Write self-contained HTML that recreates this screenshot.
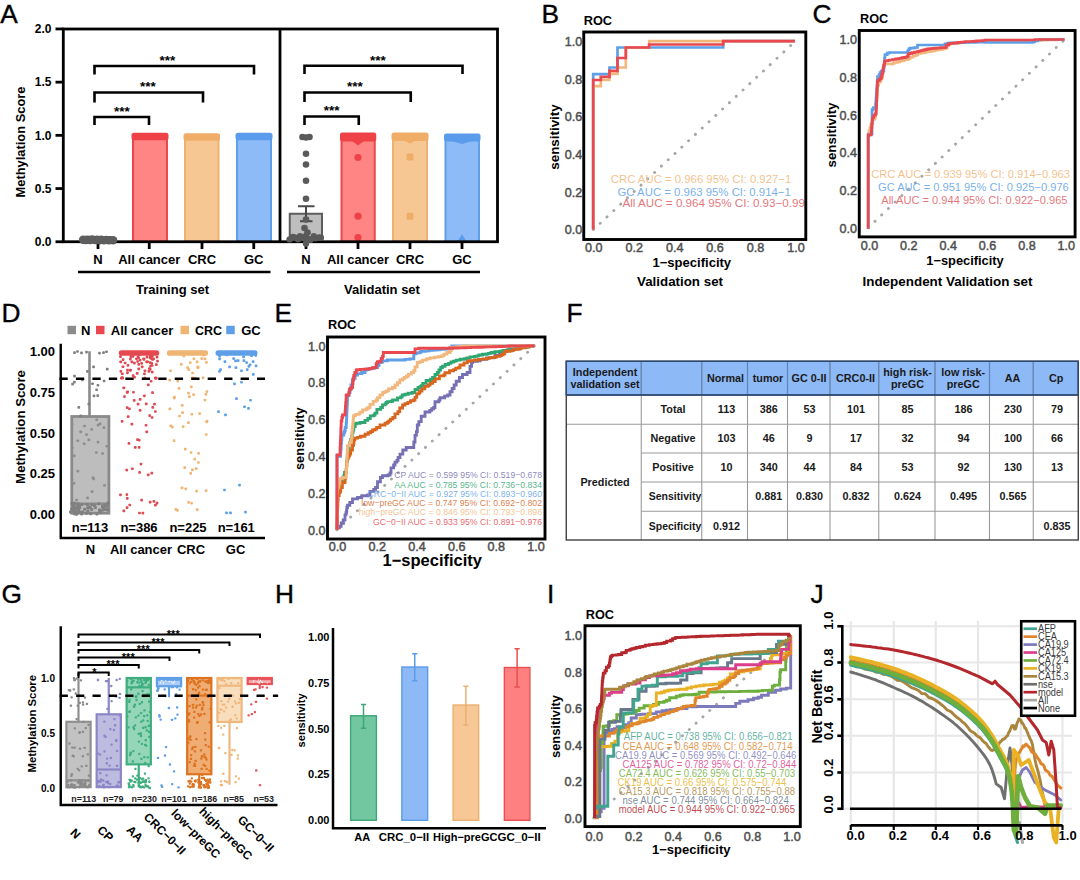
<!DOCTYPE html><html><head><meta charset="utf-8"><title>Figure</title><style>html,body{margin:0;padding:0;background:#fff}svg{display:block}text{font-family:"Liberation Sans",sans-serif}</style></head><body>
<svg width="1080" height="880" viewBox="0 0 1080 880">
<rect width="1080" height="880" fill="#fff"/>
<g id="pA">
<text x="0.30" y="23.20" font-size="26.3" font-weight="normal" fill="#000" text-anchor="start" stroke="#000" stroke-width="0.35">A</text>
<rect x="133.00" y="134.80" width="34.00" height="106.95" fill="#FF8585" stroke="#E8484E" stroke-width="2" />
<rect x="131.50" y="132.80" width="37.00" height="7.5" rx="2.5" fill="#EE4248"/>
<rect x="185.00" y="135.20" width="33.50" height="106.55" fill="#F7C793" stroke="#EDB073" stroke-width="2" />
<rect x="183.50" y="133.20" width="36.50" height="7.5" rx="2.5" fill="#F0AD68"/>
<rect x="237.00" y="134.80" width="34.00" height="106.95" fill="#8DBBF7" stroke="#5F9FEA" stroke-width="2" />
<rect x="235.50" y="132.80" width="37.00" height="7.5" rx="2.5" fill="#5B9BEB"/>
<rect x="289.75" y="213.75" width="32.25" height="28.00" fill="#BEBEBE" stroke="#5E5E5E" stroke-width="2" />
<line x1="306.00" y1="206.25" x2="306.00" y2="221.25" stroke="#4A4A4A" stroke-width="2" />
<line x1="298.00" y1="206.25" x2="314.50" y2="206.25" stroke="#4A4A4A" stroke-width="2" />
<line x1="300.00" y1="221.25" x2="312.50" y2="221.25" stroke="#4A4A4A" stroke-width="2" />
<rect x="341.50" y="134.50" width="33.25" height="107.25" fill="#FF8585" stroke="#E8484E" stroke-width="2" />
<rect x="340.00" y="132.50" width="36.25" height="9" rx="2.5" fill="#EE4248"/>
<path d="M352 141 L358 145.5 L364 141 Z" fill="#EE4248"/>
<rect x="393.00" y="134.50" width="34.00" height="107.25" fill="#F7C793" stroke="#EDB073" stroke-width="2" />
<rect x="391.50" y="132.50" width="37.00" height="8.5" rx="2.5" fill="#F0AD68"/>
<path d="M404 140.5 L410 143.5 L416 140.5 Z" fill="#F0AD68"/>
<rect x="445.50" y="135.50" width="33.50" height="106.25" fill="#8DBBF7" stroke="#5F9FEA" stroke-width="2" />
<rect x="444.00" y="133.50" width="36.50" height="8" rx="2.5" fill="#5B9BEB"/>
<path d="M452 141 L462 144 L472 141 Z" fill="#5B9BEB"/>
<circle cx="358.0" cy="157.5" r="3.6" fill="#EE4248" />
<circle cx="358.0" cy="216.2" r="3.6" fill="#EE4248" />
<circle cx="358.0" cy="237.5" r="3.6" fill="#EE4248" />
<rect x="406.60" y="153.60" width="6.80" height="6.80" fill="#F0AD68" stroke="none" stroke-width="1" rx="1"/>
<rect x="406.60" y="212.85" width="6.80" height="6.80" fill="#F0AD68" stroke="none" stroke-width="1" rx="1"/>
<path d="M458 241 L462 234 L466 241 Z" fill="#5B9BEB"/>
<rect x="63.30" y="29.00" width="434.20" height="212.75" fill="none" stroke="#000" stroke-width="2.8" />
<line x1="280.00" y1="29.00" x2="280.00" y2="241.75" stroke="#000" stroke-width="2.8" />
<line x1="55.50" y1="28.95" x2="63.30" y2="28.95" stroke="#000" stroke-width="2.8" />
<text x="51.50" y="33.25" font-size="12" font-weight="bold" fill="#000" text-anchor="end" >2.0</text>
<line x1="55.50" y1="82.15" x2="63.30" y2="82.15" stroke="#000" stroke-width="2.8" />
<text x="51.50" y="86.45" font-size="12" font-weight="bold" fill="#000" text-anchor="end" >1.5</text>
<line x1="55.50" y1="135.35" x2="63.30" y2="135.35" stroke="#000" stroke-width="2.8" />
<text x="51.50" y="139.65" font-size="12" font-weight="bold" fill="#000" text-anchor="end" >1.0</text>
<line x1="55.50" y1="188.55" x2="63.30" y2="188.55" stroke="#000" stroke-width="2.8" />
<text x="51.50" y="192.85" font-size="12" font-weight="bold" fill="#000" text-anchor="end" >0.5</text>
<line x1="55.50" y1="241.75" x2="63.30" y2="241.75" stroke="#000" stroke-width="2.8" />
<text x="51.50" y="246.05" font-size="12" font-weight="bold" fill="#000" text-anchor="end" >0.0</text>
<line x1="98.00" y1="241.75" x2="98.00" y2="249.00" stroke="#000" stroke-width="2.8" />
<text x="98.00" y="263.75" font-size="13" font-weight="bold" fill="#000" text-anchor="middle" >N</text>
<line x1="149.25" y1="241.75" x2="149.25" y2="249.00" stroke="#000" stroke-width="2.8" />
<text x="149.25" y="263.75" font-size="13" font-weight="bold" fill="#000" text-anchor="middle" >All cancer</text>
<line x1="202.00" y1="241.75" x2="202.00" y2="249.00" stroke="#000" stroke-width="2.8" />
<text x="202.00" y="263.75" font-size="13" font-weight="bold" fill="#000" text-anchor="middle" >CRC</text>
<line x1="253.75" y1="241.75" x2="253.75" y2="249.00" stroke="#000" stroke-width="2.8" />
<text x="253.75" y="263.75" font-size="13" font-weight="bold" fill="#000" text-anchor="middle" >GC</text>
<line x1="306.00" y1="241.75" x2="306.00" y2="249.00" stroke="#000" stroke-width="2.8" />
<text x="306.00" y="263.75" font-size="13" font-weight="bold" fill="#000" text-anchor="middle" >N</text>
<line x1="358.00" y1="241.75" x2="358.00" y2="249.00" stroke="#000" stroke-width="2.8" />
<text x="358.00" y="263.75" font-size="13" font-weight="bold" fill="#000" text-anchor="middle" >All cancer</text>
<line x1="410.00" y1="241.75" x2="410.00" y2="249.00" stroke="#000" stroke-width="2.8" />
<text x="410.00" y="263.75" font-size="13" font-weight="bold" fill="#000" text-anchor="middle" >CRC</text>
<line x1="462.00" y1="241.75" x2="462.00" y2="249.00" stroke="#000" stroke-width="2.8" />
<text x="462.00" y="263.75" font-size="13" font-weight="bold" fill="#000" text-anchor="middle" >GC</text>
<line x1="78.00" y1="272.00" x2="270.50" y2="272.00" stroke="#000" stroke-width="2.6" />
<line x1="287.00" y1="272.00" x2="480.00" y2="272.00" stroke="#000" stroke-width="2.6" />
<text x="172.50" y="293.75" font-size="13" font-weight="bold" fill="#000" text-anchor="middle" >Training set</text>
<text x="382.00" y="293.75" font-size="13" font-weight="bold" fill="#000" text-anchor="middle" >Validatin set</text>
<text x="25.00" y="142.00" font-size="13" font-weight="bold" fill="#000" text-anchor="middle" transform="rotate(-90 25.00 142.00)" textLength="111.00" lengthAdjust="spacingAndGlyphs" >Methylation Score</text>
<circle cx="302.5" cy="137.0" r="3.3" fill="#5A5A5A" />
<circle cx="306.0" cy="137.5" r="3.3" fill="#5A5A5A" />
<circle cx="309.5" cy="137.0" r="3.3" fill="#5A5A5A" />
<circle cx="306.0" cy="153.8" r="3.3" fill="#5A5A5A" />
<circle cx="306.0" cy="164.5" r="3.3" fill="#5A5A5A" />
<circle cx="306.0" cy="180.8" r="3.3" fill="#5A5A5A" />
<circle cx="306.0" cy="198.8" r="3.3" fill="#5A5A5A" />
<circle cx="306.0" cy="219.5" r="3.3" fill="#5A5A5A" />
<circle cx="304.5" cy="228.0" r="3.3" fill="#5A5A5A" />
<circle cx="307.5" cy="232.5" r="3.3" fill="#5A5A5A" />
<circle cx="289.6" cy="239.4" r="3.2" fill="#5A5A5A" />
<circle cx="292.9" cy="237.0" r="3.2" fill="#5A5A5A" />
<circle cx="295.2" cy="237.8" r="3.2" fill="#5A5A5A" />
<circle cx="298.0" cy="239.2" r="3.2" fill="#5A5A5A" />
<circle cx="300.0" cy="236.1" r="3.2" fill="#5A5A5A" />
<circle cx="303.3" cy="237.7" r="3.2" fill="#5A5A5A" />
<circle cx="305.9" cy="236.0" r="3.2" fill="#5A5A5A" />
<circle cx="308.1" cy="238.9" r="3.2" fill="#5A5A5A" />
<circle cx="310.5" cy="239.8" r="3.2" fill="#5A5A5A" />
<circle cx="313.8" cy="236.1" r="3.2" fill="#5A5A5A" />
<circle cx="315.5" cy="238.2" r="3.2" fill="#5A5A5A" />
<circle cx="319.0" cy="237.5" r="3.2" fill="#5A5A5A" />
<circle cx="320.9" cy="237.7" r="3.2" fill="#5A5A5A" />
<circle cx="306.0" cy="243.5" r="3.2" fill="#5A5A5A" />
<circle cx="83.1" cy="239.7" r="4.2" fill="#5E5E5E" />
<circle cx="85.7" cy="240.0" r="4.2" fill="#5E5E5E" />
<circle cx="87.8" cy="239.7" r="4.2" fill="#5E5E5E" />
<circle cx="90.0" cy="240.0" r="4.2" fill="#5E5E5E" />
<circle cx="92.3" cy="239.5" r="4.2" fill="#5E5E5E" />
<circle cx="95.0" cy="240.1" r="4.2" fill="#5E5E5E" />
<circle cx="97.1" cy="239.7" r="4.2" fill="#5E5E5E" />
<circle cx="99.6" cy="240.4" r="4.2" fill="#5E5E5E" />
<circle cx="101.2" cy="239.8" r="4.2" fill="#5E5E5E" />
<circle cx="103.9" cy="240.2" r="4.2" fill="#5E5E5E" />
<circle cx="106.3" cy="239.9" r="4.2" fill="#5E5E5E" />
<circle cx="108.5" cy="240.2" r="4.2" fill="#5E5E5E" />
<circle cx="110.3" cy="240.1" r="4.2" fill="#5E5E5E" />
<circle cx="113.1" cy="240.3" r="4.2" fill="#5E5E5E" />
<path d="M94.5 125 V117 H149 V125" fill="none" stroke="#000" stroke-width="2.6"/>
<text x="122.00" y="115.80" font-size="13.5" font-weight="bold" fill="#000" text-anchor="middle" >***</text>
<path d="M94.5 102.5 V92.5 H203 V102.5" fill="none" stroke="#000" stroke-width="2.6"/>
<text x="148.00" y="91.30" font-size="13.5" font-weight="bold" fill="#000" text-anchor="middle" >***</text>
<path d="M94.5 74.5 V66 H254 V74.5" fill="none" stroke="#000" stroke-width="2.6"/>
<text x="167.50" y="64.80" font-size="13.5" font-weight="bold" fill="#000" text-anchor="middle" >***</text>
<path d="M304.5 125 V116.5 H358.75 V125" fill="none" stroke="#000" stroke-width="2.6"/>
<text x="331.75" y="115.30" font-size="13.5" font-weight="bold" fill="#000" text-anchor="middle" >***</text>
<path d="M304.5 102 V92.5 H410.75 V102" fill="none" stroke="#000" stroke-width="2.6"/>
<text x="355.00" y="91.30" font-size="13.5" font-weight="bold" fill="#000" text-anchor="middle" >***</text>
<path d="M304.5 74 V65.75 H462.5 V74" fill="none" stroke="#000" stroke-width="2.6"/>
<text x="378.00" y="64.55" font-size="13.5" font-weight="bold" fill="#000" text-anchor="middle" >***</text>
</g>
<g id="pB">
<text x="541.40" y="23.20" font-size="26.3" font-weight="normal" fill="#000" text-anchor="start" stroke="#000" stroke-width="0.35">B</text>
<line x1="593.40" y1="229.60" x2="795.10" y2="41.40" stroke="#A6A6A6" stroke-width="2.9" stroke-linecap="round" stroke-dasharray="0.1 9.2"/>
<polyline points="593.2,229.5 593.2,74.2 609.5,74.2 609.5,67.5 617.5,67.5 617.5,47.5 723.2,47.5 723.2,41.2 795.0,41.2" fill="none" stroke="#5E9FE8" stroke-width="2.7" stroke-linejoin="miter"/>
<polyline points="593.2,229.5 593.2,86.2 600.8,86.2 600.8,80.0 609.5,80.0 609.5,73.8 617.5,73.8 617.5,67.5 625.8,67.5 625.8,47.5 649.2,47.5 649.2,41.2 795.0,41.2" fill="none" stroke="#F2B77C" stroke-width="2.7" stroke-linejoin="miter"/>
<polyline points="593.2,229.5 593.2,80.0 600.8,80.0 600.8,76.8 609.5,76.8 609.5,70.8 617.5,70.8 617.5,58.0 625.8,58.0 625.8,47.5 649.2,47.5 649.2,44.5 723.2,44.5 723.2,41.2 795.0,41.2" fill="none" stroke="#E8484E" stroke-width="2.7" stroke-linejoin="miter"/>
<clipPath id="cB"><rect x="584" y="32" width="221" height="206"/></clipPath>
<g clip-path="url(#cB)">
<text x="610.75" y="183.05" font-size="11.3" font-weight="normal" fill="#F2B77C" text-anchor="start" textLength="180.50" lengthAdjust="spacingAndGlyphs" fill-opacity="0.88">CRC AUC = 0.966 95% CI: 0.927−1</text>
<text x="617.50" y="195.55" font-size="11.3" font-weight="normal" fill="#5E9FE8" text-anchor="start" textLength="173.30" lengthAdjust="spacingAndGlyphs" fill-opacity="0.85">GC AUC = 0.963 95% CI: 0.914−1</text>
<text x="622.50" y="207.05" font-size="11.3" font-weight="normal" fill="#E0545A" text-anchor="start" textLength="189.00" lengthAdjust="spacingAndGlyphs" fill-opacity="0.82">All AUC = 0.964 95% CI: 0.93−0.999</text>
</g>
<rect x="583.75" y="32.00" width="222.05" height="207.50" fill="none" stroke="#000" stroke-width="2.9" />
<text x="582.20" y="234.41" font-size="12.6" font-weight="normal" fill="#4D4D4D" text-anchor="end" stroke="#4D4D4D" stroke-width="0.45">0.0</text>
<text x="593.75" y="251.51" font-size="12.6" font-weight="normal" fill="#4D4D4D" text-anchor="middle" stroke="#4D4D4D" stroke-width="0.45">0.0</text>
<text x="582.20" y="196.77" font-size="12.6" font-weight="normal" fill="#4D4D4D" text-anchor="end" stroke="#4D4D4D" stroke-width="0.45">0.2</text>
<text x="634.20" y="251.51" font-size="12.6" font-weight="normal" fill="#4D4D4D" text-anchor="middle" stroke="#4D4D4D" stroke-width="0.45">0.2</text>
<text x="582.20" y="159.13" font-size="12.6" font-weight="normal" fill="#4D4D4D" text-anchor="end" stroke="#4D4D4D" stroke-width="0.45">0.4</text>
<text x="674.65" y="251.51" font-size="12.6" font-weight="normal" fill="#4D4D4D" text-anchor="middle" stroke="#4D4D4D" stroke-width="0.45">0.4</text>
<text x="582.20" y="121.49" font-size="12.6" font-weight="normal" fill="#4D4D4D" text-anchor="end" stroke="#4D4D4D" stroke-width="0.45">0.6</text>
<text x="715.10" y="251.51" font-size="12.6" font-weight="normal" fill="#4D4D4D" text-anchor="middle" stroke="#4D4D4D" stroke-width="0.45">0.6</text>
<text x="582.20" y="83.85" font-size="12.6" font-weight="normal" fill="#4D4D4D" text-anchor="end" stroke="#4D4D4D" stroke-width="0.45">0.8</text>
<text x="755.55" y="251.51" font-size="12.6" font-weight="normal" fill="#4D4D4D" text-anchor="middle" stroke="#4D4D4D" stroke-width="0.45">0.8</text>
<text x="582.20" y="46.21" font-size="12.6" font-weight="normal" fill="#4D4D4D" text-anchor="end" stroke="#4D4D4D" stroke-width="0.45">1.0</text>
<text x="796.00" y="251.51" font-size="12.6" font-weight="normal" fill="#4D4D4D" text-anchor="middle" stroke="#4D4D4D" stroke-width="0.45">1.0</text>
<text x="559.00" y="137.00" font-size="13" font-weight="bold" fill="#000" text-anchor="middle" transform="rotate(-90 559.00 137.00)" textLength="65.50" lengthAdjust="spacingAndGlyphs" >sensitivity</text>
<text x="583.75" y="25.00" font-size="13" font-weight="bold" fill="#000" text-anchor="start" textLength="28.30" lengthAdjust="spacingAndGlyphs" >ROC</text>
<text x="691.75" y="267.15" font-size="13" font-weight="bold" fill="#000" text-anchor="middle" textLength="78.75" lengthAdjust="spacingAndGlyphs" >1−specificity</text>
<text x="680.00" y="286.00" font-size="13.3" font-weight="bold" fill="#000" text-anchor="middle" textLength="86.00" lengthAdjust="spacingAndGlyphs" >Validation set</text>
</g>
<g id="pC">
<text x="812.60" y="23.20" font-size="26.3" font-weight="normal" fill="#000" text-anchor="start" stroke="#000" stroke-width="0.35">C</text>
<line x1="868.25" y1="227.80" x2="1064.50" y2="39.60" stroke="#A6A6A6" stroke-width="2.9" stroke-linecap="round" stroke-dasharray="0.1 9.2"/>
<polyline points="868.2,228.8 868.2,136.2 868.2,136.2 868.2,133.7 869.0,133.7 869.0,130.8 869.9,130.8 869.9,127.7 870.9,127.7 870.9,124.3 871.9,124.3 871.9,122.5 872.5,122.5 872.5,119.5 874.3,119.5 874.3,118.6 874.9,118.6 874.9,117.5 875.5,117.5 875.5,113.9 875.8,113.9 875.8,111.2 876.0,111.2 876.0,107.7 876.3,107.7 876.3,106.4 876.4,106.4 876.4,104.1 876.6,104.1 876.6,102.5 876.7,102.5 876.7,100.0 876.9,100.0 876.9,97.4 877.1,97.4 877.1,96.4 877.2,96.4 877.2,94.8 877.3,94.8 877.3,93.1 877.5,93.1 877.5,89.6 877.7,89.6 877.7,86.2 878.0,86.2 878.0,85.0 878.7,85.0 878.7,82.1 880.1,82.1 880.1,80.9 880.7,80.9 880.7,78.5 882.0,78.5 882.0,77.5 882.5,77.5 882.5,76.5 882.7,76.5 882.7,73.2 883.3,73.2 883.3,71.6 883.5,71.6 883.5,70.1 883.8,70.1 883.8,66.5 884.5,66.5 884.5,63.5 885.0,63.5 885.0,64.0 892.5,64.0 892.5,63.5 894.2,63.5 894.2,62.5 897.7,62.5 897.7,61.8 900.1,61.8 900.1,61.0 902.8,61.0 902.8,60.6 904.3,60.6 904.3,59.6 907.8,59.6 907.8,59.0 910.0,59.0 910.0,57.2 913.2,57.2 913.2,55.6 916.2,55.6 916.2,54.7 917.8,54.7 917.8,53.5 920.0,53.5 920.0,53.2 921.4,53.2 921.4,53.0 922.8,53.0 922.8,52.8 923.9,52.8 923.9,52.4 925.7,52.4 925.7,52.0 928.3,52.0 928.3,51.8 929.3,51.8 929.3,51.3 932.1,51.3 932.1,50.9 934.0,50.9 934.0,50.8 935.0,50.8 935.0,50.1 938.2,50.1 938.2,49.7 940.4,49.7 940.4,49.3 942.3,49.3 942.3,48.8 944.5,48.8 944.5,48.5 946.2,48.5 946.2,47.6 947.0,47.6 947.0,44.7 949.2,44.7 949.2,43.8 950.0,43.8 950.0,43.5 953.0,43.5 953.0,43.2 956.3,43.2 956.3,43.1 957.4,43.1 957.4,42.9 960.5,42.9 960.5,42.7 962.5,42.7 962.5,42.5 965.0,42.5 965.0,42.4 966.0,42.4 966.0,42.4 967.1,42.4 967.1,42.3 968.6,42.3 968.6,42.0 972.2,42.0 972.2,42.0 973.8,42.0 973.8,41.8 976.8,41.8 976.8,41.5 980.4,41.5 980.4,41.3 983.9,41.3 983.9,41.2 985.0,41.2 985.0,41.2 987.0,41.2 987.0,41.2 989.4,41.2 989.4,41.1 992.5,41.1 992.5,41.1 993.8,41.1 993.8,41.1 996.9,41.1 996.9,41.0 1000.0,41.0 1000.0,41.0 1003.4,41.0 1003.4,41.0 1004.5,41.0 1004.5,40.9 1008.1,40.9 1008.1,40.9 1009.3,40.9 1009.3,40.9 1011.2,40.9 1011.2,40.8 1013.9,40.8 1013.9,40.8 1017.4,40.8 1017.4,40.7 1019.3,40.7 1019.3,40.7 1022.9,40.7 1022.9,40.6 1025.4,40.6 1025.4,40.6 1027.2,40.6 1027.2,40.6 1029.1,40.6 1029.1,40.6 1030.6,40.6 1030.6,40.5 1031.8,40.5 1031.8,40.5 1033.2,40.5 1033.2,40.5 1035.0,40.5 1035.0,40.4 1038.7,40.4 1038.7,40.3 1040.2,40.3 1040.2,40.3 1041.3,40.3 1041.3,40.2 1045.0,40.2 1045.0,40.1 1047.4,40.1 1047.4,40.0 1049.5,40.0 1049.5,40.0 1051.2,40.0 1051.2,39.9 1053.8,39.9 1053.8,39.8 1057.1,39.8 1057.1,39.7 1059.3,39.7 1059.3,39.6 1061.5,39.6 1061.5,39.6 1062.6,39.6 1062.6,39.5 1064.5,39.5" fill="none" stroke="#F2B77C" stroke-width="2.7" stroke-linejoin="miter"/>
<polyline points="868.2,228.8 868.2,136.2 868.2,136.2 868.2,135.7 869.1,135.7 869.1,134.3 871.1,134.3 871.1,133.8 872.0,133.8 872.0,110.0 872.5,110.0 872.5,109.1 873.5,109.1 873.5,107.5 875.5,107.5 875.5,103.9 875.8,103.9 875.8,101.2 876.0,101.2 876.0,98.0 876.2,98.0 876.2,96.8 876.3,96.8 876.3,94.6 876.4,94.6 876.4,93.2 876.5,93.2 876.5,89.9 876.8,89.9 876.8,88.1 876.9,88.1 876.9,85.9 877.1,85.9 877.1,82.1 877.3,82.1 877.3,80.0 877.5,80.0 877.5,76.7 879.1,76.7 879.1,74.7 880.1,74.7 880.1,72.5 881.2,72.5 881.2,71.2 883.8,71.2 883.8,69.0 883.9,69.0 883.9,67.2 884.1,67.2 884.1,65.1 884.3,65.1 884.3,63.7 884.4,63.7 884.4,61.7 884.5,61.7 884.5,58.0 884.9,58.0 884.9,56.2 885.0,56.2 885.0,54.6 887.2,54.6 887.2,53.2 889.1,53.2 889.1,52.5 890.0,52.5 890.0,52.5 907.5,52.5 907.5,51.5 908.2,51.5 908.2,50.0 909.1,50.0 909.1,48.8 910.0,48.8 910.0,48.2 913.3,48.2 913.3,47.9 915.3,47.9 915.3,47.5 917.5,47.5 917.5,45.0 918.8,45.0 918.8,45.0 945.0,45.0 945.0,43.9 947.7,43.9 947.7,43.0 950.0,43.0 950.0,42.9 953.1,42.9 953.1,42.9 955.1,42.9 955.1,42.8 958.0,42.8 958.0,42.7 959.8,42.7 959.8,42.7 962.1,42.7 962.1,42.6 965.2,42.6 965.2,42.5 968.1,42.5 968.1,42.4 969.9,42.4 969.9,42.3 973.5,42.3 973.5,42.3 976.2,42.3 976.2,42.2 978.8,42.2 978.8,42.1 979.8,42.1 979.8,42.1 982.3,42.1 982.3,42.0 984.0,42.0 984.0,42.0 985.0,42.0 985.0,42.5 1032.5,42.5 1032.5,41.8 1034.6,41.8 1034.6,40.8 1037.7,40.8 1037.7,40.0 1040.0,40.0 1040.0,39.5 1064.5,39.5" fill="none" stroke="#5E9FE8" stroke-width="2.7" stroke-linejoin="miter"/>
<polyline points="868.2,228.8 868.2,136.2 868.2,136.2 868.2,135.0 871.2,135.0 871.2,133.1 871.4,133.1 871.4,130.3 871.6,130.3 871.6,127.3 871.9,127.3 871.9,124.0 872.2,124.0 872.2,122.1 872.3,122.1 872.3,120.0 872.5,120.0 872.5,117.5 873.8,117.5 873.8,115.1 875.3,115.1 875.3,113.8 876.2,113.8 876.2,110.1 876.4,110.1 876.4,107.7 876.5,107.7 876.5,105.3 876.6,105.3 876.6,103.8 876.6,103.8 876.6,100.5 876.8,100.5 876.8,97.0 876.9,97.0 876.9,94.7 877.0,94.7 877.0,91.8 877.1,91.8 877.1,88.8 877.2,88.8 877.2,85.8 877.4,85.8 877.4,84.4 877.4,84.4 877.4,82.5 877.5,82.5 877.5,80.7 879.3,80.7 879.3,78.8 881.2,78.8 881.2,76.7 881.8,76.7 881.8,73.8 882.5,73.8 882.5,70.7 883.1,70.7 883.1,68.0 883.6,68.0 883.6,65.1 884.2,65.1 884.2,64.0 884.4,64.0 884.4,62.6 884.7,62.6 884.7,61.2 885.0,61.2 885.0,60.8 887.7,60.8 887.7,60.5 889.3,60.5 889.3,60.0 892.5,60.0 892.5,59.5 895.2,59.5 895.2,59.2 896.3,59.2 896.3,58.8 898.5,58.8 898.5,58.5 900.1,58.5 900.1,58.3 901.2,58.3 901.2,58.0 902.5,58.0 902.5,57.6 904.4,57.6 904.4,57.3 905.8,57.3 905.8,57.0 907.5,57.0 907.5,56.1 908.2,56.1 908.2,53.8 910.0,53.8 910.0,53.3 912.0,53.3 912.0,52.6 914.6,52.6 914.6,52.0 917.1,52.0 917.1,51.6 918.7,51.6 918.7,51.2 920.0,51.2 920.0,51.0 921.0,51.0 921.0,50.5 923.0,50.5 923.0,50.1 924.7,50.1 924.7,49.6 926.8,49.6 926.8,49.2 928.0,49.2 928.0,48.8 930.0,48.8 930.0,48.6 932.0,48.6 932.0,48.5 933.1,48.5 933.1,48.3 935.8,48.3 935.8,48.2 937.0,48.2 937.0,48.0 939.5,48.0 939.5,47.9 941.4,47.9 941.4,47.7 944.0,47.7 944.0,47.5 946.2,47.5 946.2,45.2 948.5,45.2 948.5,43.8 950.0,43.8 950.0,43.4 953.2,43.4 953.2,43.1 955.9,43.1 955.9,42.8 957.9,42.8 957.9,42.7 959.3,42.7 959.3,42.4 961.9,42.4 961.9,42.0 965.0,42.0 965.0,41.7 968.6,41.7 968.6,41.5 972.3,41.5 972.3,41.3 974.9,41.3 974.9,41.1 976.9,41.1 976.9,40.9 980.3,40.9 980.3,40.8 981.3,40.8 981.3,40.7 982.6,40.7 982.6,40.5 985.0,40.5 985.0,40.0 1035.0,40.0 1035.0,39.5 1064.5,39.5" fill="none" stroke="#E8484E" stroke-width="2.7" stroke-linejoin="miter"/>
<text x="871.25" y="178.30" font-size="11.3" font-weight="normal" fill="#F2B77C" text-anchor="start" textLength="198.75" lengthAdjust="spacingAndGlyphs" fill-opacity="0.88">CRC AUC = 0.939 95% CI: 0.914−0.963</text>
<text x="878.00" y="191.05" font-size="11.3" font-weight="normal" fill="#5E9FE8" text-anchor="start" textLength="190.75" lengthAdjust="spacingAndGlyphs" fill-opacity="0.85">GC AUC = 0.951 95% CI: 0.925−0.976</text>
<text x="881.25" y="204.05" font-size="11.3" font-weight="normal" fill="#E0545A" text-anchor="start" textLength="186.25" lengthAdjust="spacingAndGlyphs" fill-opacity="0.82">All AUC = 0.944 95% CI: 0.922−0.965</text>
<rect x="859.25" y="30.50" width="215.85" height="206.40" fill="none" stroke="#000" stroke-width="2.9" />
<text x="857.00" y="232.61" font-size="12.6" font-weight="normal" fill="#4D4D4D" text-anchor="end" stroke="#4D4D4D" stroke-width="0.45">0.0</text>
<text x="869.50" y="249.51" font-size="12.6" font-weight="normal" fill="#4D4D4D" text-anchor="middle" stroke="#4D4D4D" stroke-width="0.45">0.0</text>
<text x="857.00" y="194.97" font-size="12.6" font-weight="normal" fill="#4D4D4D" text-anchor="end" stroke="#4D4D4D" stroke-width="0.45">0.2</text>
<text x="908.85" y="249.51" font-size="12.6" font-weight="normal" fill="#4D4D4D" text-anchor="middle" stroke="#4D4D4D" stroke-width="0.45">0.2</text>
<text x="857.00" y="157.33" font-size="12.6" font-weight="normal" fill="#4D4D4D" text-anchor="end" stroke="#4D4D4D" stroke-width="0.45">0.4</text>
<text x="948.20" y="249.51" font-size="12.6" font-weight="normal" fill="#4D4D4D" text-anchor="middle" stroke="#4D4D4D" stroke-width="0.45">0.4</text>
<text x="857.00" y="119.69" font-size="12.6" font-weight="normal" fill="#4D4D4D" text-anchor="end" stroke="#4D4D4D" stroke-width="0.45">0.6</text>
<text x="987.55" y="249.51" font-size="12.6" font-weight="normal" fill="#4D4D4D" text-anchor="middle" stroke="#4D4D4D" stroke-width="0.45">0.6</text>
<text x="857.00" y="82.05" font-size="12.6" font-weight="normal" fill="#4D4D4D" text-anchor="end" stroke="#4D4D4D" stroke-width="0.45">0.8</text>
<text x="1026.90" y="249.51" font-size="12.6" font-weight="normal" fill="#4D4D4D" text-anchor="middle" stroke="#4D4D4D" stroke-width="0.45">0.8</text>
<text x="857.00" y="44.41" font-size="12.6" font-weight="normal" fill="#4D4D4D" text-anchor="end" stroke="#4D4D4D" stroke-width="0.45">1.0</text>
<text x="1066.25" y="249.51" font-size="12.6" font-weight="normal" fill="#4D4D4D" text-anchor="middle" stroke="#4D4D4D" stroke-width="0.45">1.0</text>
<text x="836.00" y="135.00" font-size="13" font-weight="bold" fill="#000" text-anchor="middle" transform="rotate(-90 836.00 135.00)" textLength="65.00" lengthAdjust="spacingAndGlyphs" >sensitivity</text>
<text x="860.00" y="23.00" font-size="13" font-weight="bold" fill="#000" text-anchor="start" textLength="28.30" lengthAdjust="spacingAndGlyphs" >ROC</text>
<text x="965.00" y="264.65" font-size="13" font-weight="bold" fill="#000" text-anchor="middle" textLength="77.50" lengthAdjust="spacingAndGlyphs" >1−specificity</text>
<text x="947.50" y="286.30" font-size="13.4" font-weight="bold" fill="#000" text-anchor="middle" textLength="170.00" lengthAdjust="spacingAndGlyphs" >Independent Validation set</text>
</g>
<g id="pD">
<text x="1.40" y="322.00" font-size="26.3" font-weight="normal" fill="#000" text-anchor="start" stroke="#000" stroke-width="0.35">D</text>
<rect x="67.50" y="325.80" width="8.50" height="8.40" fill="#8C8C8C" stroke="none" stroke-width="1" />
<rect x="96.00" y="325.80" width="8.50" height="8.40" fill="#E8484E" stroke="none" stroke-width="1" />
<rect x="180.50" y="325.80" width="8.50" height="8.40" fill="#F0B573" stroke="none" stroke-width="1" />
<rect x="226.25" y="325.80" width="8.50" height="8.40" fill="#5E9FE8" stroke="none" stroke-width="1" />
<text x="81.00" y="334.65" font-size="13" font-weight="bold" fill="#000" text-anchor="start" >N</text>
<text x="110.75" y="334.65" font-size="13" font-weight="bold" fill="#000" text-anchor="start" textLength="62.50" lengthAdjust="spacingAndGlyphs" >All cancer</text>
<text x="195.00" y="334.65" font-size="13" font-weight="bold" fill="#000" text-anchor="start" textLength="27.00" lengthAdjust="spacingAndGlyphs" >CRC</text>
<text x="241.25" y="334.65" font-size="13" font-weight="bold" fill="#000" text-anchor="start" >GC</text>
<rect x="71.75" y="416.50" width="37.15" height="96.70" fill="#BDBDBD" stroke="#8A8A8A" stroke-width="2.8" />
<line x1="71.75" y1="503.75" x2="108.90" y2="503.75" stroke="#8A8A8A" stroke-width="2.4" />
<line x1="89.50" y1="416.25" x2="89.50" y2="351.25" stroke="#8A8A8A" stroke-width="2.6" />
<rect x="86.19" y="506.60" width="3.00" height="3.00" fill="#808080" stroke="none" stroke-width="1" rx="0.8"/>
<rect x="104.12" y="507.68" width="3.00" height="3.00" fill="#808080" stroke="none" stroke-width="1" rx="0.8"/>
<rect x="88.30" y="506.29" width="3.00" height="3.00" fill="#808080" stroke="none" stroke-width="1" rx="0.8"/>
<rect x="76.02" y="507.15" width="3.00" height="3.00" fill="#808080" stroke="none" stroke-width="1" rx="0.8"/>
<rect x="92.94" y="503.94" width="3.00" height="3.00" fill="#808080" stroke="none" stroke-width="1" rx="0.8"/>
<rect x="72.58" y="509.53" width="3.00" height="3.00" fill="#808080" stroke="none" stroke-width="1" rx="0.8"/>
<rect x="72.45" y="503.75" width="3.00" height="3.00" fill="#808080" stroke="none" stroke-width="1" rx="0.8"/>
<rect x="95.35" y="512.52" width="3.00" height="3.00" fill="#808080" stroke="none" stroke-width="1" rx="0.8"/>
<rect x="106.32" y="501.98" width="3.00" height="3.00" fill="#808080" stroke="none" stroke-width="1" rx="0.8"/>
<rect x="93.85" y="505.97" width="3.00" height="3.00" fill="#808080" stroke="none" stroke-width="1" rx="0.8"/>
<rect x="74.98" y="512.83" width="3.00" height="3.00" fill="#808080" stroke="none" stroke-width="1" rx="0.8"/>
<rect x="89.08" y="512.32" width="3.00" height="3.00" fill="#808080" stroke="none" stroke-width="1" rx="0.8"/>
<rect x="76.23" y="510.24" width="3.00" height="3.00" fill="#808080" stroke="none" stroke-width="1" rx="0.8"/>
<rect x="70.14" y="507.70" width="3.00" height="3.00" fill="#808080" stroke="none" stroke-width="1" rx="0.8"/>
<rect x="85.74" y="503.37" width="3.00" height="3.00" fill="#808080" stroke="none" stroke-width="1" rx="0.8"/>
<rect x="88.73" y="505.68" width="3.00" height="3.00" fill="#808080" stroke="none" stroke-width="1" rx="0.8"/>
<rect x="87.99" y="505.43" width="3.00" height="3.00" fill="#808080" stroke="none" stroke-width="1" rx="0.8"/>
<rect x="86.38" y="509.82" width="3.00" height="3.00" fill="#808080" stroke="none" stroke-width="1" rx="0.8"/>
<rect x="106.91" y="501.62" width="3.00" height="3.00" fill="#808080" stroke="none" stroke-width="1" rx="0.8"/>
<rect x="100.93" y="504.91" width="3.00" height="3.00" fill="#808080" stroke="none" stroke-width="1" rx="0.8"/>
<rect x="80.98" y="510.38" width="3.00" height="3.00" fill="#808080" stroke="none" stroke-width="1" rx="0.8"/>
<rect x="79.98" y="512.20" width="3.00" height="3.00" fill="#808080" stroke="none" stroke-width="1" rx="0.8"/>
<rect x="98.12" y="508.42" width="3.00" height="3.00" fill="#808080" stroke="none" stroke-width="1" rx="0.8"/>
<rect x="101.17" y="508.58" width="3.00" height="3.00" fill="#808080" stroke="none" stroke-width="1" rx="0.8"/>
<rect x="105.41" y="503.32" width="3.00" height="3.00" fill="#808080" stroke="none" stroke-width="1" rx="0.8"/>
<rect x="69.02" y="510.60" width="3.00" height="3.00" fill="#808080" stroke="none" stroke-width="1" rx="0.8"/>
<rect x="103.59" y="507.63" width="3.00" height="3.00" fill="#808080" stroke="none" stroke-width="1" rx="0.8"/>
<rect x="106.25" y="508.46" width="3.00" height="3.00" fill="#808080" stroke="none" stroke-width="1" rx="0.8"/>
<rect x="71.78" y="505.81" width="3.00" height="3.00" fill="#808080" stroke="none" stroke-width="1" rx="0.8"/>
<rect x="98.58" y="509.92" width="3.00" height="3.00" fill="#808080" stroke="none" stroke-width="1" rx="0.8"/>
<rect x="72.31" y="509.20" width="3.00" height="3.00" fill="#808080" stroke="none" stroke-width="1" rx="0.8"/>
<rect x="105.63" y="504.34" width="3.00" height="3.00" fill="#808080" stroke="none" stroke-width="1" rx="0.8"/>
<rect x="73.48" y="510.18" width="3.00" height="3.00" fill="#808080" stroke="none" stroke-width="1" rx="0.8"/>
<rect x="72.84" y="512.32" width="3.00" height="3.00" fill="#808080" stroke="none" stroke-width="1" rx="0.8"/>
<rect x="99.29" y="510.97" width="3.00" height="3.00" fill="#808080" stroke="none" stroke-width="1" rx="0.8"/>
<rect x="90.25" y="507.89" width="3.00" height="3.00" fill="#808080" stroke="none" stroke-width="1" rx="0.8"/>
<rect x="76.25" y="504.64" width="3.00" height="3.00" fill="#808080" stroke="none" stroke-width="1" rx="0.8"/>
<rect x="73.98" y="505.64" width="3.00" height="3.00" fill="#808080" stroke="none" stroke-width="1" rx="0.8"/>
<rect x="73.43" y="508.19" width="3.00" height="3.00" fill="#808080" stroke="none" stroke-width="1" rx="0.8"/>
<rect x="77.09" y="509.92" width="3.00" height="3.00" fill="#808080" stroke="none" stroke-width="1" rx="0.8"/>
<rect x="105.90" y="503.82" width="3.00" height="3.00" fill="#808080" stroke="none" stroke-width="1" rx="0.8"/>
<rect x="80.56" y="502.89" width="3.00" height="3.00" fill="#808080" stroke="none" stroke-width="1" rx="0.8"/>
<rect x="77.01" y="508.49" width="3.00" height="3.00" fill="#808080" stroke="none" stroke-width="1" rx="0.8"/>
<rect x="101.47" y="505.67" width="3.00" height="3.00" fill="#808080" stroke="none" stroke-width="1" rx="0.8"/>
<rect x="72.81" y="501.69" width="3.00" height="3.00" fill="#808080" stroke="none" stroke-width="1" rx="0.8"/>
<rect x="77.10" y="510.05" width="3.00" height="3.00" fill="#808080" stroke="none" stroke-width="1" rx="0.8"/>
<rect x="98.36" y="509.24" width="3.00" height="3.00" fill="#808080" stroke="none" stroke-width="1" rx="0.8"/>
<rect x="80.26" y="512.16" width="3.00" height="3.00" fill="#808080" stroke="none" stroke-width="1" rx="0.8"/>
<rect x="72.42" y="506.34" width="3.00" height="3.00" fill="#808080" stroke="none" stroke-width="1" rx="0.8"/>
<rect x="78.23" y="506.13" width="3.00" height="3.00" fill="#808080" stroke="none" stroke-width="1" rx="0.8"/>
<rect x="83.12" y="507.82" width="3.00" height="3.00" fill="#808080" stroke="none" stroke-width="1" rx="0.8"/>
<rect x="105.45" y="507.47" width="3.00" height="3.00" fill="#808080" stroke="none" stroke-width="1" rx="0.8"/>
<rect x="90.83" y="503.10" width="3.00" height="3.00" fill="#808080" stroke="none" stroke-width="1" rx="0.8"/>
<rect x="75.95" y="511.24" width="3.00" height="3.00" fill="#808080" stroke="none" stroke-width="1" rx="0.8"/>
<rect x="103.52" y="503.65" width="3.00" height="3.00" fill="#808080" stroke="none" stroke-width="1" rx="0.8"/>
<rect x="78.48" y="510.83" width="3.00" height="3.00" fill="#808080" stroke="none" stroke-width="1" rx="0.8"/>
<rect x="97.10" y="502.25" width="3.00" height="3.00" fill="#808080" stroke="none" stroke-width="1" rx="0.8"/>
<rect x="76.47" y="502.14" width="3.00" height="3.00" fill="#808080" stroke="none" stroke-width="1" rx="0.8"/>
<rect x="102.52" y="506.10" width="3.00" height="3.00" fill="#808080" stroke="none" stroke-width="1" rx="0.8"/>
<rect x="85.02" y="511.81" width="3.00" height="3.00" fill="#808080" stroke="none" stroke-width="1" rx="0.8"/>
<rect x="70.47" y="502.00" width="3.00" height="3.00" fill="#808080" stroke="none" stroke-width="1" rx="0.8"/>
<rect x="78.06" y="504.95" width="3.00" height="3.00" fill="#808080" stroke="none" stroke-width="1" rx="0.8"/>
<rect x="79.40" y="430.45" width="2.70" height="2.70" fill="#8E8E8E" stroke="none" stroke-width="1" rx="0.8"/>
<rect x="91.62" y="476.33" width="2.70" height="2.70" fill="#8E8E8E" stroke="none" stroke-width="1" rx="0.8"/>
<rect x="76.47" y="439.40" width="2.70" height="2.70" fill="#8E8E8E" stroke="none" stroke-width="1" rx="0.8"/>
<rect x="72.63" y="481.96" width="2.70" height="2.70" fill="#8E8E8E" stroke="none" stroke-width="1" rx="0.8"/>
<rect x="90.29" y="427.97" width="2.70" height="2.70" fill="#8E8E8E" stroke="none" stroke-width="1" rx="0.8"/>
<rect x="92.26" y="477.48" width="2.70" height="2.70" fill="#8E8E8E" stroke="none" stroke-width="1" rx="0.8"/>
<rect x="103.17" y="484.07" width="2.70" height="2.70" fill="#8E8E8E" stroke="none" stroke-width="1" rx="0.8"/>
<rect x="70.75" y="478.43" width="2.70" height="2.70" fill="#8E8E8E" stroke="none" stroke-width="1" rx="0.8"/>
<rect x="86.20" y="496.49" width="2.70" height="2.70" fill="#8E8E8E" stroke="none" stroke-width="1" rx="0.8"/>
<rect x="76.50" y="469.81" width="2.70" height="2.70" fill="#8E8E8E" stroke="none" stroke-width="1" rx="0.8"/>
<rect x="90.75" y="490.34" width="2.70" height="2.70" fill="#8E8E8E" stroke="none" stroke-width="1" rx="0.8"/>
<rect x="83.19" y="424.64" width="2.70" height="2.70" fill="#8E8E8E" stroke="none" stroke-width="1" rx="0.8"/>
<rect x="105.45" y="444.88" width="2.70" height="2.70" fill="#8E8E8E" stroke="none" stroke-width="1" rx="0.8"/>
<rect x="95.03" y="451.16" width="2.70" height="2.70" fill="#8E8E8E" stroke="none" stroke-width="1" rx="0.8"/>
<rect x="75.20" y="498.69" width="2.70" height="2.70" fill="#8E8E8E" stroke="none" stroke-width="1" rx="0.8"/>
<rect x="70.79" y="422.97" width="2.70" height="2.70" fill="#8E8E8E" stroke="none" stroke-width="1" rx="0.8"/>
<rect x="95.38" y="418.42" width="2.70" height="2.70" fill="#8E8E8E" stroke="none" stroke-width="1" rx="0.8"/>
<rect x="70.92" y="446.68" width="2.70" height="2.70" fill="#8E8E8E" stroke="none" stroke-width="1" rx="0.8"/>
<rect x="87.51" y="438.52" width="2.70" height="2.70" fill="#8E8E8E" stroke="none" stroke-width="1" rx="0.8"/>
<rect x="81.63" y="415.26" width="2.70" height="2.70" fill="#8E8E8E" stroke="none" stroke-width="1" rx="0.8"/>
<rect x="72.86" y="454.47" width="2.70" height="2.70" fill="#8E8E8E" stroke="none" stroke-width="1" rx="0.8"/>
<rect x="96.68" y="423.84" width="2.70" height="2.70" fill="#8E8E8E" stroke="none" stroke-width="1" rx="0.8"/>
<rect x="96.69" y="440.84" width="2.70" height="2.70" fill="#8E8E8E" stroke="none" stroke-width="1" rx="0.8"/>
<rect x="98.71" y="422.55" width="2.70" height="2.70" fill="#8E8E8E" stroke="none" stroke-width="1" rx="0.8"/>
<rect x="82.82" y="442.44" width="2.70" height="2.70" fill="#8E8E8E" stroke="none" stroke-width="1" rx="0.8"/>
<rect x="102.58" y="426.35" width="2.70" height="2.70" fill="#8E8E8E" stroke="none" stroke-width="1" rx="0.8"/>
<rect x="85.17" y="433.32" width="2.70" height="2.70" fill="#8E8E8E" stroke="none" stroke-width="1" rx="0.8"/>
<rect x="101.24" y="452.16" width="2.70" height="2.70" fill="#8E8E8E" stroke="none" stroke-width="1" rx="0.8"/>
<rect x="92.65" y="394.60" width="2.70" height="2.70" fill="#808080" stroke="none" stroke-width="1" rx="0.8"/>
<rect x="91.13" y="382.40" width="2.70" height="2.70" fill="#808080" stroke="none" stroke-width="1" rx="0.8"/>
<rect x="73.04" y="380.75" width="2.70" height="2.70" fill="#808080" stroke="none" stroke-width="1" rx="0.8"/>
<rect x="105.91" y="367.80" width="2.70" height="2.70" fill="#808080" stroke="none" stroke-width="1" rx="0.8"/>
<rect x="96.37" y="394.27" width="2.70" height="2.70" fill="#808080" stroke="none" stroke-width="1" rx="0.8"/>
<rect x="96.61" y="383.90" width="2.70" height="2.70" fill="#808080" stroke="none" stroke-width="1" rx="0.8"/>
<rect x="86.01" y="370.03" width="2.70" height="2.70" fill="#808080" stroke="none" stroke-width="1" rx="0.8"/>
<rect x="73.17" y="374.78" width="2.70" height="2.70" fill="#808080" stroke="none" stroke-width="1" rx="0.8"/>
<rect x="71.22" y="382.81" width="2.70" height="2.70" fill="#808080" stroke="none" stroke-width="1" rx="0.8"/>
<rect x="87.46" y="402.80" width="2.70" height="2.70" fill="#808080" stroke="none" stroke-width="1" rx="0.8"/>
<rect x="95.29" y="388.41" width="2.70" height="2.70" fill="#808080" stroke="none" stroke-width="1" rx="0.8"/>
<rect x="92.27" y="365.61" width="2.70" height="2.70" fill="#808080" stroke="none" stroke-width="1" rx="0.8"/>
<rect x="79.36" y="414.59" width="2.70" height="2.70" fill="#808080" stroke="none" stroke-width="1" rx="0.8"/>
<rect x="80.99" y="378.67" width="2.70" height="2.70" fill="#808080" stroke="none" stroke-width="1" rx="0.8"/>
<rect x="77.44" y="406.06" width="2.70" height="2.70" fill="#808080" stroke="none" stroke-width="1" rx="0.8"/>
<rect x="102.76" y="379.64" width="2.70" height="2.70" fill="#808080" stroke="none" stroke-width="1" rx="0.8"/>
<rect x="73.15" y="351.27" width="2.70" height="2.70" fill="#808080" stroke="none" stroke-width="1" rx="0.8"/>
<rect x="76.15" y="350.17" width="2.70" height="2.70" fill="#808080" stroke="none" stroke-width="1" rx="0.8"/>
<rect x="80.15" y="351.55" width="2.70" height="2.70" fill="#808080" stroke="none" stroke-width="1" rx="0.8"/>
<rect x="85.15" y="350.72" width="2.70" height="2.70" fill="#808080" stroke="none" stroke-width="1" rx="0.8"/>
<rect x="98.15" y="351.86" width="2.70" height="2.70" fill="#808080" stroke="none" stroke-width="1" rx="0.8"/>
<rect x="102.15" y="351.29" width="2.70" height="2.70" fill="#808080" stroke="none" stroke-width="1" rx="0.8"/>
<rect x="105.15" y="350.38" width="2.70" height="2.70" fill="#808080" stroke="none" stroke-width="1" rx="0.8"/>
<rect x="118.75" y="350.25" width="40.50" height="5.6" rx="2.8" fill="#E8484E"/>
<rect x="133.20" y="375.88" width="2.70" height="2.70" fill="#DE4A52" stroke="none" stroke-width="1" rx="0.8"/>
<rect x="140.85" y="365.44" width="2.70" height="2.70" fill="#DE4A52" stroke="none" stroke-width="1" rx="0.8"/>
<rect x="137.51" y="353.13" width="2.70" height="2.70" fill="#DE4A52" stroke="none" stroke-width="1" rx="0.8"/>
<rect x="150.63" y="357.17" width="2.70" height="2.70" fill="#DE4A52" stroke="none" stroke-width="1" rx="0.8"/>
<rect x="154.98" y="363.36" width="2.70" height="2.70" fill="#DE4A52" stroke="none" stroke-width="1" rx="0.8"/>
<rect x="129.06" y="368.74" width="2.70" height="2.70" fill="#DE4A52" stroke="none" stroke-width="1" rx="0.8"/>
<rect x="128.99" y="357.72" width="2.70" height="2.70" fill="#DE4A52" stroke="none" stroke-width="1" rx="0.8"/>
<rect x="126.64" y="363.95" width="2.70" height="2.70" fill="#DE4A52" stroke="none" stroke-width="1" rx="0.8"/>
<rect x="137.41" y="367.56" width="2.70" height="2.70" fill="#DE4A52" stroke="none" stroke-width="1" rx="0.8"/>
<rect x="130.54" y="360.50" width="2.70" height="2.70" fill="#DE4A52" stroke="none" stroke-width="1" rx="0.8"/>
<rect x="135.82" y="372.03" width="2.70" height="2.70" fill="#DE4A52" stroke="none" stroke-width="1" rx="0.8"/>
<rect x="121.28" y="376.84" width="2.70" height="2.70" fill="#DE4A52" stroke="none" stroke-width="1" rx="0.8"/>
<rect x="120.00" y="376.84" width="2.70" height="2.70" fill="#DE4A52" stroke="none" stroke-width="1" rx="0.8"/>
<rect x="145.68" y="355.76" width="2.70" height="2.70" fill="#DE4A52" stroke="none" stroke-width="1" rx="0.8"/>
<rect x="148.87" y="361.31" width="2.70" height="2.70" fill="#DE4A52" stroke="none" stroke-width="1" rx="0.8"/>
<rect x="119.14" y="355.32" width="2.70" height="2.70" fill="#DE4A52" stroke="none" stroke-width="1" rx="0.8"/>
<rect x="119.35" y="360.54" width="2.70" height="2.70" fill="#DE4A52" stroke="none" stroke-width="1" rx="0.8"/>
<rect x="150.34" y="362.10" width="2.70" height="2.70" fill="#DE4A52" stroke="none" stroke-width="1" rx="0.8"/>
<rect x="120.21" y="352.35" width="2.70" height="2.70" fill="#DE4A52" stroke="none" stroke-width="1" rx="0.8"/>
<rect x="142.62" y="357.97" width="2.70" height="2.70" fill="#DE4A52" stroke="none" stroke-width="1" rx="0.8"/>
<rect x="143.62" y="369.46" width="2.70" height="2.70" fill="#DE4A52" stroke="none" stroke-width="1" rx="0.8"/>
<rect x="149.48" y="356.74" width="2.70" height="2.70" fill="#DE4A52" stroke="none" stroke-width="1" rx="0.8"/>
<rect x="126.07" y="371.46" width="2.70" height="2.70" fill="#DE4A52" stroke="none" stroke-width="1" rx="0.8"/>
<rect x="136.69" y="355.66" width="2.70" height="2.70" fill="#DE4A52" stroke="none" stroke-width="1" rx="0.8"/>
<rect x="136.58" y="352.35" width="2.70" height="2.70" fill="#DE4A52" stroke="none" stroke-width="1" rx="0.8"/>
<rect x="145.90" y="352.35" width="2.70" height="2.70" fill="#DE4A52" stroke="none" stroke-width="1" rx="0.8"/>
<rect x="131.71" y="354.95" width="2.70" height="2.70" fill="#DE4A52" stroke="none" stroke-width="1" rx="0.8"/>
<rect x="145.25" y="360.47" width="2.70" height="2.70" fill="#DE4A52" stroke="none" stroke-width="1" rx="0.8"/>
<rect x="147.51" y="370.02" width="2.70" height="2.70" fill="#DE4A52" stroke="none" stroke-width="1" rx="0.8"/>
<rect x="133.55" y="352.50" width="2.70" height="2.70" fill="#DE4A52" stroke="none" stroke-width="1" rx="0.8"/>
<rect x="121.76" y="358.23" width="2.70" height="2.70" fill="#DE4A52" stroke="none" stroke-width="1" rx="0.8"/>
<rect x="154.31" y="376.84" width="2.70" height="2.70" fill="#DE4A52" stroke="none" stroke-width="1" rx="0.8"/>
<rect x="135.86" y="352.35" width="2.70" height="2.70" fill="#DE4A52" stroke="none" stroke-width="1" rx="0.8"/>
<rect x="142.48" y="357.53" width="2.70" height="2.70" fill="#DE4A52" stroke="none" stroke-width="1" rx="0.8"/>
<rect x="140.30" y="361.96" width="2.70" height="2.70" fill="#DE4A52" stroke="none" stroke-width="1" rx="0.8"/>
<rect x="152.25" y="357.56" width="2.70" height="2.70" fill="#DE4A52" stroke="none" stroke-width="1" rx="0.8"/>
<rect x="136.25" y="360.13" width="2.70" height="2.70" fill="#DE4A52" stroke="none" stroke-width="1" rx="0.8"/>
<rect x="143.48" y="376.84" width="2.70" height="2.70" fill="#DE4A52" stroke="none" stroke-width="1" rx="0.8"/>
<rect x="149.91" y="356.47" width="2.70" height="2.70" fill="#DE4A52" stroke="none" stroke-width="1" rx="0.8"/>
<rect x="143.10" y="372.47" width="2.70" height="2.70" fill="#DE4A52" stroke="none" stroke-width="1" rx="0.8"/>
<rect x="153.05" y="352.35" width="2.70" height="2.70" fill="#DE4A52" stroke="none" stroke-width="1" rx="0.8"/>
<rect x="156.15" y="359.87" width="2.70" height="2.70" fill="#DE4A52" stroke="none" stroke-width="1" rx="0.8"/>
<rect x="148.85" y="367.95" width="2.70" height="2.70" fill="#DE4A52" stroke="none" stroke-width="1" rx="0.8"/>
<rect x="130.74" y="352.48" width="2.70" height="2.70" fill="#DE4A52" stroke="none" stroke-width="1" rx="0.8"/>
<rect x="131.82" y="374.31" width="2.70" height="2.70" fill="#DE4A52" stroke="none" stroke-width="1" rx="0.8"/>
<rect x="121.59" y="365.39" width="2.70" height="2.70" fill="#DE4A52" stroke="none" stroke-width="1" rx="0.8"/>
<rect x="147.98" y="367.21" width="2.70" height="2.70" fill="#DE4A52" stroke="none" stroke-width="1" rx="0.8"/>
<rect x="137.17" y="356.64" width="2.70" height="2.70" fill="#DE4A52" stroke="none" stroke-width="1" rx="0.8"/>
<rect x="120.87" y="376.22" width="2.70" height="2.70" fill="#DE4A52" stroke="none" stroke-width="1" rx="0.8"/>
<rect x="149.19" y="354.65" width="2.70" height="2.70" fill="#DE4A52" stroke="none" stroke-width="1" rx="0.8"/>
<rect x="148.73" y="356.08" width="2.70" height="2.70" fill="#DE4A52" stroke="none" stroke-width="1" rx="0.8"/>
<rect x="123.81" y="361.64" width="2.70" height="2.70" fill="#DE4A52" stroke="none" stroke-width="1" rx="0.8"/>
<rect x="146.26" y="360.43" width="2.70" height="2.70" fill="#DE4A52" stroke="none" stroke-width="1" rx="0.8"/>
<rect x="150.74" y="364.14" width="2.70" height="2.70" fill="#DE4A52" stroke="none" stroke-width="1" rx="0.8"/>
<rect x="137.36" y="363.09" width="2.70" height="2.70" fill="#DE4A52" stroke="none" stroke-width="1" rx="0.8"/>
<rect x="154.94" y="376.84" width="2.70" height="2.70" fill="#DE4A52" stroke="none" stroke-width="1" rx="0.8"/>
<rect x="138.68" y="358.81" width="2.70" height="2.70" fill="#DE4A52" stroke="none" stroke-width="1" rx="0.8"/>
<rect x="129.57" y="355.25" width="2.70" height="2.70" fill="#DE4A52" stroke="none" stroke-width="1" rx="0.8"/>
<rect x="138.53" y="352.68" width="2.70" height="2.70" fill="#DE4A52" stroke="none" stroke-width="1" rx="0.8"/>
<rect x="150.88" y="370.68" width="2.70" height="2.70" fill="#DE4A52" stroke="none" stroke-width="1" rx="0.8"/>
<rect x="133.08" y="361.71" width="2.70" height="2.70" fill="#DE4A52" stroke="none" stroke-width="1" rx="0.8"/>
<rect x="150.94" y="354.57" width="2.70" height="2.70" fill="#DE4A52" stroke="none" stroke-width="1" rx="0.8"/>
<rect x="151.15" y="358.04" width="2.70" height="2.70" fill="#DE4A52" stroke="none" stroke-width="1" rx="0.8"/>
<rect x="155.68" y="355.77" width="2.70" height="2.70" fill="#DE4A52" stroke="none" stroke-width="1" rx="0.8"/>
<rect x="126.14" y="368.85" width="2.70" height="2.70" fill="#DE4A52" stroke="none" stroke-width="1" rx="0.8"/>
<rect x="139.03" y="352.81" width="2.70" height="2.70" fill="#DE4A52" stroke="none" stroke-width="1" rx="0.8"/>
<rect x="119.47" y="369.93" width="2.70" height="2.70" fill="#DE4A52" stroke="none" stroke-width="1" rx="0.8"/>
<rect x="155.72" y="352.35" width="2.70" height="2.70" fill="#DE4A52" stroke="none" stroke-width="1" rx="0.8"/>
<rect x="149.24" y="364.69" width="2.70" height="2.70" fill="#DE4A52" stroke="none" stroke-width="1" rx="0.8"/>
<rect x="140.07" y="352.35" width="2.70" height="2.70" fill="#DE4A52" stroke="none" stroke-width="1" rx="0.8"/>
<rect x="120.94" y="372.38" width="2.70" height="2.70" fill="#DE4A52" stroke="none" stroke-width="1" rx="0.8"/>
<rect x="139.14" y="352.35" width="2.70" height="2.70" fill="#DE4A52" stroke="none" stroke-width="1" rx="0.8"/>
<rect x="153.95" y="376.84" width="2.70" height="2.70" fill="#DE4A52" stroke="none" stroke-width="1" rx="0.8"/>
<rect x="128.76" y="368.90" width="2.70" height="2.70" fill="#DE4A52" stroke="none" stroke-width="1" rx="0.8"/>
<rect x="135.10" y="357.45" width="2.70" height="2.70" fill="#DE4A52" stroke="none" stroke-width="1" rx="0.8"/>
<rect x="149.81" y="379.92" width="2.70" height="2.70" fill="#DE4A52" stroke="none" stroke-width="1" rx="0.8"/>
<rect x="136.75" y="402.77" width="2.70" height="2.70" fill="#DE4A52" stroke="none" stroke-width="1" rx="0.8"/>
<rect x="125.77" y="390.99" width="2.70" height="2.70" fill="#DE4A52" stroke="none" stroke-width="1" rx="0.8"/>
<rect x="154.02" y="410.13" width="2.70" height="2.70" fill="#DE4A52" stroke="none" stroke-width="1" rx="0.8"/>
<rect x="148.40" y="414.31" width="2.70" height="2.70" fill="#DE4A52" stroke="none" stroke-width="1" rx="0.8"/>
<rect x="125.87" y="406.30" width="2.70" height="2.70" fill="#DE4A52" stroke="none" stroke-width="1" rx="0.8"/>
<rect x="144.85" y="402.58" width="2.70" height="2.70" fill="#DE4A52" stroke="none" stroke-width="1" rx="0.8"/>
<rect x="132.08" y="390.92" width="2.70" height="2.70" fill="#DE4A52" stroke="none" stroke-width="1" rx="0.8"/>
<rect x="122.44" y="386.56" width="2.70" height="2.70" fill="#DE4A52" stroke="none" stroke-width="1" rx="0.8"/>
<rect x="123.13" y="395.20" width="2.70" height="2.70" fill="#DE4A52" stroke="none" stroke-width="1" rx="0.8"/>
<rect x="128.05" y="407.45" width="2.70" height="2.70" fill="#DE4A52" stroke="none" stroke-width="1" rx="0.8"/>
<rect x="138.82" y="398.09" width="2.70" height="2.70" fill="#DE4A52" stroke="none" stroke-width="1" rx="0.8"/>
<rect x="132.87" y="399.00" width="2.70" height="2.70" fill="#DE4A52" stroke="none" stroke-width="1" rx="0.8"/>
<rect x="138.78" y="408.94" width="2.70" height="2.70" fill="#DE4A52" stroke="none" stroke-width="1" rx="0.8"/>
<rect x="126.26" y="390.47" width="2.70" height="2.70" fill="#DE4A52" stroke="none" stroke-width="1" rx="0.8"/>
<rect x="142.98" y="394.45" width="2.70" height="2.70" fill="#DE4A52" stroke="none" stroke-width="1" rx="0.8"/>
<rect x="151.17" y="391.23" width="2.70" height="2.70" fill="#DE4A52" stroke="none" stroke-width="1" rx="0.8"/>
<rect x="151.39" y="406.08" width="2.70" height="2.70" fill="#DE4A52" stroke="none" stroke-width="1" rx="0.8"/>
<rect x="146.92" y="383.44" width="2.70" height="2.70" fill="#DE4A52" stroke="none" stroke-width="1" rx="0.8"/>
<rect x="153.15" y="402.82" width="2.70" height="2.70" fill="#DE4A52" stroke="none" stroke-width="1" rx="0.8"/>
<rect x="130.53" y="422.76" width="2.70" height="2.70" fill="#DE4A52" stroke="none" stroke-width="1" rx="0.8"/>
<rect x="126.80" y="415.36" width="2.70" height="2.70" fill="#DE4A52" stroke="none" stroke-width="1" rx="0.8"/>
<rect x="152.57" y="500.03" width="2.70" height="2.70" fill="#DE4A52" stroke="none" stroke-width="1" rx="0.8"/>
<rect x="127.61" y="441.98" width="2.70" height="2.70" fill="#DE4A52" stroke="none" stroke-width="1" rx="0.8"/>
<rect x="128.39" y="503.65" width="2.70" height="2.70" fill="#DE4A52" stroke="none" stroke-width="1" rx="0.8"/>
<rect x="150.44" y="471.85" width="2.70" height="2.70" fill="#DE4A52" stroke="none" stroke-width="1" rx="0.8"/>
<rect x="148.81" y="500.81" width="2.70" height="2.70" fill="#DE4A52" stroke="none" stroke-width="1" rx="0.8"/>
<rect x="133.91" y="446.03" width="2.70" height="2.70" fill="#DE4A52" stroke="none" stroke-width="1" rx="0.8"/>
<rect x="119.08" y="493.47" width="2.70" height="2.70" fill="#DE4A52" stroke="none" stroke-width="1" rx="0.8"/>
<rect x="144.67" y="423.88" width="2.70" height="2.70" fill="#DE4A52" stroke="none" stroke-width="1" rx="0.8"/>
<rect x="155.68" y="501.85" width="2.70" height="2.70" fill="#DE4A52" stroke="none" stroke-width="1" rx="0.8"/>
<rect x="137.87" y="438.89" width="2.70" height="2.70" fill="#DE4A52" stroke="none" stroke-width="1" rx="0.8"/>
<rect x="137.76" y="445.99" width="2.70" height="2.70" fill="#DE4A52" stroke="none" stroke-width="1" rx="0.8"/>
<rect x="125.68" y="506.24" width="2.70" height="2.70" fill="#DE4A52" stroke="none" stroke-width="1" rx="0.8"/>
<rect x="122.49" y="509.48" width="2.70" height="2.70" fill="#DE4A52" stroke="none" stroke-width="1" rx="0.8"/>
<rect x="139.64" y="462.72" width="2.70" height="2.70" fill="#DE4A52" stroke="none" stroke-width="1" rx="0.8"/>
<rect x="140.30" y="498.79" width="2.70" height="2.70" fill="#DE4A52" stroke="none" stroke-width="1" rx="0.8"/>
<rect x="125.50" y="493.18" width="2.70" height="2.70" fill="#DE4A52" stroke="none" stroke-width="1" rx="0.8"/>
<rect x="150.75" y="416.15" width="2.70" height="2.70" fill="#DE4A52" stroke="none" stroke-width="1" rx="0.8"/>
<rect x="154.09" y="503.82" width="2.70" height="2.70" fill="#DE4A52" stroke="none" stroke-width="1" rx="0.8"/>
<rect x="120.78" y="419.95" width="2.70" height="2.70" fill="#DE4A52" stroke="none" stroke-width="1" rx="0.8"/>
<rect x="136.19" y="438.25" width="2.70" height="2.70" fill="#DE4A52" stroke="none" stroke-width="1" rx="0.8"/>
<rect x="130.98" y="467.41" width="2.70" height="2.70" fill="#DE4A52" stroke="none" stroke-width="1" rx="0.8"/>
<rect x="138.24" y="471.02" width="2.70" height="2.70" fill="#DE4A52" stroke="none" stroke-width="1" rx="0.8"/>
<rect x="141.54" y="511.85" width="2.70" height="2.70" fill="#DE4A52" stroke="none" stroke-width="1" rx="0.8"/>
<rect x="145.39" y="430.45" width="2.70" height="2.70" fill="#DE4A52" stroke="none" stroke-width="1" rx="0.8"/>
<rect x="125.38" y="468.69" width="2.70" height="2.70" fill="#DE4A52" stroke="none" stroke-width="1" rx="0.8"/>
<rect x="146.86" y="473.45" width="2.70" height="2.70" fill="#DE4A52" stroke="none" stroke-width="1" rx="0.8"/>
<rect x="125.91" y="496.98" width="2.70" height="2.70" fill="#DE4A52" stroke="none" stroke-width="1" rx="0.8"/>
<rect x="138.13" y="511.64" width="2.70" height="2.70" fill="#DE4A52" stroke="none" stroke-width="1" rx="0.8"/>
<rect x="166.90" y="350.25" width="41.20" height="5.6" rx="2.8" fill="#F0B573"/>
<rect x="201.56" y="352.35" width="2.70" height="2.70" fill="#F0B573" stroke="none" stroke-width="1" rx="0.8"/>
<rect x="200.29" y="357.22" width="2.70" height="2.70" fill="#F0B573" stroke="none" stroke-width="1" rx="0.8"/>
<rect x="191.22" y="371.65" width="2.70" height="2.70" fill="#F0B573" stroke="none" stroke-width="1" rx="0.8"/>
<rect x="186.32" y="366.31" width="2.70" height="2.70" fill="#F0B573" stroke="none" stroke-width="1" rx="0.8"/>
<rect x="205.07" y="361.12" width="2.70" height="2.70" fill="#F0B573" stroke="none" stroke-width="1" rx="0.8"/>
<rect x="202.27" y="353.74" width="2.70" height="2.70" fill="#F0B573" stroke="none" stroke-width="1" rx="0.8"/>
<rect x="195.73" y="360.59" width="2.70" height="2.70" fill="#F0B573" stroke="none" stroke-width="1" rx="0.8"/>
<rect x="182.45" y="354.62" width="2.70" height="2.70" fill="#F0B573" stroke="none" stroke-width="1" rx="0.8"/>
<rect x="201.69" y="376.46" width="2.70" height="2.70" fill="#F0B573" stroke="none" stroke-width="1" rx="0.8"/>
<rect x="196.63" y="366.39" width="2.70" height="2.70" fill="#F0B573" stroke="none" stroke-width="1" rx="0.8"/>
<rect x="196.55" y="365.41" width="2.70" height="2.70" fill="#F0B573" stroke="none" stroke-width="1" rx="0.8"/>
<rect x="169.32" y="369.42" width="2.70" height="2.70" fill="#F0B573" stroke="none" stroke-width="1" rx="0.8"/>
<rect x="179.95" y="363.03" width="2.70" height="2.70" fill="#F0B573" stroke="none" stroke-width="1" rx="0.8"/>
<rect x="180.49" y="352.35" width="2.70" height="2.70" fill="#F0B573" stroke="none" stroke-width="1" rx="0.8"/>
<rect x="191.59" y="352.35" width="2.70" height="2.70" fill="#F0B573" stroke="none" stroke-width="1" rx="0.8"/>
<rect x="203.58" y="357.50" width="2.70" height="2.70" fill="#F0B573" stroke="none" stroke-width="1" rx="0.8"/>
<rect x="192.66" y="357.40" width="2.70" height="2.70" fill="#F0B573" stroke="none" stroke-width="1" rx="0.8"/>
<rect x="188.88" y="361.21" width="2.70" height="2.70" fill="#F0B573" stroke="none" stroke-width="1" rx="0.8"/>
<rect x="187.45" y="368.27" width="2.70" height="2.70" fill="#F0B573" stroke="none" stroke-width="1" rx="0.8"/>
<rect x="191.73" y="376.84" width="2.70" height="2.70" fill="#F0B573" stroke="none" stroke-width="1" rx="0.8"/>
<rect x="194.04" y="376.84" width="2.70" height="2.70" fill="#F0B573" stroke="none" stroke-width="1" rx="0.8"/>
<rect x="167.44" y="352.93" width="2.70" height="2.70" fill="#F0B573" stroke="none" stroke-width="1" rx="0.8"/>
<rect x="190.67" y="376.84" width="2.70" height="2.70" fill="#F0B573" stroke="none" stroke-width="1" rx="0.8"/>
<rect x="182.29" y="352.35" width="2.70" height="2.70" fill="#F0B573" stroke="none" stroke-width="1" rx="0.8"/>
<rect x="168.53" y="407.54" width="2.70" height="2.70" fill="#F0B573" stroke="none" stroke-width="1" rx="0.8"/>
<rect x="181.28" y="411.34" width="2.70" height="2.70" fill="#F0B573" stroke="none" stroke-width="1" rx="0.8"/>
<rect x="176.38" y="379.72" width="2.70" height="2.70" fill="#F0B573" stroke="none" stroke-width="1" rx="0.8"/>
<rect x="188.11" y="395.30" width="2.70" height="2.70" fill="#F0B573" stroke="none" stroke-width="1" rx="0.8"/>
<rect x="204.46" y="392.95" width="2.70" height="2.70" fill="#F0B573" stroke="none" stroke-width="1" rx="0.8"/>
<rect x="205.56" y="390.20" width="2.70" height="2.70" fill="#F0B573" stroke="none" stroke-width="1" rx="0.8"/>
<rect x="198.28" y="412.21" width="2.70" height="2.70" fill="#F0B573" stroke="none" stroke-width="1" rx="0.8"/>
<rect x="189.97" y="385.45" width="2.70" height="2.70" fill="#F0B573" stroke="none" stroke-width="1" rx="0.8"/>
<rect x="168.32" y="378.76" width="2.70" height="2.70" fill="#F0B573" stroke="none" stroke-width="1" rx="0.8"/>
<rect x="172.82" y="396.72" width="2.70" height="2.70" fill="#F0B573" stroke="none" stroke-width="1" rx="0.8"/>
<rect x="173.18" y="395.79" width="2.70" height="2.70" fill="#F0B573" stroke="none" stroke-width="1" rx="0.8"/>
<rect x="190.51" y="412.91" width="2.70" height="2.70" fill="#F0B573" stroke="none" stroke-width="1" rx="0.8"/>
<rect x="203.60" y="398.72" width="2.70" height="2.70" fill="#F0B573" stroke="none" stroke-width="1" rx="0.8"/>
<rect x="187.20" y="391.78" width="2.70" height="2.70" fill="#F0B573" stroke="none" stroke-width="1" rx="0.8"/>
<rect x="180.88" y="404.00" width="2.70" height="2.70" fill="#F0B573" stroke="none" stroke-width="1" rx="0.8"/>
<rect x="192.23" y="393.23" width="2.70" height="2.70" fill="#F0B573" stroke="none" stroke-width="1" rx="0.8"/>
<rect x="177.66" y="387.12" width="2.70" height="2.70" fill="#F0B573" stroke="none" stroke-width="1" rx="0.8"/>
<rect x="178.15" y="414.65" width="2.70" height="2.70" fill="#F0B573" stroke="none" stroke-width="1" rx="0.8"/>
<rect x="176.15" y="508.96" width="2.70" height="2.70" fill="#F0B573" stroke="none" stroke-width="1" rx="0.8"/>
<rect x="172.69" y="439.23" width="2.70" height="2.70" fill="#F0B573" stroke="none" stroke-width="1" rx="0.8"/>
<rect x="181.84" y="425.24" width="2.70" height="2.70" fill="#F0B573" stroke="none" stroke-width="1" rx="0.8"/>
<rect x="195.89" y="508.24" width="2.70" height="2.70" fill="#F0B573" stroke="none" stroke-width="1" rx="0.8"/>
<rect x="205.31" y="420.64" width="2.70" height="2.70" fill="#F0B573" stroke="none" stroke-width="1" rx="0.8"/>
<rect x="169.43" y="424.45" width="2.70" height="2.70" fill="#F0B573" stroke="none" stroke-width="1" rx="0.8"/>
<rect x="183.39" y="466.37" width="2.70" height="2.70" fill="#F0B573" stroke="none" stroke-width="1" rx="0.8"/>
<rect x="204.70" y="489.28" width="2.70" height="2.70" fill="#F0B573" stroke="none" stroke-width="1" rx="0.8"/>
<rect x="187.07" y="421.34" width="2.70" height="2.70" fill="#F0B573" stroke="none" stroke-width="1" rx="0.8"/>
<rect x="194.88" y="467.28" width="2.70" height="2.70" fill="#F0B573" stroke="none" stroke-width="1" rx="0.8"/>
<rect x="204.92" y="433.15" width="2.70" height="2.70" fill="#F0B573" stroke="none" stroke-width="1" rx="0.8"/>
<rect x="190.21" y="501.88" width="2.70" height="2.70" fill="#F0B573" stroke="none" stroke-width="1" rx="0.8"/>
<rect x="191.02" y="468.52" width="2.70" height="2.70" fill="#F0B573" stroke="none" stroke-width="1" rx="0.8"/>
<rect x="174.53" y="508.05" width="2.70" height="2.70" fill="#F0B573" stroke="none" stroke-width="1" rx="0.8"/>
<rect x="187.25" y="500.97" width="2.70" height="2.70" fill="#F0B573" stroke="none" stroke-width="1" rx="0.8"/>
<rect x="183.91" y="447.73" width="2.70" height="2.70" fill="#F0B573" stroke="none" stroke-width="1" rx="0.8"/>
<rect x="184.41" y="487.47" width="2.70" height="2.70" fill="#F0B573" stroke="none" stroke-width="1" rx="0.8"/>
<rect x="189.37" y="472.06" width="2.70" height="2.70" fill="#F0B573" stroke="none" stroke-width="1" rx="0.8"/>
<rect x="197.05" y="461.16" width="2.70" height="2.70" fill="#F0B573" stroke="none" stroke-width="1" rx="0.8"/>
<rect x="205.66" y="419.84" width="2.70" height="2.70" fill="#F0B573" stroke="none" stroke-width="1" rx="0.8"/>
<rect x="195.33" y="489.80" width="2.70" height="2.70" fill="#F0B573" stroke="none" stroke-width="1" rx="0.8"/>
<rect x="171.01" y="425.71" width="2.70" height="2.70" fill="#F0B573" stroke="none" stroke-width="1" rx="0.8"/>
<rect x="197.29" y="451.93" width="2.70" height="2.70" fill="#F0B573" stroke="none" stroke-width="1" rx="0.8"/>
<rect x="180.63" y="486.56" width="2.70" height="2.70" fill="#F0B573" stroke="none" stroke-width="1" rx="0.8"/>
<rect x="193.40" y="457.82" width="2.70" height="2.70" fill="#F0B573" stroke="none" stroke-width="1" rx="0.8"/>
<rect x="189.74" y="451.14" width="2.70" height="2.70" fill="#F0B573" stroke="none" stroke-width="1" rx="0.8"/>
<rect x="215.50" y="350.25" width="42.00" height="5.6" rx="2.8" fill="#5E9FE8"/>
<rect x="245.28" y="361.19" width="2.70" height="2.70" fill="#5E9FE8" stroke="none" stroke-width="1" rx="0.8"/>
<rect x="254.34" y="354.00" width="2.70" height="2.70" fill="#5E9FE8" stroke="none" stroke-width="1" rx="0.8"/>
<rect x="251.78" y="360.23" width="2.70" height="2.70" fill="#5E9FE8" stroke="none" stroke-width="1" rx="0.8"/>
<rect x="217.58" y="352.92" width="2.70" height="2.70" fill="#5E9FE8" stroke="none" stroke-width="1" rx="0.8"/>
<rect x="225.99" y="352.78" width="2.70" height="2.70" fill="#5E9FE8" stroke="none" stroke-width="1" rx="0.8"/>
<rect x="219.25" y="368.21" width="2.70" height="2.70" fill="#5E9FE8" stroke="none" stroke-width="1" rx="0.8"/>
<rect x="236.82" y="359.20" width="2.70" height="2.70" fill="#5E9FE8" stroke="none" stroke-width="1" rx="0.8"/>
<rect x="242.20" y="355.51" width="2.70" height="2.70" fill="#5E9FE8" stroke="none" stroke-width="1" rx="0.8"/>
<rect x="237.18" y="352.65" width="2.70" height="2.70" fill="#5E9FE8" stroke="none" stroke-width="1" rx="0.8"/>
<rect x="234.29" y="359.55" width="2.70" height="2.70" fill="#5E9FE8" stroke="none" stroke-width="1" rx="0.8"/>
<rect x="223.58" y="360.32" width="2.70" height="2.70" fill="#5E9FE8" stroke="none" stroke-width="1" rx="0.8"/>
<rect x="248.69" y="363.38" width="2.70" height="2.70" fill="#5E9FE8" stroke="none" stroke-width="1" rx="0.8"/>
<rect x="218.12" y="370.09" width="2.70" height="2.70" fill="#5E9FE8" stroke="none" stroke-width="1" rx="0.8"/>
<rect x="240.10" y="369.42" width="2.70" height="2.70" fill="#5E9FE8" stroke="none" stroke-width="1" rx="0.8"/>
<rect x="245.90" y="368.18" width="2.70" height="2.70" fill="#5E9FE8" stroke="none" stroke-width="1" rx="0.8"/>
<rect x="225.47" y="353.44" width="2.70" height="2.70" fill="#5E9FE8" stroke="none" stroke-width="1" rx="0.8"/>
<rect x="247.55" y="364.93" width="2.70" height="2.70" fill="#5E9FE8" stroke="none" stroke-width="1" rx="0.8"/>
<rect x="254.72" y="364.44" width="2.70" height="2.70" fill="#5E9FE8" stroke="none" stroke-width="1" rx="0.8"/>
<rect x="228.17" y="365.59" width="2.70" height="2.70" fill="#5E9FE8" stroke="none" stroke-width="1" rx="0.8"/>
<rect x="251.98" y="373.10" width="2.70" height="2.70" fill="#5E9FE8" stroke="none" stroke-width="1" rx="0.8"/>
<rect x="232.26" y="357.22" width="2.70" height="2.70" fill="#5E9FE8" stroke="none" stroke-width="1" rx="0.8"/>
<rect x="250.16" y="354.42" width="2.70" height="2.70" fill="#5E9FE8" stroke="none" stroke-width="1" rx="0.8"/>
<rect x="218.29" y="354.76" width="2.70" height="2.70" fill="#5E9FE8" stroke="none" stroke-width="1" rx="0.8"/>
<rect x="234.54" y="366.32" width="2.70" height="2.70" fill="#5E9FE8" stroke="none" stroke-width="1" rx="0.8"/>
<rect x="242.56" y="359.34" width="2.70" height="2.70" fill="#5E9FE8" stroke="none" stroke-width="1" rx="0.8"/>
<rect x="218.19" y="357.58" width="2.70" height="2.70" fill="#5E9FE8" stroke="none" stroke-width="1" rx="0.8"/>
<rect x="217.15" y="410.30" width="2.70" height="2.70" fill="#5E9FE8" stroke="none" stroke-width="1" rx="0.8"/>
<rect x="224.15" y="413.57" width="2.70" height="2.70" fill="#5E9FE8" stroke="none" stroke-width="1" rx="0.8"/>
<rect x="235.15" y="397.24" width="2.70" height="2.70" fill="#5E9FE8" stroke="none" stroke-width="1" rx="0.8"/>
<rect x="243.15" y="405.40" width="2.70" height="2.70" fill="#5E9FE8" stroke="none" stroke-width="1" rx="0.8"/>
<rect x="247.15" y="407.04" width="2.70" height="2.70" fill="#5E9FE8" stroke="none" stroke-width="1" rx="0.8"/>
<rect x="249.15" y="398.88" width="2.70" height="2.70" fill="#5E9FE8" stroke="none" stroke-width="1" rx="0.8"/>
<rect x="233.15" y="382.55" width="2.70" height="2.70" fill="#5E9FE8" stroke="none" stroke-width="1" rx="0.8"/>
<rect x="240.15" y="380.92" width="2.70" height="2.70" fill="#5E9FE8" stroke="none" stroke-width="1" rx="0.8"/>
<rect x="223.15" y="488.66" width="2.70" height="2.70" fill="#5E9FE8" stroke="none" stroke-width="1" rx="0.8"/>
<rect x="238.15" y="483.76" width="2.70" height="2.70" fill="#5E9FE8" stroke="none" stroke-width="1" rx="0.8"/>
<rect x="225.15" y="511.52" width="2.70" height="2.70" fill="#5E9FE8" stroke="none" stroke-width="1" rx="0.8"/>
<rect x="229.15" y="511.52" width="2.70" height="2.70" fill="#5E9FE8" stroke="none" stroke-width="1" rx="0.8"/>
<rect x="244.15" y="510.70" width="2.70" height="2.70" fill="#5E9FE8" stroke="none" stroke-width="1" rx="0.8"/>
<line x1="59.45" y1="378.75" x2="265.00" y2="378.75" stroke="#000" stroke-width="2.5" stroke-dasharray="8.3 8.17"/>
<path d="M60.75 343.75 V538 H265" fill="none" stroke="#000" stroke-width="2.4"/>
<text x="55.00" y="519.15" font-size="13" font-weight="bold" fill="#000" text-anchor="end" >0.00</text>
<text x="55.00" y="478.34" font-size="13" font-weight="bold" fill="#000" text-anchor="end" >0.25</text>
<text x="55.00" y="437.53" font-size="13" font-weight="bold" fill="#000" text-anchor="end" >0.50</text>
<text x="55.00" y="396.72" font-size="13" font-weight="bold" fill="#000" text-anchor="end" >0.75</text>
<text x="55.00" y="355.90" font-size="13" font-weight="bold" fill="#000" text-anchor="end" >1.00</text>
<text x="25.00" y="427.00" font-size="13" font-weight="bold" fill="#000" text-anchor="middle" transform="rotate(-90 25.00 427.00)" textLength="113.75" lengthAdjust="spacingAndGlyphs" >Methylation Score</text>
<text x="90.00" y="532.15" font-size="13" font-weight="bold" fill="#000" text-anchor="middle" >n=113</text>
<text x="139.00" y="532.15" font-size="13" font-weight="bold" fill="#000" text-anchor="middle" >n=386</text>
<text x="188.00" y="532.15" font-size="13" font-weight="bold" fill="#000" text-anchor="middle" >n=225</text>
<text x="236.25" y="532.15" font-size="13" font-weight="bold" fill="#000" text-anchor="middle" >n=161</text>
<text x="90.50" y="553.90" font-size="13" font-weight="bold" fill="#000" text-anchor="middle" >N</text>
<text x="141.00" y="553.90" font-size="13" font-weight="bold" fill="#000" text-anchor="middle" >All cancer</text>
<text x="191.00" y="553.90" font-size="13" font-weight="bold" fill="#000" text-anchor="middle" >CRC</text>
<text x="235.60" y="553.90" font-size="13" font-weight="bold" fill="#000" text-anchor="middle" >GC</text>
</g>
<g id="pE">
<text x="274.40" y="322.00" font-size="26.3" font-weight="normal" fill="#000" text-anchor="start" stroke="#000" stroke-width="0.35">E</text>
<line x1="337.00" y1="529.80" x2="534.50" y2="345.80" stroke="#A6A6A6" stroke-width="2.9" stroke-linecap="round" stroke-dasharray="0.1 9.2"/>
<polyline points="337.0,529.8 337.0,527.8 339.4,527.8 339.4,526.2 341.2,526.2 341.2,523.0 343.2,523.0 343.2,520.0 345.0,520.0 345.0,514.9 346.0,514.9 346.0,512.7 346.5,512.7 346.5,510.8 346.8,510.8 346.8,507.5 347.5,507.5 347.5,505.2 349.8,505.2 349.8,502.5 352.5,502.5 352.5,498.8 357.5,498.8 357.5,497.5 361.7,497.5 361.7,495.7 367.7,495.7 367.7,495.0 370.0,495.0 370.0,491.3 373.7,491.3 373.7,489.4 375.6,489.4 375.6,487.5 377.5,487.5 377.5,481.7 380.4,481.7 380.4,477.5 382.5,477.5 382.5,475.7 388.0,475.7 388.0,475.0 390.0,475.0 390.0,473.0 391.0,473.0 391.0,467.8 393.6,467.8 393.6,465.0 395.0,465.0 395.0,462.1 396.9,462.1 396.9,460.4 398.1,460.4 398.1,457.5 400.0,457.5 400.0,454.1 402.8,454.1 402.8,450.0 406.2,450.0 406.2,447.5 413.8,447.5 413.8,442.0 415.0,442.0 415.0,435.4 416.4,435.4 416.4,431.6 417.3,431.6 417.3,425.0 418.8,425.0 418.8,421.6 421.2,421.6 421.2,416.2 425.0,416.2 425.0,412.0 429.9,412.0 429.9,410.4 431.7,410.4 431.7,408.7 433.7,408.7 433.7,407.5 435.0,407.5 435.0,401.7 438.9,401.7 438.9,400.0 440.0,400.0 440.0,397.7 444.6,397.7 444.6,396.1 447.7,396.1 447.7,395.0 450.0,395.0 450.0,391.7 452.1,391.7 452.1,388.5 454.1,388.5 454.1,385.0 456.2,385.0 456.2,381.2 459.4,381.2 459.4,377.5 462.5,377.5 462.5,374.5 467.1,374.5 467.1,372.5 470.0,372.5 470.0,366.3 471.5,366.3 471.5,362.5 472.5,362.5 472.5,361.2 477.5,361.2 477.5,360.7 480.2,360.7 480.2,359.3 486.5,359.3 486.5,357.9 493.3,357.9 493.3,357.5 495.0,357.5 495.0,355.3 499.4,355.3 499.4,352.8 504.4,352.8 504.4,351.5 507.1,351.5 507.1,350.0 510.0,350.0 510.0,349.2 514.8,349.2 514.8,348.6 518.2,348.6 518.2,348.2 520.4,348.2 520.4,347.1 526.6,347.1 526.6,345.8 534.5,345.8" fill="none" stroke="#7570B3" stroke-width="2.85" stroke-linejoin="miter"/>
<polyline points="337.0,529.8 337.0,528.0 337.0,528.0 337.0,523.3 337.2,523.3 337.2,520.2 337.2,520.2 337.2,518.2 337.3,518.2 337.3,515.6 337.4,515.6 337.4,511.1 337.5,511.1 337.5,506.1 337.6,506.1 337.6,504.5 337.6,504.5 337.6,500.6 337.7,500.6 337.7,499.0 337.8,499.0 337.8,494.7 337.9,494.7 337.9,491.9 338.0,491.9 338.0,490.0 338.0,490.0 338.0,485.1 340.2,485.1 340.2,482.0 341.6,482.0 341.6,480.0 342.5,480.0 342.5,477.6 343.7,477.6 343.7,476.0 344.5,476.0 344.5,472.5 346.2,472.5 346.2,470.9 346.4,470.9 346.4,468.7 346.5,468.7 346.5,465.7 346.7,465.7 346.7,461.8 347.0,461.8 347.0,459.7 347.2,459.7 347.2,458.1 347.3,458.1 347.3,455.0 347.5,455.0 347.5,452.4 348.2,452.4 348.2,447.3 349.4,447.3 349.4,442.4 350.7,442.4 350.7,439.5 351.4,439.5 351.4,436.3 352.2,436.3 352.2,432.9 353.0,432.9 353.0,430.0 353.8,430.0 353.8,426.5 355.2,426.5 355.2,423.8 356.2,423.8 356.2,423.2 360.1,423.2 360.1,422.5 365.0,422.5 365.0,420.4 367.8,420.4 367.8,418.5 370.3,418.5 370.3,415.9 373.8,415.9 373.8,415.0 375.0,415.0 375.0,413.1 376.9,413.1 376.9,409.3 380.7,409.3 380.7,407.5 382.5,407.5 382.5,404.9 385.1,404.9 385.1,403.9 386.1,403.9 386.1,402.5 387.5,402.5 387.5,401.6 391.1,401.6 391.1,401.2 392.6,401.2 392.6,400.0 397.5,400.0 397.5,397.8 400.8,397.8 400.8,396.9 402.2,396.9 402.2,395.0 405.0,395.0 405.0,394.2 408.2,394.2 408.2,393.2 412.2,393.2 412.2,392.5 415.0,392.5 415.0,389.5 418.0,389.5 418.0,387.5 420.0,387.5 420.0,386.7 421.3,386.7 421.3,385.7 422.7,385.7 422.7,383.4 426.1,383.4 426.1,380.5 430.5,380.5 430.5,379.1 432.6,379.1 432.6,377.5 435.0,377.5 435.0,374.5 437.3,374.5 437.3,372.3 438.9,372.3 438.9,370.0 440.7,370.0 440.7,367.5 442.5,367.5 442.5,366.2 445.1,366.2 445.1,364.5 448.5,364.5 448.5,363.3 450.9,363.3 450.9,362.0 453.5,362.0 453.5,361.2 455.0,361.2 455.0,360.9 456.5,360.9 456.5,360.1 460.1,360.1 460.1,359.2 464.4,359.2 464.4,358.6 467.0,358.6 467.0,358.0 470.0,358.0 470.0,356.9 474.5,356.9 474.5,356.4 476.9,356.4 476.9,355.8 479.0,355.8 479.0,355.0 482.5,355.0 482.5,354.2 486.7,354.2 486.7,353.8 488.5,353.8 488.5,353.3 491.1,353.3 491.1,352.5 495.0,352.5 495.0,351.7 499.7,351.7 499.7,351.2 502.9,351.2 502.9,350.4 507.7,350.4 507.7,350.0 510.0,350.0 510.0,349.5 512.7,349.5 512.7,348.8 516.7,348.8 516.7,348.0 521.6,348.0 521.6,347.4 524.8,347.4 524.8,347.0 527.1,347.0 527.1,346.7 529.0,346.7 529.0,346.1 532.5,346.1 532.5,345.8 534.5,345.8" fill="none" stroke="#2FA772" stroke-width="2.85" stroke-linejoin="miter"/>
<polyline points="337.0,529.8 337.0,460.0 337.0,460.0 337.0,456.2 340.5,456.2 340.5,451.8 340.8,451.8 340.8,449.7 341.0,449.7 341.0,447.3 341.2,447.3 341.2,443.0 341.5,443.0 341.5,439.2 341.8,439.2 341.8,436.2 342.0,436.2 342.0,435.0 343.8,435.0 343.8,432.5 344.6,432.5 344.6,430.7 345.2,430.7 345.2,427.5 346.2,427.5 346.2,423.2 346.4,423.2 346.4,420.8 346.6,420.8 346.6,418.2 346.7,418.2 346.7,415.3 346.8,415.3 346.8,412.3 346.9,412.3 346.9,409.5 347.1,409.5 347.1,404.7 347.3,404.7 347.3,402.7 347.4,402.7 347.4,401.4 347.4,401.4 347.4,400.0 347.5,400.0 347.5,395.6 349.0,395.6 349.0,392.5 350.0,392.5 350.0,389.6 350.9,389.6 350.9,384.9 352.3,384.9 352.3,380.0 353.8,380.0 353.8,378.3 355.1,378.3 355.1,375.0 357.5,375.0 357.5,373.6 361.8,373.6 361.8,372.5 365.0,372.5 365.0,370.0 366.2,370.0 366.2,369.5 368.6,369.5 368.6,368.9 371.2,368.9 371.2,368.4 373.3,368.4 373.3,368.1 374.9,368.1 374.9,367.5 377.5,367.5 377.5,365.6 379.0,365.6 379.0,362.5 381.2,362.5 381.2,362.1 382.7,362.1 382.7,360.8 387.3,360.8 387.3,360.0 390.0,360.0 390.0,360.0 405.0,360.0 405.0,359.3 409.8,359.3 409.8,358.8 413.8,358.8 413.8,353.8 416.2,353.8 416.2,352.8 419.6,352.8 419.6,352.4 421.0,352.4 421.0,351.2 425.0,351.2 425.0,351.1 427.0,351.1 427.0,350.8 429.4,350.8 429.4,350.4 433.3,350.4 433.3,350.1 436.6,350.1 436.6,349.8 439.5,349.8 439.5,349.3 444.3,349.3 444.3,349.0 447.9,349.0 447.9,348.8 450.0,348.8 450.0,347.3 451.8,347.3 451.8,345.8 453.8,345.8 453.8,345.8 467.5,345.8 467.5,345.8 534.5,345.8" fill="none" stroke="#5E9FE8" stroke-width="2.85" stroke-linejoin="miter"/>
<polyline points="337.0,529.8 337.0,526.4 337.1,526.4 337.1,521.8 337.3,521.8 337.3,519.0 337.4,519.0 337.4,516.8 337.4,516.8 337.4,513.2 337.6,513.2 337.6,508.5 337.7,508.5 337.7,506.4 337.8,506.4 337.8,501.8 337.9,501.8 337.9,500.0 338.0,500.0 338.0,495.5 339.2,495.5 339.2,492.5 340.0,492.5 340.0,491.2 340.7,491.2 340.7,487.6 342.4,487.6 342.4,482.5 345.0,482.5 345.0,480.9 345.2,480.9 345.2,478.4 345.5,478.4 345.5,475.9 345.7,475.9 345.7,472.3 346.1,472.3 346.1,469.2 346.5,469.2 346.5,465.9 346.8,465.9 346.8,461.4 347.3,461.4 347.3,460.0 347.5,460.0 347.5,458.5 348.2,458.5 348.2,456.8 349.1,456.8 349.1,455.0 350.0,455.0 350.0,453.5 350.7,453.5 350.7,450.0 352.5,450.0 352.5,445.3 353.6,445.3 353.6,443.5 353.9,443.5 353.9,440.1 354.7,440.1 354.7,438.8 355.0,438.8 355.0,438.1 357.6,438.1 357.6,437.4 360.4,437.4 360.4,436.2 365.0,436.2 365.0,434.2 368.2,434.2 368.2,432.7 370.7,432.7 370.7,431.5 372.5,431.5 372.5,430.0 375.0,430.0 375.0,429.1 376.7,429.1 376.7,427.5 380.0,427.5 380.0,425.0 385.0,425.0 385.0,423.2 387.4,423.2 387.4,422.2 388.8,422.2 388.8,420.9 390.5,420.9 390.5,419.1 392.8,419.1 392.8,417.5 395.0,417.5 395.0,413.9 397.9,413.9 397.9,411.6 399.7,411.6 399.7,408.0 402.6,408.0 402.6,405.0 405.0,405.0 405.0,403.6 407.8,403.6 407.8,402.3 410.5,402.3 410.5,400.7 413.5,400.7 413.5,400.0 415.0,400.0 415.0,397.4 416.7,397.4 416.7,393.9 419.1,393.9 419.1,392.5 420.0,392.5 420.0,391.0 421.9,391.0 421.9,388.9 424.8,388.9 424.8,386.4 428.2,386.4 428.2,385.0 430.0,385.0 430.0,383.3 432.6,383.3 432.6,381.5 435.2,381.5 435.2,378.8 439.4,378.8 439.4,375.9 443.7,375.9 443.7,375.0 445.0,375.0 445.0,372.7 449.5,372.7 449.5,370.7 453.6,370.7 453.6,369.6 455.8,369.6 455.8,368.1 458.8,368.1 458.8,367.5 460.0,367.5 460.0,365.0 464.0,365.0 464.0,362.8 467.4,362.8 467.4,361.2 470.0,361.2 470.0,360.6 474.6,360.6 474.6,360.0 478.6,360.0 478.6,359.4 483.0,359.4 483.0,358.8 487.5,358.8 487.5,358.4 489.3,358.4 489.3,357.6 493.0,357.6 493.0,357.4 494.5,357.4 494.5,357.0 496.4,357.0 496.4,356.2 500.0,356.2 500.0,355.5 501.4,355.5 501.4,354.7 503.1,354.7 503.1,353.9 504.7,353.9 504.7,351.2 510.0,351.2 510.0,350.8 512.1,350.8 512.1,350.4 513.6,350.4 513.6,349.4 518.3,349.4 518.3,349.0 520.2,349.0 520.2,347.9 524.9,347.9 524.9,347.0 528.9,347.0 528.9,345.8 534.5,345.8" fill="none" stroke="#D9661F" stroke-width="2.85" stroke-linejoin="miter"/>
<polyline points="337.0,529.8 337.0,492.5 337.5,492.5 337.5,487.4 338.9,487.4 338.9,483.8 339.9,483.8 339.9,478.8 341.2,478.8 341.2,478.4 342.8,478.4 342.8,477.5 346.2,477.5 346.2,474.0 346.4,474.0 346.4,469.7 346.6,469.7 346.6,467.9 346.7,467.9 346.7,463.4 346.9,463.4 346.9,458.3 347.1,458.3 347.1,456.6 347.2,456.6 347.2,453.8 347.3,453.8 347.3,450.0 347.5,450.0 347.5,445.7 349.6,445.7 349.6,442.5 351.2,442.5 351.2,440.4 351.5,440.4 351.5,437.9 351.7,437.9 351.7,434.0 352.1,434.0 352.1,429.6 352.5,429.6 352.5,426.6 352.8,426.6 352.8,423.7 353.0,423.7 353.0,420.7 353.3,420.7 353.3,417.9 353.6,417.9 353.6,416.2 353.8,416.2 353.8,415.6 355.4,415.6 355.4,414.3 358.6,414.3 358.6,413.8 360.0,413.8 360.0,412.1 362.6,412.1 362.6,409.8 366.4,409.8 366.4,408.7 368.1,408.7 368.1,407.5 370.0,407.5 370.0,404.3 373.2,404.3 373.2,401.4 376.1,401.4 376.1,400.0 377.5,400.0 377.5,397.6 379.9,397.6 379.9,394.8 382.7,394.8 382.7,392.5 385.0,392.5 385.0,391.6 386.8,391.6 386.8,390.8 388.5,390.8 388.5,388.8 392.4,388.8 392.4,387.5 395.0,387.5 395.0,385.0 397.5,385.0 397.5,382.7 399.8,382.7 399.8,380.0 402.5,380.0 402.5,378.8 404.3,378.8 404.3,377.4 406.4,377.4 406.4,376.2 408.3,376.2 408.3,374.1 411.4,374.1 411.4,372.5 413.8,372.5 413.8,370.5 415.0,370.5 415.0,366.9 417.2,366.9 417.2,362.5 420.0,362.5 420.0,361.6 422.5,361.6 422.5,360.1 426.4,360.1 426.4,358.8 430.0,358.8 430.0,357.8 434.8,357.8 434.8,357.1 438.5,357.1 438.5,356.6 440.9,356.6 440.9,356.2 442.5,356.2 442.5,355.6 443.9,355.6 443.9,354.1 446.9,354.1 446.9,352.5 450.0,352.5 450.0,350.8 451.3,350.8 451.3,347.5 453.8,347.5 453.8,347.2 456.5,347.2 456.5,346.7 461.0,346.7 461.0,346.5 463.0,346.5 463.0,345.9 468.3,345.9 468.3,345.8 470.0,345.8 470.0,345.8 534.5,345.8" fill="none" stroke="#F2B77C" stroke-width="2.85" stroke-linejoin="miter"/>
<polyline points="337.0,529.8 337.0,457.5 337.0,457.5 337.0,455.0 340.0,455.0 340.0,451.9 340.1,451.9 340.1,447.4 340.3,447.4 340.3,443.0 340.5,443.0 340.5,439.6 340.6,439.6 340.6,436.4 340.8,436.4 340.8,432.4 340.9,432.4 340.9,427.8 341.1,427.8 341.1,425.0 341.2,425.0 341.2,421.0 341.9,421.0 341.9,417.5 342.5,417.5 342.5,415.0 345.0,415.0 345.0,412.8 345.2,412.8 345.2,410.6 345.4,410.6 345.4,406.5 345.7,406.5 345.7,402.7 346.0,402.7 346.0,400.0 346.2,400.0 346.2,395.0 348.8,395.0 348.8,392.8 349.3,392.8 349.3,390.0 350.0,390.0 350.0,388.4 351.6,388.4 351.6,387.5 352.5,387.5 352.5,383.5 353.0,383.5 353.0,379.0 353.6,379.0 353.6,377.5 353.8,377.5 353.8,375.4 354.8,375.4 354.8,372.5 356.2,372.5 356.2,370.0 357.5,370.0 357.5,369.7 360.4,369.7 360.4,369.3 364.5,369.3 364.5,369.1 366.2,369.1 366.2,369.0 367.8,369.0 367.8,368.8 370.0,368.8 370.0,368.3 372.4,368.3 372.4,367.7 375.0,367.7 375.0,367.5 376.2,367.5 376.2,363.7 377.2,363.7 377.2,362.5 377.5,362.5 377.5,361.7 380.0,361.7 380.0,361.2 381.2,361.2 381.2,358.3 382.5,358.3 382.5,356.4 383.3,356.4 383.3,352.5 385.0,352.5 385.0,352.5 415.0,352.5 415.0,348.8 418.8,348.8 418.8,348.2 450.0,348.2 450.0,348.2 452.8,348.2 452.8,348.0 456.2,348.0 456.2,348.0 458.0,348.0 458.0,347.9 460.4,347.9 460.4,347.8 464.2,347.8 464.2,347.7 466.0,347.7 466.0,347.6 470.7,347.6 470.7,347.4 475.4,347.4 475.4,347.3 477.1,347.3 477.1,347.2 482.0,347.2 482.0,347.1 484.8,347.1 484.8,346.9 489.0,346.9 489.0,346.8 493.2,346.8 493.2,346.7 495.7,346.7 495.7,346.6 499.5,346.6 499.5,346.5 503.3,346.5 503.3,346.3 507.7,346.3 507.7,346.2 510.0,346.2 510.0,345.8 534.5,345.8" fill="none" stroke="#E8484E" stroke-width="2.85" stroke-linejoin="miter"/>
<text x="394.25" y="478.29" font-size="9.2" font-weight="normal" fill="#7570B3" text-anchor="start" textLength="147.75" lengthAdjust="spacingAndGlyphs" fill-opacity="0.85">CP AUC = 0.599 95% CI: 0.519−0.678</text>
<text x="394.25" y="487.69" font-size="9.2" font-weight="normal" fill="#2FA772" text-anchor="start" textLength="147.75" lengthAdjust="spacingAndGlyphs" fill-opacity="0.85">AA AUC = 0.785 95% CI: 0.736−0.834</text>
<text x="367.50" y="496.99" font-size="9.2" font-weight="normal" fill="#5E9FE8" text-anchor="start" textLength="174.50" lengthAdjust="spacingAndGlyphs" fill-opacity="0.85">CRC−0−II AUC = 0.927 95% CI: 0.893−0.960</text>
<text x="361.25" y="506.29" font-size="9.2" font-weight="normal" fill="#D9661F" text-anchor="start" textLength="180.75" lengthAdjust="spacingAndGlyphs" fill-opacity="0.85">low−preGC AUC = 0.747 95% CI: 0.692−0.802</text>
<text x="358.75" y="515.49" font-size="9.2" font-weight="normal" fill="#F2B77C" text-anchor="start" textLength="183.25" lengthAdjust="spacingAndGlyphs" fill-opacity="0.85">high−preGC AUC = 0.846 95% CI: 0.793−0.898</text>
<text x="373.00" y="524.59" font-size="9.2" font-weight="normal" fill="#E8484E" text-anchor="start" textLength="169.00" lengthAdjust="spacingAndGlyphs" fill-opacity="0.85">GC−0−II AUC = 0.933 95% CI: 0.891−0.976</text>
<rect x="327.50" y="337.00" width="217.50" height="202.00" fill="none" stroke="#000" stroke-width="2.9" />
<text x="325.50" y="534.61" font-size="12.6" font-weight="normal" fill="#4D4D4D" text-anchor="end" stroke="#4D4D4D" stroke-width="0.45">0.0</text>
<text x="337.50" y="550.51" font-size="12.6" font-weight="normal" fill="#4D4D4D" text-anchor="middle" stroke="#4D4D4D" stroke-width="0.45">0.0</text>
<text x="325.50" y="497.81" font-size="12.6" font-weight="normal" fill="#4D4D4D" text-anchor="end" stroke="#4D4D4D" stroke-width="0.45">0.2</text>
<text x="377.22" y="550.51" font-size="12.6" font-weight="normal" fill="#4D4D4D" text-anchor="middle" stroke="#4D4D4D" stroke-width="0.45">0.2</text>
<text x="325.50" y="461.01" font-size="12.6" font-weight="normal" fill="#4D4D4D" text-anchor="end" stroke="#4D4D4D" stroke-width="0.45">0.4</text>
<text x="416.94" y="550.51" font-size="12.6" font-weight="normal" fill="#4D4D4D" text-anchor="middle" stroke="#4D4D4D" stroke-width="0.45">0.4</text>
<text x="325.50" y="424.21" font-size="12.6" font-weight="normal" fill="#4D4D4D" text-anchor="end" stroke="#4D4D4D" stroke-width="0.45">0.6</text>
<text x="456.66" y="550.51" font-size="12.6" font-weight="normal" fill="#4D4D4D" text-anchor="middle" stroke="#4D4D4D" stroke-width="0.45">0.6</text>
<text x="325.50" y="387.41" font-size="12.6" font-weight="normal" fill="#4D4D4D" text-anchor="end" stroke="#4D4D4D" stroke-width="0.45">0.8</text>
<text x="496.38" y="550.51" font-size="12.6" font-weight="normal" fill="#4D4D4D" text-anchor="middle" stroke="#4D4D4D" stroke-width="0.45">0.8</text>
<text x="325.50" y="350.61" font-size="12.6" font-weight="normal" fill="#4D4D4D" text-anchor="end" stroke="#4D4D4D" stroke-width="0.45">1.0</text>
<text x="536.10" y="550.51" font-size="12.6" font-weight="normal" fill="#4D4D4D" text-anchor="middle" stroke="#4D4D4D" stroke-width="0.45">1.0</text>
<text x="304.00" y="438.75" font-size="13" font-weight="bold" fill="#000" text-anchor="middle" transform="rotate(-90 304.00 438.75)" textLength="62.50" lengthAdjust="spacingAndGlyphs" >sensitivity</text>
<text x="328.00" y="328.75" font-size="13" font-weight="bold" fill="#000" text-anchor="start" textLength="28.30" lengthAdjust="spacingAndGlyphs" >ROC</text>
<text x="432.25" y="566.41" font-size="16.5" font-weight="bold" fill="#000" text-anchor="middle" textLength="99.50" lengthAdjust="spacingAndGlyphs" >1−specificity</text>
</g>
<g id="pF">
<text x="566.40" y="322.00" font-size="26.3" font-weight="normal" fill="#000" text-anchor="start" stroke="#000" stroke-width="0.35">F</text>
<rect x="566.25" y="361.25" width="512.00" height="33.75" fill="#8DB9F7" stroke="none" stroke-width="1" />
<line x1="641.25" y1="361.25" x2="641.25" y2="540.00" stroke="#9A9A9A" stroke-width="1.1" />
<line x1="701.75" y1="361.25" x2="701.75" y2="540.00" stroke="#9A9A9A" stroke-width="1.1" />
<line x1="747.50" y1="361.25" x2="747.50" y2="540.00" stroke="#9A9A9A" stroke-width="1.1" />
<line x1="787.50" y1="361.25" x2="787.50" y2="540.00" stroke="#9A9A9A" stroke-width="1.1" />
<line x1="830.00" y1="361.25" x2="830.00" y2="540.00" stroke="#9A9A9A" stroke-width="1.1" />
<line x1="878.75" y1="361.25" x2="878.75" y2="540.00" stroke="#9A9A9A" stroke-width="1.1" />
<line x1="935.00" y1="361.25" x2="935.00" y2="540.00" stroke="#9A9A9A" stroke-width="1.1" />
<line x1="989.50" y1="361.25" x2="989.50" y2="540.00" stroke="#9A9A9A" stroke-width="1.1" />
<line x1="1033.25" y1="361.25" x2="1033.25" y2="540.00" stroke="#9A9A9A" stroke-width="1.1" />
<line x1="641.25" y1="361.25" x2="641.25" y2="395.00" stroke="#5E86BD" stroke-width="1.2" />
<line x1="701.75" y1="361.25" x2="701.75" y2="395.00" stroke="#5E86BD" stroke-width="1.2" />
<line x1="747.50" y1="361.25" x2="747.50" y2="395.00" stroke="#5E86BD" stroke-width="1.2" />
<line x1="787.50" y1="361.25" x2="787.50" y2="395.00" stroke="#5E86BD" stroke-width="1.2" />
<line x1="830.00" y1="361.25" x2="830.00" y2="395.00" stroke="#5E86BD" stroke-width="1.2" />
<line x1="878.75" y1="361.25" x2="878.75" y2="395.00" stroke="#5E86BD" stroke-width="1.2" />
<line x1="935.00" y1="361.25" x2="935.00" y2="395.00" stroke="#5E86BD" stroke-width="1.2" />
<line x1="989.50" y1="361.25" x2="989.50" y2="395.00" stroke="#5E86BD" stroke-width="1.2" />
<line x1="1033.25" y1="361.25" x2="1033.25" y2="395.00" stroke="#5E86BD" stroke-width="1.2" />
<line x1="566.25" y1="424.25" x2="1078.25" y2="424.25" stroke="#9A9A9A" stroke-width="1.1" />
<line x1="641.25" y1="453.00" x2="1078.25" y2="453.00" stroke="#9A9A9A" stroke-width="1.1" />
<line x1="641.25" y1="482.00" x2="1078.25" y2="482.00" stroke="#9A9A9A" stroke-width="1.1" />
<line x1="641.25" y1="511.25" x2="1078.25" y2="511.25" stroke="#9A9A9A" stroke-width="1.1" />
<line x1="566.25" y1="395.00" x2="1078.25" y2="395.00" stroke="#2E4A73" stroke-width="1.6" />
<rect x="566.25" y="361.25" width="512.00" height="178.75" fill="none" stroke="#333" stroke-width="1.3" />
<rect x="566.25" y="361.25" width="512.00" height="33.75" fill="none" stroke="#2E4A73" stroke-width="1.4" />
<text x="605.00" y="375.87" font-size="10.8" font-weight="bold" fill="#1A1A1A" text-anchor="middle" textLength="64.50" lengthAdjust="spacingAndGlyphs" >Independent</text>
<text x="605.00" y="388.12" font-size="10.8" font-weight="bold" fill="#1A1A1A" text-anchor="middle" textLength="69.00" lengthAdjust="spacingAndGlyphs" >validation set</text>
<text x="725.50" y="382.12" font-size="10.8" font-weight="bold" fill="#1A1A1A" text-anchor="middle" >Normal</text>
<text x="768.00" y="382.12" font-size="10.8" font-weight="bold" fill="#1A1A1A" text-anchor="middle" >tumor</text>
<text x="809.00" y="382.12" font-size="10.8" font-weight="bold" fill="#1A1A1A" text-anchor="middle" >GC 0-II</text>
<text x="855.50" y="382.12" font-size="10.8" font-weight="bold" fill="#1A1A1A" text-anchor="middle" >CRC0-II</text>
<text x="907.50" y="375.87" font-size="10.8" font-weight="bold" fill="#1A1A1A" text-anchor="middle" >high risk-</text>
<text x="907.50" y="388.37" font-size="10.8" font-weight="bold" fill="#1A1A1A" text-anchor="middle" >preGC</text>
<text x="963.25" y="375.87" font-size="10.8" font-weight="bold" fill="#1A1A1A" text-anchor="middle" >low risk-</text>
<text x="963.25" y="388.37" font-size="10.8" font-weight="bold" fill="#1A1A1A" text-anchor="middle" >preGC</text>
<text x="1012.50" y="382.12" font-size="10.8" font-weight="bold" fill="#1A1A1A" text-anchor="middle" >AA</text>
<text x="1056.25" y="382.12" font-size="10.8" font-weight="bold" fill="#1A1A1A" text-anchor="middle" >Cp</text>
<text x="673.00" y="413.12" font-size="10.8" font-weight="bold" fill="#1A1A1A" text-anchor="middle" >Total</text>
<text x="726.50" y="413.12" font-size="10.8" font-weight="bold" fill="#1A1A1A" text-anchor="middle" >113</text>
<text x="768.75" y="413.12" font-size="10.8" font-weight="bold" fill="#1A1A1A" text-anchor="middle" >386</text>
<text x="809.50" y="413.12" font-size="10.8" font-weight="bold" fill="#1A1A1A" text-anchor="middle" >53</text>
<text x="856.00" y="413.12" font-size="10.8" font-weight="bold" fill="#1A1A1A" text-anchor="middle" >101</text>
<text x="907.50" y="413.12" font-size="10.8" font-weight="bold" fill="#1A1A1A" text-anchor="middle" >85</text>
<text x="963.50" y="413.12" font-size="10.8" font-weight="bold" fill="#1A1A1A" text-anchor="middle" >186</text>
<text x="1013.00" y="413.12" font-size="10.8" font-weight="bold" fill="#1A1A1A" text-anchor="middle" >230</text>
<text x="1057.00" y="413.12" font-size="10.8" font-weight="bold" fill="#1A1A1A" text-anchor="middle" >79</text>
<text x="673.00" y="442.12" font-size="10.8" font-weight="bold" fill="#1A1A1A" text-anchor="middle" >Negative</text>
<text x="726.50" y="442.12" font-size="10.8" font-weight="bold" fill="#1A1A1A" text-anchor="middle" >103</text>
<text x="768.75" y="442.12" font-size="10.8" font-weight="bold" fill="#1A1A1A" text-anchor="middle" >46</text>
<text x="809.50" y="442.12" font-size="10.8" font-weight="bold" fill="#1A1A1A" text-anchor="middle" >9</text>
<text x="856.00" y="442.12" font-size="10.8" font-weight="bold" fill="#1A1A1A" text-anchor="middle" >17</text>
<text x="907.50" y="442.12" font-size="10.8" font-weight="bold" fill="#1A1A1A" text-anchor="middle" >32</text>
<text x="963.50" y="442.12" font-size="10.8" font-weight="bold" fill="#1A1A1A" text-anchor="middle" >94</text>
<text x="1013.00" y="442.12" font-size="10.8" font-weight="bold" fill="#1A1A1A" text-anchor="middle" >100</text>
<text x="1057.00" y="442.12" font-size="10.8" font-weight="bold" fill="#1A1A1A" text-anchor="middle" >66</text>
<text x="673.00" y="471.37" font-size="10.8" font-weight="bold" fill="#1A1A1A" text-anchor="middle" >Positive</text>
<text x="726.50" y="471.37" font-size="10.8" font-weight="bold" fill="#1A1A1A" text-anchor="middle" >10</text>
<text x="768.75" y="471.37" font-size="10.8" font-weight="bold" fill="#1A1A1A" text-anchor="middle" >340</text>
<text x="809.50" y="471.37" font-size="10.8" font-weight="bold" fill="#1A1A1A" text-anchor="middle" >44</text>
<text x="856.00" y="471.37" font-size="10.8" font-weight="bold" fill="#1A1A1A" text-anchor="middle" >84</text>
<text x="907.50" y="471.37" font-size="10.8" font-weight="bold" fill="#1A1A1A" text-anchor="middle" >53</text>
<text x="963.50" y="471.37" font-size="10.8" font-weight="bold" fill="#1A1A1A" text-anchor="middle" >92</text>
<text x="1013.00" y="471.37" font-size="10.8" font-weight="bold" fill="#1A1A1A" text-anchor="middle" >130</text>
<text x="1057.00" y="471.37" font-size="10.8" font-weight="bold" fill="#1A1A1A" text-anchor="middle" >13</text>
<text x="648.75" y="500.12" font-size="10.8" font-weight="bold" fill="#1A1A1A" text-anchor="start" textLength="52.50" lengthAdjust="spacingAndGlyphs" >Sensitivity</text>
<text x="768.75" y="500.12" font-size="10.8" font-weight="bold" fill="#1A1A1A" text-anchor="middle" >0.881</text>
<text x="809.50" y="500.12" font-size="10.8" font-weight="bold" fill="#1A1A1A" text-anchor="middle" >0.830</text>
<text x="856.00" y="500.12" font-size="10.8" font-weight="bold" fill="#1A1A1A" text-anchor="middle" >0.832</text>
<text x="907.50" y="500.12" font-size="10.8" font-weight="bold" fill="#1A1A1A" text-anchor="middle" >0.624</text>
<text x="963.50" y="500.12" font-size="10.8" font-weight="bold" fill="#1A1A1A" text-anchor="middle" >0.495</text>
<text x="1013.00" y="500.12" font-size="10.8" font-weight="bold" fill="#1A1A1A" text-anchor="middle" >0.565</text>
<text x="648.75" y="529.57" font-size="10.8" font-weight="bold" fill="#1A1A1A" text-anchor="start" textLength="52.50" lengthAdjust="spacingAndGlyphs" >Specificity</text>
<text x="726.50" y="529.57" font-size="10.8" font-weight="bold" fill="#1A1A1A" text-anchor="middle" >0.912</text>
<text x="1057.00" y="529.57" font-size="10.8" font-weight="bold" fill="#1A1A1A" text-anchor="middle" >0.835</text>
<text x="605.00" y="485.62" font-size="10.8" font-weight="bold" fill="#1A1A1A" text-anchor="middle" >Predicted</text>
</g>
<g id="pG">
<text x="1.40" y="603.30" font-size="26.3" font-weight="normal" fill="#000" text-anchor="start" stroke="#000" stroke-width="0.35">G</text>
<rect x="66.40" y="721.78" width="24.20" height="65.34" fill="#BDBDBD" stroke="#8F8F8F" stroke-width="2.2" fill-opacity="0.92"/>
<line x1="66.40" y1="780.30" x2="90.60" y2="780.30" stroke="#8F8F8F" stroke-width="2.2" />
<line x1="78.50" y1="721.78" x2="78.50" y2="678.00" stroke="#8F8F8F" stroke-width="2.2" />
<rect x="96.65" y="714.30" width="24.20" height="72.82" fill="#B9B5DE" stroke="#8B86C6" stroke-width="2.2" fill-opacity="0.92"/>
<line x1="96.65" y1="769.52" x2="120.85" y2="769.52" stroke="#8B86C6" stroke-width="2.2" />
<line x1="108.75" y1="714.30" x2="108.75" y2="678.00" stroke="#8B86C6" stroke-width="2.2" />
<rect x="126.65" y="678.00" width="24.20" height="86.35" fill="#8CD3B3" stroke="#3FAE7E" stroke-width="2.2" fill-opacity="0.92"/>
<line x1="126.65" y1="687.35" x2="150.85" y2="687.35" stroke="#3FAE7E" stroke-width="2.2" />
<line x1="138.75" y1="764.35" x2="138.75" y2="787.12" stroke="#3FAE7E" stroke-width="2.2" />
<rect x="156.90" y="678.00" width="24.20" height="8.25" fill="#A4C8F5" stroke="#5E9FE8" stroke-width="2.2" fill-opacity="0.92"/>
<line x1="156.90" y1="679.65" x2="181.10" y2="679.65" stroke="#5E9FE8" stroke-width="2.2" />
<line x1="169.00" y1="686.25" x2="169.00" y2="697.25" stroke="#5E9FE8" stroke-width="2.2" />
<rect x="187.15" y="678.00" width="24.20" height="96.25" fill="#EEA567" stroke="#DD7320" stroke-width="2.2" fill-opacity="0.92"/>
<line x1="187.15" y1="695.60" x2="211.35" y2="695.60" stroke="#DD7320" stroke-width="2.2" />
<line x1="199.25" y1="774.25" x2="199.25" y2="787.12" stroke="#DD7320" stroke-width="2.2" />
<rect x="217.40" y="678.00" width="24.20" height="44.00" fill="#F9DBB8" stroke="#F1B87E" stroke-width="2.2" fill-opacity="0.92"/>
<line x1="217.40" y1="685.70" x2="241.60" y2="685.70" stroke="#F1B87E" stroke-width="2.2" />
<line x1="229.50" y1="722.00" x2="229.50" y2="784.70" stroke="#F1B87E" stroke-width="2.2" />
<rect x="247.65" y="678.00" width="24.20" height="6.05" fill="#F6A5A8" stroke="#E8545A" stroke-width="2.2" fill-opacity="0.92"/>
<line x1="247.65" y1="679.10" x2="271.85" y2="679.10" stroke="#E8545A" stroke-width="2.2" />
<line x1="259.75" y1="684.05" x2="259.75" y2="689.00" stroke="#E8545A" stroke-width="2.2" />
<rect x="87.21" y="779.55" width="2.30" height="2.30" fill="#8A8A8A" stroke="none" stroke-width="1" rx="0.7"/>
<rect x="86.45" y="786.21" width="2.30" height="2.30" fill="#8A8A8A" stroke="none" stroke-width="1" rx="0.7"/>
<rect x="79.49" y="783.59" width="2.30" height="2.30" fill="#8A8A8A" stroke="none" stroke-width="1" rx="0.7"/>
<rect x="78.05" y="785.85" width="2.30" height="2.30" fill="#8A8A8A" stroke="none" stroke-width="1" rx="0.7"/>
<rect x="70.20" y="783.43" width="2.30" height="2.30" fill="#8A8A8A" stroke="none" stroke-width="1" rx="0.7"/>
<rect x="70.88" y="783.35" width="2.30" height="2.30" fill="#8A8A8A" stroke="none" stroke-width="1" rx="0.7"/>
<rect x="66.32" y="786.19" width="2.30" height="2.30" fill="#8A8A8A" stroke="none" stroke-width="1" rx="0.7"/>
<rect x="82.22" y="783.61" width="2.30" height="2.30" fill="#8A8A8A" stroke="none" stroke-width="1" rx="0.7"/>
<rect x="77.64" y="781.20" width="2.30" height="2.30" fill="#8A8A8A" stroke="none" stroke-width="1" rx="0.7"/>
<rect x="74.08" y="786.41" width="2.30" height="2.30" fill="#8A8A8A" stroke="none" stroke-width="1" rx="0.7"/>
<rect x="83.92" y="782.31" width="2.30" height="2.30" fill="#8A8A8A" stroke="none" stroke-width="1" rx="0.7"/>
<rect x="81.01" y="782.07" width="2.30" height="2.30" fill="#8A8A8A" stroke="none" stroke-width="1" rx="0.7"/>
<rect x="88.27" y="784.06" width="2.30" height="2.30" fill="#8A8A8A" stroke="none" stroke-width="1" rx="0.7"/>
<rect x="83.38" y="784.01" width="2.30" height="2.30" fill="#8A8A8A" stroke="none" stroke-width="1" rx="0.7"/>
<rect x="79.02" y="781.76" width="2.30" height="2.30" fill="#8A8A8A" stroke="none" stroke-width="1" rx="0.7"/>
<rect x="73.04" y="786.19" width="2.30" height="2.30" fill="#8A8A8A" stroke="none" stroke-width="1" rx="0.7"/>
<rect x="76.75" y="781.32" width="2.30" height="2.30" fill="#8A8A8A" stroke="none" stroke-width="1" rx="0.7"/>
<rect x="79.45" y="783.40" width="2.30" height="2.30" fill="#8A8A8A" stroke="none" stroke-width="1" rx="0.7"/>
<rect x="80.65" y="785.45" width="2.30" height="2.30" fill="#8A8A8A" stroke="none" stroke-width="1" rx="0.7"/>
<rect x="69.89" y="784.36" width="2.30" height="2.30" fill="#8A8A8A" stroke="none" stroke-width="1" rx="0.7"/>
<rect x="84.68" y="785.34" width="2.30" height="2.30" fill="#8A8A8A" stroke="none" stroke-width="1" rx="0.7"/>
<rect x="68.40" y="786.09" width="2.30" height="2.30" fill="#8A8A8A" stroke="none" stroke-width="1" rx="0.7"/>
<rect x="66.65" y="784.73" width="2.30" height="2.30" fill="#8A8A8A" stroke="none" stroke-width="1" rx="0.7"/>
<rect x="79.04" y="780.53" width="2.30" height="2.30" fill="#8A8A8A" stroke="none" stroke-width="1" rx="0.7"/>
<rect x="73.42" y="784.00" width="2.30" height="2.30" fill="#8A8A8A" stroke="none" stroke-width="1" rx="0.7"/>
<rect x="72.44" y="784.50" width="2.30" height="2.30" fill="#8A8A8A" stroke="none" stroke-width="1" rx="0.7"/>
<rect x="83.79" y="782.62" width="2.30" height="2.30" fill="#8A8A8A" stroke="none" stroke-width="1" rx="0.7"/>
<rect x="71.75" y="786.03" width="2.30" height="2.30" fill="#8A8A8A" stroke="none" stroke-width="1" rx="0.7"/>
<rect x="83.93" y="781.40" width="2.30" height="2.30" fill="#8A8A8A" stroke="none" stroke-width="1" rx="0.7"/>
<rect x="84.97" y="785.02" width="2.30" height="2.30" fill="#8A8A8A" stroke="none" stroke-width="1" rx="0.7"/>
<rect x="78.41" y="779.78" width="2.30" height="2.30" fill="#8A8A8A" stroke="none" stroke-width="1" rx="0.7"/>
<rect x="79.50" y="779.57" width="2.30" height="2.30" fill="#8A8A8A" stroke="none" stroke-width="1" rx="0.7"/>
<rect x="69.63" y="779.34" width="2.30" height="2.30" fill="#8A8A8A" stroke="none" stroke-width="1" rx="0.7"/>
<rect x="67.05" y="783.65" width="2.30" height="2.30" fill="#8A8A8A" stroke="none" stroke-width="1" rx="0.7"/>
<rect x="66.29" y="780.62" width="2.30" height="2.30" fill="#8A8A8A" stroke="none" stroke-width="1" rx="0.7"/>
<rect x="81.69" y="779.35" width="2.30" height="2.30" fill="#8A8A8A" stroke="none" stroke-width="1" rx="0.7"/>
<rect x="84.43" y="779.54" width="2.30" height="2.30" fill="#8A8A8A" stroke="none" stroke-width="1" rx="0.7"/>
<rect x="78.25" y="779.24" width="2.30" height="2.30" fill="#8A8A8A" stroke="none" stroke-width="1" rx="0.7"/>
<rect x="83.13" y="784.18" width="2.30" height="2.30" fill="#8A8A8A" stroke="none" stroke-width="1" rx="0.7"/>
<rect x="88.36" y="783.95" width="2.30" height="2.30" fill="#8A8A8A" stroke="none" stroke-width="1" rx="0.7"/>
<rect x="70.23" y="774.73" width="2.30" height="2.30" fill="#8A8A8A" stroke="none" stroke-width="1" rx="0.7"/>
<rect x="76.56" y="767.69" width="2.30" height="2.30" fill="#8A8A8A" stroke="none" stroke-width="1" rx="0.7"/>
<rect x="87.41" y="723.74" width="2.30" height="2.30" fill="#8A8A8A" stroke="none" stroke-width="1" rx="0.7"/>
<rect x="70.76" y="773.12" width="2.30" height="2.30" fill="#8A8A8A" stroke="none" stroke-width="1" rx="0.7"/>
<rect x="78.02" y="769.26" width="2.30" height="2.30" fill="#8A8A8A" stroke="none" stroke-width="1" rx="0.7"/>
<rect x="78.36" y="731.76" width="2.30" height="2.30" fill="#8A8A8A" stroke="none" stroke-width="1" rx="0.7"/>
<rect x="71.62" y="754.56" width="2.30" height="2.30" fill="#8A8A8A" stroke="none" stroke-width="1" rx="0.7"/>
<rect x="86.65" y="753.22" width="2.30" height="2.30" fill="#8A8A8A" stroke="none" stroke-width="1" rx="0.7"/>
<rect x="73.70" y="727.13" width="2.30" height="2.30" fill="#8A8A8A" stroke="none" stroke-width="1" rx="0.7"/>
<rect x="84.63" y="726.96" width="2.30" height="2.30" fill="#8A8A8A" stroke="none" stroke-width="1" rx="0.7"/>
<rect x="81.71" y="755.09" width="2.30" height="2.30" fill="#8A8A8A" stroke="none" stroke-width="1" rx="0.7"/>
<rect x="81.83" y="730.77" width="2.30" height="2.30" fill="#8A8A8A" stroke="none" stroke-width="1" rx="0.7"/>
<rect x="80.59" y="765.25" width="2.30" height="2.30" fill="#8A8A8A" stroke="none" stroke-width="1" rx="0.7"/>
<rect x="72.60" y="755.27" width="2.30" height="2.30" fill="#8A8A8A" stroke="none" stroke-width="1" rx="0.7"/>
<rect x="83.65" y="746.67" width="2.30" height="2.30" fill="#8A8A8A" stroke="none" stroke-width="1" rx="0.7"/>
<rect x="78.51" y="730.96" width="2.30" height="2.30" fill="#8A8A8A" stroke="none" stroke-width="1" rx="0.7"/>
<rect x="68.27" y="742.35" width="2.30" height="2.30" fill="#8A8A8A" stroke="none" stroke-width="1" rx="0.7"/>
<rect x="73.46" y="746.54" width="2.30" height="2.30" fill="#8A8A8A" stroke="none" stroke-width="1" rx="0.7"/>
<rect x="85.13" y="764.67" width="2.30" height="2.30" fill="#8A8A8A" stroke="none" stroke-width="1" rx="0.7"/>
<rect x="87.83" y="774.57" width="2.30" height="2.30" fill="#8A8A8A" stroke="none" stroke-width="1" rx="0.7"/>
<rect x="78.79" y="747.56" width="2.30" height="2.30" fill="#8A8A8A" stroke="none" stroke-width="1" rx="0.7"/>
<rect x="71.20" y="746.45" width="2.30" height="2.30" fill="#8A8A8A" stroke="none" stroke-width="1" rx="0.7"/>
<rect x="76.67" y="704.53" width="2.30" height="2.30" fill="#8A8A8A" stroke="none" stroke-width="1" rx="0.7"/>
<rect x="82.42" y="720.71" width="2.30" height="2.30" fill="#8A8A8A" stroke="none" stroke-width="1" rx="0.7"/>
<rect x="74.50" y="692.33" width="2.30" height="2.30" fill="#8A8A8A" stroke="none" stroke-width="1" rx="0.7"/>
<rect x="69.04" y="689.36" width="2.30" height="2.30" fill="#8A8A8A" stroke="none" stroke-width="1" rx="0.7"/>
<rect x="70.47" y="696.13" width="2.30" height="2.30" fill="#8A8A8A" stroke="none" stroke-width="1" rx="0.7"/>
<rect x="69.77" y="704.54" width="2.30" height="2.30" fill="#8A8A8A" stroke="none" stroke-width="1" rx="0.7"/>
<rect x="75.55" y="717.88" width="2.30" height="2.30" fill="#8A8A8A" stroke="none" stroke-width="1" rx="0.7"/>
<rect x="81.98" y="703.42" width="2.30" height="2.30" fill="#8A8A8A" stroke="none" stroke-width="1" rx="0.7"/>
<rect x="81.74" y="701.28" width="2.30" height="2.30" fill="#8A8A8A" stroke="none" stroke-width="1" rx="0.7"/>
<rect x="78.65" y="701.75" width="2.30" height="2.30" fill="#8A8A8A" stroke="none" stroke-width="1" rx="0.7"/>
<rect x="72.66" y="688.23" width="2.30" height="2.30" fill="#8A8A8A" stroke="none" stroke-width="1" rx="0.7"/>
<rect x="67.75" y="689.03" width="2.30" height="2.30" fill="#8A8A8A" stroke="none" stroke-width="1" rx="0.7"/>
<rect x="85.78" y="702.78" width="2.30" height="2.30" fill="#8A8A8A" stroke="none" stroke-width="1" rx="0.7"/>
<rect x="83.78" y="696.41" width="2.30" height="2.30" fill="#8A8A8A" stroke="none" stroke-width="1" rx="0.7"/>
<rect x="79.79" y="679.19" width="2.30" height="2.30" fill="#8A8A8A" stroke="none" stroke-width="1" rx="0.7"/>
<rect x="73.17" y="679.00" width="2.30" height="2.30" fill="#8A8A8A" stroke="none" stroke-width="1" rx="0.7"/>
<rect x="72.76" y="676.98" width="2.30" height="2.30" fill="#8A8A8A" stroke="none" stroke-width="1" rx="0.7"/>
<rect x="73.67" y="678.87" width="2.30" height="2.30" fill="#8A8A8A" stroke="none" stroke-width="1" rx="0.7"/>
<rect x="75.48" y="677.46" width="2.30" height="2.30" fill="#8A8A8A" stroke="none" stroke-width="1" rx="0.7"/>
<rect x="107.08" y="781.98" width="2.30" height="2.30" fill="#8B86C6" stroke="none" stroke-width="1" rx="0.7"/>
<rect x="101.93" y="784.40" width="2.30" height="2.30" fill="#8B86C6" stroke="none" stroke-width="1" rx="0.7"/>
<rect x="98.07" y="784.94" width="2.30" height="2.30" fill="#8B86C6" stroke="none" stroke-width="1" rx="0.7"/>
<rect x="102.12" y="779.35" width="2.30" height="2.30" fill="#8B86C6" stroke="none" stroke-width="1" rx="0.7"/>
<rect x="107.66" y="785.88" width="2.30" height="2.30" fill="#8B86C6" stroke="none" stroke-width="1" rx="0.7"/>
<rect x="106.74" y="785.79" width="2.30" height="2.30" fill="#8B86C6" stroke="none" stroke-width="1" rx="0.7"/>
<rect x="109.13" y="782.96" width="2.30" height="2.30" fill="#8B86C6" stroke="none" stroke-width="1" rx="0.7"/>
<rect x="115.91" y="784.57" width="2.30" height="2.30" fill="#8B86C6" stroke="none" stroke-width="1" rx="0.7"/>
<rect x="115.74" y="784.67" width="2.30" height="2.30" fill="#8B86C6" stroke="none" stroke-width="1" rx="0.7"/>
<rect x="118.80" y="781.27" width="2.30" height="2.30" fill="#8B86C6" stroke="none" stroke-width="1" rx="0.7"/>
<rect x="96.99" y="779.75" width="2.30" height="2.30" fill="#8B86C6" stroke="none" stroke-width="1" rx="0.7"/>
<rect x="102.40" y="783.66" width="2.30" height="2.30" fill="#8B86C6" stroke="none" stroke-width="1" rx="0.7"/>
<rect x="99.40" y="779.48" width="2.30" height="2.30" fill="#8B86C6" stroke="none" stroke-width="1" rx="0.7"/>
<rect x="98.10" y="780.35" width="2.30" height="2.30" fill="#8B86C6" stroke="none" stroke-width="1" rx="0.7"/>
<rect x="105.18" y="780.87" width="2.30" height="2.30" fill="#8B86C6" stroke="none" stroke-width="1" rx="0.7"/>
<rect x="102.80" y="786.16" width="2.30" height="2.30" fill="#8B86C6" stroke="none" stroke-width="1" rx="0.7"/>
<rect x="117.23" y="781.09" width="2.30" height="2.30" fill="#8B86C6" stroke="none" stroke-width="1" rx="0.7"/>
<rect x="99.94" y="778.26" width="2.30" height="2.30" fill="#8B86C6" stroke="none" stroke-width="1" rx="0.7"/>
<rect x="117.15" y="785.24" width="2.30" height="2.30" fill="#8B86C6" stroke="none" stroke-width="1" rx="0.7"/>
<rect x="96.44" y="781.47" width="2.30" height="2.30" fill="#8B86C6" stroke="none" stroke-width="1" rx="0.7"/>
<rect x="99.23" y="780.41" width="2.30" height="2.30" fill="#8B86C6" stroke="none" stroke-width="1" rx="0.7"/>
<rect x="106.88" y="780.61" width="2.30" height="2.30" fill="#8B86C6" stroke="none" stroke-width="1" rx="0.7"/>
<rect x="109.22" y="728.03" width="2.30" height="2.30" fill="#8B86C6" stroke="none" stroke-width="1" rx="0.7"/>
<rect x="115.06" y="738.92" width="2.30" height="2.30" fill="#8B86C6" stroke="none" stroke-width="1" rx="0.7"/>
<rect x="109.72" y="756.84" width="2.30" height="2.30" fill="#8B86C6" stroke="none" stroke-width="1" rx="0.7"/>
<rect x="99.11" y="772.05" width="2.30" height="2.30" fill="#8B86C6" stroke="none" stroke-width="1" rx="0.7"/>
<rect x="115.88" y="764.67" width="2.30" height="2.30" fill="#8B86C6" stroke="none" stroke-width="1" rx="0.7"/>
<rect x="105.90" y="757.49" width="2.30" height="2.30" fill="#8B86C6" stroke="none" stroke-width="1" rx="0.7"/>
<rect x="110.38" y="743.44" width="2.30" height="2.30" fill="#8B86C6" stroke="none" stroke-width="1" rx="0.7"/>
<rect x="115.93" y="749.75" width="2.30" height="2.30" fill="#8B86C6" stroke="none" stroke-width="1" rx="0.7"/>
<rect x="104.40" y="735.79" width="2.30" height="2.30" fill="#8B86C6" stroke="none" stroke-width="1" rx="0.7"/>
<rect x="113.28" y="717.99" width="2.30" height="2.30" fill="#8B86C6" stroke="none" stroke-width="1" rx="0.7"/>
<rect x="103.23" y="720.52" width="2.30" height="2.30" fill="#8B86C6" stroke="none" stroke-width="1" rx="0.7"/>
<rect x="118.77" y="714.29" width="2.30" height="2.30" fill="#8B86C6" stroke="none" stroke-width="1" rx="0.7"/>
<rect x="99.00" y="753.38" width="2.30" height="2.30" fill="#8B86C6" stroke="none" stroke-width="1" rx="0.7"/>
<rect x="113.96" y="724.12" width="2.30" height="2.30" fill="#8B86C6" stroke="none" stroke-width="1" rx="0.7"/>
<rect x="96.92" y="752.41" width="2.30" height="2.30" fill="#8B86C6" stroke="none" stroke-width="1" rx="0.7"/>
<rect x="112.80" y="728.84" width="2.30" height="2.30" fill="#8B86C6" stroke="none" stroke-width="1" rx="0.7"/>
<rect x="108.41" y="764.39" width="2.30" height="2.30" fill="#8B86C6" stroke="none" stroke-width="1" rx="0.7"/>
<rect x="105.44" y="774.25" width="2.30" height="2.30" fill="#8B86C6" stroke="none" stroke-width="1" rx="0.7"/>
<rect x="103.32" y="750.31" width="2.30" height="2.30" fill="#8B86C6" stroke="none" stroke-width="1" rx="0.7"/>
<rect x="115.09" y="739.80" width="2.30" height="2.30" fill="#8B86C6" stroke="none" stroke-width="1" rx="0.7"/>
<rect x="105.61" y="762.09" width="2.30" height="2.30" fill="#8B86C6" stroke="none" stroke-width="1" rx="0.7"/>
<rect x="103.31" y="734.52" width="2.30" height="2.30" fill="#8B86C6" stroke="none" stroke-width="1" rx="0.7"/>
<rect x="106.33" y="707.82" width="2.30" height="2.30" fill="#8B86C6" stroke="none" stroke-width="1" rx="0.7"/>
<rect x="115.06" y="695.42" width="2.30" height="2.30" fill="#8B86C6" stroke="none" stroke-width="1" rx="0.7"/>
<rect x="118.45" y="696.63" width="2.30" height="2.30" fill="#8B86C6" stroke="none" stroke-width="1" rx="0.7"/>
<rect x="110.46" y="699.98" width="2.30" height="2.30" fill="#8B86C6" stroke="none" stroke-width="1" rx="0.7"/>
<rect x="110.11" y="684.85" width="2.30" height="2.30" fill="#8B86C6" stroke="none" stroke-width="1" rx="0.7"/>
<rect x="118.77" y="692.79" width="2.30" height="2.30" fill="#8B86C6" stroke="none" stroke-width="1" rx="0.7"/>
<rect x="105.98" y="679.94" width="2.30" height="2.30" fill="#8B86C6" stroke="none" stroke-width="1" rx="0.7"/>
<rect x="115.49" y="678.86" width="2.30" height="2.30" fill="#8B86C6" stroke="none" stroke-width="1" rx="0.7"/>
<rect x="104.87" y="679.96" width="2.30" height="2.30" fill="#8B86C6" stroke="none" stroke-width="1" rx="0.7"/>
<rect x="96.79" y="678.86" width="2.30" height="2.30" fill="#8B86C6" stroke="none" stroke-width="1" rx="0.7"/>
<rect x="118.61" y="677.71" width="2.30" height="2.30" fill="#8B86C6" stroke="none" stroke-width="1" rx="0.7"/>
<rect x="142.44" y="780.23" width="2.30" height="2.30" fill="#3FAE7E" stroke="none" stroke-width="1" rx="0.7"/>
<rect x="132.33" y="785.18" width="2.30" height="2.30" fill="#3FAE7E" stroke="none" stroke-width="1" rx="0.7"/>
<rect x="139.97" y="786.22" width="2.30" height="2.30" fill="#3FAE7E" stroke="none" stroke-width="1" rx="0.7"/>
<rect x="139.64" y="781.76" width="2.30" height="2.30" fill="#3FAE7E" stroke="none" stroke-width="1" rx="0.7"/>
<rect x="138.59" y="785.65" width="2.30" height="2.30" fill="#3FAE7E" stroke="none" stroke-width="1" rx="0.7"/>
<rect x="127.57" y="782.16" width="2.30" height="2.30" fill="#3FAE7E" stroke="none" stroke-width="1" rx="0.7"/>
<rect x="129.38" y="780.50" width="2.30" height="2.30" fill="#3FAE7E" stroke="none" stroke-width="1" rx="0.7"/>
<rect x="133.18" y="780.71" width="2.30" height="2.30" fill="#3FAE7E" stroke="none" stroke-width="1" rx="0.7"/>
<rect x="143.40" y="780.85" width="2.30" height="2.30" fill="#3FAE7E" stroke="none" stroke-width="1" rx="0.7"/>
<rect x="138.33" y="784.90" width="2.30" height="2.30" fill="#3FAE7E" stroke="none" stroke-width="1" rx="0.7"/>
<rect x="134.05" y="777.17" width="2.30" height="2.30" fill="#3FAE7E" stroke="none" stroke-width="1" rx="0.7"/>
<rect x="132.23" y="784.04" width="2.30" height="2.30" fill="#3FAE7E" stroke="none" stroke-width="1" rx="0.7"/>
<rect x="137.44" y="781.45" width="2.30" height="2.30" fill="#3FAE7E" stroke="none" stroke-width="1" rx="0.7"/>
<rect x="144.35" y="783.93" width="2.30" height="2.30" fill="#3FAE7E" stroke="none" stroke-width="1" rx="0.7"/>
<rect x="148.34" y="786.63" width="2.30" height="2.30" fill="#3FAE7E" stroke="none" stroke-width="1" rx="0.7"/>
<rect x="144.34" y="781.21" width="2.30" height="2.30" fill="#3FAE7E" stroke="none" stroke-width="1" rx="0.7"/>
<rect x="146.91" y="785.33" width="2.30" height="2.30" fill="#3FAE7E" stroke="none" stroke-width="1" rx="0.7"/>
<rect x="141.99" y="777.47" width="2.30" height="2.30" fill="#3FAE7E" stroke="none" stroke-width="1" rx="0.7"/>
<rect x="141.48" y="785.74" width="2.30" height="2.30" fill="#3FAE7E" stroke="none" stroke-width="1" rx="0.7"/>
<rect x="147.37" y="777.25" width="2.30" height="2.30" fill="#3FAE7E" stroke="none" stroke-width="1" rx="0.7"/>
<rect x="128.57" y="778.66" width="2.30" height="2.30" fill="#3FAE7E" stroke="none" stroke-width="1" rx="0.7"/>
<rect x="127.84" y="786.05" width="2.30" height="2.30" fill="#3FAE7E" stroke="none" stroke-width="1" rx="0.7"/>
<rect x="144.45" y="779.72" width="2.30" height="2.30" fill="#3FAE7E" stroke="none" stroke-width="1" rx="0.7"/>
<rect x="148.21" y="780.59" width="2.30" height="2.30" fill="#3FAE7E" stroke="none" stroke-width="1" rx="0.7"/>
<rect x="137.87" y="784.16" width="2.30" height="2.30" fill="#3FAE7E" stroke="none" stroke-width="1" rx="0.7"/>
<rect x="139.29" y="777.02" width="2.30" height="2.30" fill="#3FAE7E" stroke="none" stroke-width="1" rx="0.7"/>
<rect x="141.00" y="778.18" width="2.30" height="2.30" fill="#3FAE7E" stroke="none" stroke-width="1" rx="0.7"/>
<rect x="130.58" y="779.57" width="2.30" height="2.30" fill="#3FAE7E" stroke="none" stroke-width="1" rx="0.7"/>
<rect x="142.98" y="786.15" width="2.30" height="2.30" fill="#3FAE7E" stroke="none" stroke-width="1" rx="0.7"/>
<rect x="145.03" y="785.11" width="2.30" height="2.30" fill="#3FAE7E" stroke="none" stroke-width="1" rx="0.7"/>
<rect x="131.04" y="786.24" width="2.30" height="2.30" fill="#3FAE7E" stroke="none" stroke-width="1" rx="0.7"/>
<rect x="141.37" y="785.44" width="2.30" height="2.30" fill="#3FAE7E" stroke="none" stroke-width="1" rx="0.7"/>
<rect x="148.64" y="786.85" width="2.30" height="2.30" fill="#3FAE7E" stroke="none" stroke-width="1" rx="0.7"/>
<rect x="144.78" y="779.33" width="2.30" height="2.30" fill="#3FAE7E" stroke="none" stroke-width="1" rx="0.7"/>
<rect x="139.21" y="781.19" width="2.30" height="2.30" fill="#3FAE7E" stroke="none" stroke-width="1" rx="0.7"/>
<rect x="144.51" y="780.55" width="2.30" height="2.30" fill="#3FAE7E" stroke="none" stroke-width="1" rx="0.7"/>
<rect x="129.23" y="778.96" width="2.30" height="2.30" fill="#3FAE7E" stroke="none" stroke-width="1" rx="0.7"/>
<rect x="134.21" y="781.07" width="2.30" height="2.30" fill="#3FAE7E" stroke="none" stroke-width="1" rx="0.7"/>
<rect x="137.89" y="777.90" width="2.30" height="2.30" fill="#3FAE7E" stroke="none" stroke-width="1" rx="0.7"/>
<rect x="135.61" y="778.40" width="2.30" height="2.30" fill="#3FAE7E" stroke="none" stroke-width="1" rx="0.7"/>
<rect x="127.90" y="783.62" width="2.30" height="2.30" fill="#3FAE7E" stroke="none" stroke-width="1" rx="0.7"/>
<rect x="141.56" y="780.79" width="2.30" height="2.30" fill="#3FAE7E" stroke="none" stroke-width="1" rx="0.7"/>
<rect x="145.31" y="784.79" width="2.30" height="2.30" fill="#3FAE7E" stroke="none" stroke-width="1" rx="0.7"/>
<rect x="144.66" y="778.97" width="2.30" height="2.30" fill="#3FAE7E" stroke="none" stroke-width="1" rx="0.7"/>
<rect x="129.32" y="785.47" width="2.30" height="2.30" fill="#3FAE7E" stroke="none" stroke-width="1" rx="0.7"/>
<rect x="139.53" y="732.95" width="2.30" height="2.30" fill="#3FAE7E" stroke="none" stroke-width="1" rx="0.7"/>
<rect x="140.24" y="757.65" width="2.30" height="2.30" fill="#3FAE7E" stroke="none" stroke-width="1" rx="0.7"/>
<rect x="137.76" y="740.44" width="2.30" height="2.30" fill="#3FAE7E" stroke="none" stroke-width="1" rx="0.7"/>
<rect x="138.12" y="752.74" width="2.30" height="2.30" fill="#3FAE7E" stroke="none" stroke-width="1" rx="0.7"/>
<rect x="139.76" y="734.91" width="2.30" height="2.30" fill="#3FAE7E" stroke="none" stroke-width="1" rx="0.7"/>
<rect x="144.57" y="739.10" width="2.30" height="2.30" fill="#3FAE7E" stroke="none" stroke-width="1" rx="0.7"/>
<rect x="132.18" y="749.88" width="2.30" height="2.30" fill="#3FAE7E" stroke="none" stroke-width="1" rx="0.7"/>
<rect x="145.10" y="744.56" width="2.30" height="2.30" fill="#3FAE7E" stroke="none" stroke-width="1" rx="0.7"/>
<rect x="148.08" y="735.67" width="2.30" height="2.30" fill="#3FAE7E" stroke="none" stroke-width="1" rx="0.7"/>
<rect x="128.96" y="754.03" width="2.30" height="2.30" fill="#3FAE7E" stroke="none" stroke-width="1" rx="0.7"/>
<rect x="134.30" y="767.70" width="2.30" height="2.30" fill="#3FAE7E" stroke="none" stroke-width="1" rx="0.7"/>
<rect x="137.62" y="732.59" width="2.30" height="2.30" fill="#3FAE7E" stroke="none" stroke-width="1" rx="0.7"/>
<rect x="143.82" y="772.48" width="2.30" height="2.30" fill="#3FAE7E" stroke="none" stroke-width="1" rx="0.7"/>
<rect x="131.75" y="760.28" width="2.30" height="2.30" fill="#3FAE7E" stroke="none" stroke-width="1" rx="0.7"/>
<rect x="146.54" y="756.23" width="2.30" height="2.30" fill="#3FAE7E" stroke="none" stroke-width="1" rx="0.7"/>
<rect x="129.70" y="752.14" width="2.30" height="2.30" fill="#3FAE7E" stroke="none" stroke-width="1" rx="0.7"/>
<rect x="131.74" y="775.22" width="2.30" height="2.30" fill="#3FAE7E" stroke="none" stroke-width="1" rx="0.7"/>
<rect x="139.75" y="732.26" width="2.30" height="2.30" fill="#3FAE7E" stroke="none" stroke-width="1" rx="0.7"/>
<rect x="144.00" y="743.75" width="2.30" height="2.30" fill="#3FAE7E" stroke="none" stroke-width="1" rx="0.7"/>
<rect x="129.54" y="751.62" width="2.30" height="2.30" fill="#3FAE7E" stroke="none" stroke-width="1" rx="0.7"/>
<rect x="140.78" y="742.71" width="2.30" height="2.30" fill="#3FAE7E" stroke="none" stroke-width="1" rx="0.7"/>
<rect x="136.36" y="774.55" width="2.30" height="2.30" fill="#3FAE7E" stroke="none" stroke-width="1" rx="0.7"/>
<rect x="147.52" y="764.97" width="2.30" height="2.30" fill="#3FAE7E" stroke="none" stroke-width="1" rx="0.7"/>
<rect x="143.13" y="756.01" width="2.30" height="2.30" fill="#3FAE7E" stroke="none" stroke-width="1" rx="0.7"/>
<rect x="144.08" y="761.72" width="2.30" height="2.30" fill="#3FAE7E" stroke="none" stroke-width="1" rx="0.7"/>
<rect x="128.15" y="710.66" width="2.30" height="2.30" fill="#3FAE7E" stroke="none" stroke-width="1" rx="0.7"/>
<rect x="137.14" y="692.62" width="2.30" height="2.30" fill="#3FAE7E" stroke="none" stroke-width="1" rx="0.7"/>
<rect x="135.37" y="698.86" width="2.30" height="2.30" fill="#3FAE7E" stroke="none" stroke-width="1" rx="0.7"/>
<rect x="134.73" y="695.58" width="2.30" height="2.30" fill="#3FAE7E" stroke="none" stroke-width="1" rx="0.7"/>
<rect x="130.04" y="688.29" width="2.30" height="2.30" fill="#3FAE7E" stroke="none" stroke-width="1" rx="0.7"/>
<rect x="147.91" y="730.68" width="2.30" height="2.30" fill="#3FAE7E" stroke="none" stroke-width="1" rx="0.7"/>
<rect x="145.91" y="693.34" width="2.30" height="2.30" fill="#3FAE7E" stroke="none" stroke-width="1" rx="0.7"/>
<rect x="142.08" y="726.61" width="2.30" height="2.30" fill="#3FAE7E" stroke="none" stroke-width="1" rx="0.7"/>
<rect x="143.00" y="693.65" width="2.30" height="2.30" fill="#3FAE7E" stroke="none" stroke-width="1" rx="0.7"/>
<rect x="140.53" y="684.15" width="2.30" height="2.30" fill="#3FAE7E" stroke="none" stroke-width="1" rx="0.7"/>
<rect x="147.97" y="700.49" width="2.30" height="2.30" fill="#3FAE7E" stroke="none" stroke-width="1" rx="0.7"/>
<rect x="147.46" y="724.73" width="2.30" height="2.30" fill="#3FAE7E" stroke="none" stroke-width="1" rx="0.7"/>
<rect x="132.92" y="705.62" width="2.30" height="2.30" fill="#3FAE7E" stroke="none" stroke-width="1" rx="0.7"/>
<rect x="138.13" y="684.68" width="2.30" height="2.30" fill="#3FAE7E" stroke="none" stroke-width="1" rx="0.7"/>
<rect x="140.75" y="701.10" width="2.30" height="2.30" fill="#3FAE7E" stroke="none" stroke-width="1" rx="0.7"/>
<rect x="140.41" y="685.04" width="2.30" height="2.30" fill="#3FAE7E" stroke="none" stroke-width="1" rx="0.7"/>
<rect x="135.29" y="695.25" width="2.30" height="2.30" fill="#3FAE7E" stroke="none" stroke-width="1" rx="0.7"/>
<rect x="139.92" y="711.93" width="2.30" height="2.30" fill="#3FAE7E" stroke="none" stroke-width="1" rx="0.7"/>
<rect x="133.87" y="724.24" width="2.30" height="2.30" fill="#3FAE7E" stroke="none" stroke-width="1" rx="0.7"/>
<rect x="126.25" y="715.22" width="2.30" height="2.30" fill="#3FAE7E" stroke="none" stroke-width="1" rx="0.7"/>
<rect x="132.96" y="727.83" width="2.30" height="2.30" fill="#3FAE7E" stroke="none" stroke-width="1" rx="0.7"/>
<rect x="137.26" y="714.48" width="2.30" height="2.30" fill="#3FAE7E" stroke="none" stroke-width="1" rx="0.7"/>
<rect x="147.48" y="693.21" width="2.30" height="2.30" fill="#3FAE7E" stroke="none" stroke-width="1" rx="0.7"/>
<rect x="141.43" y="689.92" width="2.30" height="2.30" fill="#3FAE7E" stroke="none" stroke-width="1" rx="0.7"/>
<rect x="132.37" y="726.09" width="2.30" height="2.30" fill="#3FAE7E" stroke="none" stroke-width="1" rx="0.7"/>
<rect x="140.14" y="720.59" width="2.30" height="2.30" fill="#3FAE7E" stroke="none" stroke-width="1" rx="0.7"/>
<rect x="148.85" y="710.81" width="2.30" height="2.30" fill="#3FAE7E" stroke="none" stroke-width="1" rx="0.7"/>
<rect x="146.56" y="719.69" width="2.30" height="2.30" fill="#3FAE7E" stroke="none" stroke-width="1" rx="0.7"/>
<rect x="128.17" y="700.81" width="2.30" height="2.30" fill="#3FAE7E" stroke="none" stroke-width="1" rx="0.7"/>
<rect x="142.08" y="719.18" width="2.30" height="2.30" fill="#3FAE7E" stroke="none" stroke-width="1" rx="0.7"/>
<rect x="147.50" y="683.68" width="2.30" height="2.30" fill="#3FAE7E" stroke="none" stroke-width="1" rx="0.7"/>
<rect x="141.94" y="683.27" width="2.30" height="2.30" fill="#3FAE7E" stroke="none" stroke-width="1" rx="0.7"/>
<rect x="148.81" y="724.52" width="2.30" height="2.30" fill="#3FAE7E" stroke="none" stroke-width="1" rx="0.7"/>
<rect x="142.94" y="694.92" width="2.30" height="2.30" fill="#3FAE7E" stroke="none" stroke-width="1" rx="0.7"/>
<rect x="142.98" y="715.04" width="2.30" height="2.30" fill="#3FAE7E" stroke="none" stroke-width="1" rx="0.7"/>
<rect x="138.60" y="702.74" width="2.30" height="2.30" fill="#3FAE7E" stroke="none" stroke-width="1" rx="0.7"/>
<rect x="145.72" y="729.30" width="2.30" height="2.30" fill="#3FAE7E" stroke="none" stroke-width="1" rx="0.7"/>
<rect x="134.70" y="716.26" width="2.30" height="2.30" fill="#3FAE7E" stroke="none" stroke-width="1" rx="0.7"/>
<rect x="144.36" y="726.08" width="2.30" height="2.30" fill="#3FAE7E" stroke="none" stroke-width="1" rx="0.7"/>
<rect x="127.43" y="726.14" width="2.30" height="2.30" fill="#3FAE7E" stroke="none" stroke-width="1" rx="0.7"/>
<rect x="128.69" y="710.31" width="2.30" height="2.30" fill="#3FAE7E" stroke="none" stroke-width="1" rx="0.7"/>
<rect x="146.08" y="714.27" width="2.30" height="2.30" fill="#3FAE7E" stroke="none" stroke-width="1" rx="0.7"/>
<rect x="128.35" y="698.69" width="2.30" height="2.30" fill="#3FAE7E" stroke="none" stroke-width="1" rx="0.7"/>
<rect x="133.72" y="703.58" width="2.30" height="2.30" fill="#3FAE7E" stroke="none" stroke-width="1" rx="0.7"/>
<rect x="143.34" y="709.28" width="2.30" height="2.30" fill="#3FAE7E" stroke="none" stroke-width="1" rx="0.7"/>
<rect x="143.01" y="678.94" width="2.30" height="2.30" fill="#3FAE7E" stroke="none" stroke-width="1" rx="0.7"/>
<rect x="145.76" y="678.16" width="2.30" height="2.30" fill="#3FAE7E" stroke="none" stroke-width="1" rx="0.7"/>
<rect x="146.91" y="678.25" width="2.30" height="2.30" fill="#3FAE7E" stroke="none" stroke-width="1" rx="0.7"/>
<rect x="132.55" y="679.57" width="2.30" height="2.30" fill="#3FAE7E" stroke="none" stroke-width="1" rx="0.7"/>
<rect x="143.92" y="678.03" width="2.30" height="2.30" fill="#3FAE7E" stroke="none" stroke-width="1" rx="0.7"/>
<rect x="142.94" y="677.71" width="2.30" height="2.30" fill="#3FAE7E" stroke="none" stroke-width="1" rx="0.7"/>
<rect x="145.13" y="679.37" width="2.30" height="2.30" fill="#3FAE7E" stroke="none" stroke-width="1" rx="0.7"/>
<rect x="140.86" y="682.11" width="2.30" height="2.30" fill="#3FAE7E" stroke="none" stroke-width="1" rx="0.7"/>
<rect x="137.08" y="678.35" width="2.30" height="2.30" fill="#3FAE7E" stroke="none" stroke-width="1" rx="0.7"/>
<rect x="147.19" y="677.68" width="2.30" height="2.30" fill="#3FAE7E" stroke="none" stroke-width="1" rx="0.7"/>
<rect x="136.19" y="681.09" width="2.30" height="2.30" fill="#3FAE7E" stroke="none" stroke-width="1" rx="0.7"/>
<rect x="146.55" y="678.73" width="2.30" height="2.30" fill="#3FAE7E" stroke="none" stroke-width="1" rx="0.7"/>
<rect x="130.44" y="682.14" width="2.30" height="2.30" fill="#3FAE7E" stroke="none" stroke-width="1" rx="0.7"/>
<rect x="146.37" y="679.18" width="2.30" height="2.30" fill="#3FAE7E" stroke="none" stroke-width="1" rx="0.7"/>
<rect x="128.54" y="676.91" width="2.30" height="2.30" fill="#3FAE7E" stroke="none" stroke-width="1" rx="0.7"/>
<rect x="139.62" y="678.18" width="2.30" height="2.30" fill="#3FAE7E" stroke="none" stroke-width="1" rx="0.7"/>
<rect x="144.71" y="680.94" width="2.30" height="2.30" fill="#3FAE7E" stroke="none" stroke-width="1" rx="0.7"/>
<rect x="138.12" y="681.40" width="2.30" height="2.30" fill="#3FAE7E" stroke="none" stroke-width="1" rx="0.7"/>
<rect x="140.21" y="679.96" width="2.30" height="2.30" fill="#3FAE7E" stroke="none" stroke-width="1" rx="0.7"/>
<rect x="144.33" y="681.71" width="2.30" height="2.30" fill="#3FAE7E" stroke="none" stroke-width="1" rx="0.7"/>
<rect x="130.77" y="680.22" width="2.30" height="2.30" fill="#3FAE7E" stroke="none" stroke-width="1" rx="0.7"/>
<rect x="126.04" y="680.11" width="2.30" height="2.30" fill="#3FAE7E" stroke="none" stroke-width="1" rx="0.7"/>
<rect x="148.33" y="677.59" width="2.30" height="2.30" fill="#3FAE7E" stroke="none" stroke-width="1" rx="0.7"/>
<rect x="130.18" y="677.78" width="2.30" height="2.30" fill="#3FAE7E" stroke="none" stroke-width="1" rx="0.7"/>
<rect x="131.22" y="681.03" width="2.30" height="2.30" fill="#3FAE7E" stroke="none" stroke-width="1" rx="0.7"/>
<rect x="171.04" y="782.97" width="2.30" height="2.30" fill="#5E9FE8" stroke="none" stroke-width="1" rx="0.7"/>
<rect x="160.92" y="785.72" width="2.30" height="2.30" fill="#5E9FE8" stroke="none" stroke-width="1" rx="0.7"/>
<rect x="160.35" y="784.31" width="2.30" height="2.30" fill="#5E9FE8" stroke="none" stroke-width="1" rx="0.7"/>
<rect x="177.41" y="786.30" width="2.30" height="2.30" fill="#5E9FE8" stroke="none" stroke-width="1" rx="0.7"/>
<rect x="168.78" y="763.35" width="2.30" height="2.30" fill="#5E9FE8" stroke="none" stroke-width="1" rx="0.7"/>
<rect x="172.96" y="770.25" width="2.30" height="2.30" fill="#5E9FE8" stroke="none" stroke-width="1" rx="0.7"/>
<rect x="164.87" y="746.01" width="2.30" height="2.30" fill="#5E9FE8" stroke="none" stroke-width="1" rx="0.7"/>
<rect x="156.85" y="756.78" width="2.30" height="2.30" fill="#5E9FE8" stroke="none" stroke-width="1" rx="0.7"/>
<rect x="163.81" y="754.37" width="2.30" height="2.30" fill="#5E9FE8" stroke="none" stroke-width="1" rx="0.7"/>
<rect x="170.83" y="718.65" width="2.30" height="2.30" fill="#5E9FE8" stroke="none" stroke-width="1" rx="0.7"/>
<rect x="176.34" y="713.42" width="2.30" height="2.30" fill="#5E9FE8" stroke="none" stroke-width="1" rx="0.7"/>
<rect x="174.16" y="717.19" width="2.30" height="2.30" fill="#5E9FE8" stroke="none" stroke-width="1" rx="0.7"/>
<rect x="158.43" y="715.52" width="2.30" height="2.30" fill="#5E9FE8" stroke="none" stroke-width="1" rx="0.7"/>
<rect x="158.20" y="714.03" width="2.30" height="2.30" fill="#5E9FE8" stroke="none" stroke-width="1" rx="0.7"/>
<rect x="159.49" y="718.47" width="2.30" height="2.30" fill="#5E9FE8" stroke="none" stroke-width="1" rx="0.7"/>
<rect x="176.01" y="706.32" width="2.30" height="2.30" fill="#5E9FE8" stroke="none" stroke-width="1" rx="0.7"/>
<rect x="167.77" y="706.87" width="2.30" height="2.30" fill="#5E9FE8" stroke="none" stroke-width="1" rx="0.7"/>
<rect x="175.05" y="692.95" width="2.30" height="2.30" fill="#5E9FE8" stroke="none" stroke-width="1" rx="0.7"/>
<rect x="157.30" y="687.49" width="2.30" height="2.30" fill="#5E9FE8" stroke="none" stroke-width="1" rx="0.7"/>
<rect x="156.41" y="688.90" width="2.30" height="2.30" fill="#5E9FE8" stroke="none" stroke-width="1" rx="0.7"/>
<rect x="170.75" y="685.87" width="2.30" height="2.30" fill="#5E9FE8" stroke="none" stroke-width="1" rx="0.7"/>
<rect x="156.27" y="689.81" width="2.30" height="2.30" fill="#5E9FE8" stroke="none" stroke-width="1" rx="0.7"/>
<rect x="163.51" y="688.24" width="2.30" height="2.30" fill="#5E9FE8" stroke="none" stroke-width="1" rx="0.7"/>
<rect x="157.02" y="686.71" width="2.30" height="2.30" fill="#5E9FE8" stroke="none" stroke-width="1" rx="0.7"/>
<rect x="178.45" y="688.52" width="2.30" height="2.30" fill="#5E9FE8" stroke="none" stroke-width="1" rx="0.7"/>
<rect x="171.71" y="686.00" width="2.30" height="2.30" fill="#5E9FE8" stroke="none" stroke-width="1" rx="0.7"/>
<rect x="175.83" y="686.14" width="2.30" height="2.30" fill="#5E9FE8" stroke="none" stroke-width="1" rx="0.7"/>
<rect x="197.80" y="786.08" width="2.30" height="2.30" fill="#DD7320" stroke="none" stroke-width="1" rx="0.7"/>
<rect x="204.93" y="779.43" width="2.30" height="2.30" fill="#DD7320" stroke="none" stroke-width="1" rx="0.7"/>
<rect x="202.76" y="784.08" width="2.30" height="2.30" fill="#DD7320" stroke="none" stroke-width="1" rx="0.7"/>
<rect x="209.12" y="781.37" width="2.30" height="2.30" fill="#DD7320" stroke="none" stroke-width="1" rx="0.7"/>
<rect x="193.75" y="779.93" width="2.30" height="2.30" fill="#DD7320" stroke="none" stroke-width="1" rx="0.7"/>
<rect x="191.70" y="784.73" width="2.30" height="2.30" fill="#DD7320" stroke="none" stroke-width="1" rx="0.7"/>
<rect x="207.50" y="786.36" width="2.30" height="2.30" fill="#DD7320" stroke="none" stroke-width="1" rx="0.7"/>
<rect x="206.68" y="783.36" width="2.30" height="2.30" fill="#DD7320" stroke="none" stroke-width="1" rx="0.7"/>
<rect x="199.77" y="780.77" width="2.30" height="2.30" fill="#DD7320" stroke="none" stroke-width="1" rx="0.7"/>
<rect x="207.44" y="784.92" width="2.30" height="2.30" fill="#DD7320" stroke="none" stroke-width="1" rx="0.7"/>
<rect x="188.66" y="782.34" width="2.30" height="2.30" fill="#DD7320" stroke="none" stroke-width="1" rx="0.7"/>
<rect x="191.70" y="783.12" width="2.30" height="2.30" fill="#DD7320" stroke="none" stroke-width="1" rx="0.7"/>
<rect x="189.06" y="786.06" width="2.30" height="2.30" fill="#DD7320" stroke="none" stroke-width="1" rx="0.7"/>
<rect x="199.67" y="786.39" width="2.30" height="2.30" fill="#DD7320" stroke="none" stroke-width="1" rx="0.7"/>
<rect x="192.69" y="783.43" width="2.30" height="2.30" fill="#DD7320" stroke="none" stroke-width="1" rx="0.7"/>
<rect x="188.70" y="779.76" width="2.30" height="2.30" fill="#DD7320" stroke="none" stroke-width="1" rx="0.7"/>
<rect x="207.42" y="786.57" width="2.30" height="2.30" fill="#DD7320" stroke="none" stroke-width="1" rx="0.7"/>
<rect x="205.22" y="785.30" width="2.30" height="2.30" fill="#DD7320" stroke="none" stroke-width="1" rx="0.7"/>
<rect x="203.43" y="786.32" width="2.30" height="2.30" fill="#DD7320" stroke="none" stroke-width="1" rx="0.7"/>
<rect x="203.80" y="778.64" width="2.30" height="2.30" fill="#DD7320" stroke="none" stroke-width="1" rx="0.7"/>
<rect x="192.51" y="785.40" width="2.30" height="2.30" fill="#DD7320" stroke="none" stroke-width="1" rx="0.7"/>
<rect x="194.40" y="779.28" width="2.30" height="2.30" fill="#DD7320" stroke="none" stroke-width="1" rx="0.7"/>
<rect x="204.60" y="785.47" width="2.30" height="2.30" fill="#DD7320" stroke="none" stroke-width="1" rx="0.7"/>
<rect x="207.42" y="780.35" width="2.30" height="2.30" fill="#DD7320" stroke="none" stroke-width="1" rx="0.7"/>
<rect x="208.71" y="778.29" width="2.30" height="2.30" fill="#DD7320" stroke="none" stroke-width="1" rx="0.7"/>
<rect x="190.18" y="780.45" width="2.30" height="2.30" fill="#DD7320" stroke="none" stroke-width="1" rx="0.7"/>
<rect x="187.07" y="785.16" width="2.30" height="2.30" fill="#DD7320" stroke="none" stroke-width="1" rx="0.7"/>
<rect x="198.95" y="784.80" width="2.30" height="2.30" fill="#DD7320" stroke="none" stroke-width="1" rx="0.7"/>
<rect x="191.56" y="783.70" width="2.30" height="2.30" fill="#DD7320" stroke="none" stroke-width="1" rx="0.7"/>
<rect x="197.16" y="778.77" width="2.30" height="2.30" fill="#DD7320" stroke="none" stroke-width="1" rx="0.7"/>
<rect x="199.98" y="781.96" width="2.30" height="2.30" fill="#DD7320" stroke="none" stroke-width="1" rx="0.7"/>
<rect x="203.19" y="785.19" width="2.30" height="2.30" fill="#DD7320" stroke="none" stroke-width="1" rx="0.7"/>
<rect x="205.14" y="780.14" width="2.30" height="2.30" fill="#DD7320" stroke="none" stroke-width="1" rx="0.7"/>
<rect x="205.39" y="782.89" width="2.30" height="2.30" fill="#DD7320" stroke="none" stroke-width="1" rx="0.7"/>
<rect x="199.07" y="786.19" width="2.30" height="2.30" fill="#DD7320" stroke="none" stroke-width="1" rx="0.7"/>
<rect x="197.14" y="781.19" width="2.30" height="2.30" fill="#DD7320" stroke="none" stroke-width="1" rx="0.7"/>
<rect x="208.54" y="778.96" width="2.30" height="2.30" fill="#DD7320" stroke="none" stroke-width="1" rx="0.7"/>
<rect x="194.37" y="780.19" width="2.30" height="2.30" fill="#DD7320" stroke="none" stroke-width="1" rx="0.7"/>
<rect x="206.36" y="778.39" width="2.30" height="2.30" fill="#DD7320" stroke="none" stroke-width="1" rx="0.7"/>
<rect x="202.29" y="783.95" width="2.30" height="2.30" fill="#DD7320" stroke="none" stroke-width="1" rx="0.7"/>
<rect x="206.77" y="786.71" width="2.30" height="2.30" fill="#DD7320" stroke="none" stroke-width="1" rx="0.7"/>
<rect x="199.67" y="782.82" width="2.30" height="2.30" fill="#DD7320" stroke="none" stroke-width="1" rx="0.7"/>
<rect x="206.98" y="781.38" width="2.30" height="2.30" fill="#DD7320" stroke="none" stroke-width="1" rx="0.7"/>
<rect x="191.15" y="785.39" width="2.30" height="2.30" fill="#DD7320" stroke="none" stroke-width="1" rx="0.7"/>
<rect x="187.34" y="780.23" width="2.30" height="2.30" fill="#DD7320" stroke="none" stroke-width="1" rx="0.7"/>
<rect x="204.67" y="756.69" width="2.30" height="2.30" fill="#DD7320" stroke="none" stroke-width="1" rx="0.7"/>
<rect x="191.69" y="746.16" width="2.30" height="2.30" fill="#DD7320" stroke="none" stroke-width="1" rx="0.7"/>
<rect x="191.04" y="747.92" width="2.30" height="2.30" fill="#DD7320" stroke="none" stroke-width="1" rx="0.7"/>
<rect x="194.47" y="759.80" width="2.30" height="2.30" fill="#DD7320" stroke="none" stroke-width="1" rx="0.7"/>
<rect x="202.53" y="763.82" width="2.30" height="2.30" fill="#DD7320" stroke="none" stroke-width="1" rx="0.7"/>
<rect x="194.19" y="745.79" width="2.30" height="2.30" fill="#DD7320" stroke="none" stroke-width="1" rx="0.7"/>
<rect x="208.35" y="769.46" width="2.30" height="2.30" fill="#DD7320" stroke="none" stroke-width="1" rx="0.7"/>
<rect x="193.61" y="762.46" width="2.30" height="2.30" fill="#DD7320" stroke="none" stroke-width="1" rx="0.7"/>
<rect x="193.81" y="750.15" width="2.30" height="2.30" fill="#DD7320" stroke="none" stroke-width="1" rx="0.7"/>
<rect x="205.53" y="767.68" width="2.30" height="2.30" fill="#DD7320" stroke="none" stroke-width="1" rx="0.7"/>
<rect x="203.18" y="753.34" width="2.30" height="2.30" fill="#DD7320" stroke="none" stroke-width="1" rx="0.7"/>
<rect x="199.77" y="749.30" width="2.30" height="2.30" fill="#DD7320" stroke="none" stroke-width="1" rx="0.7"/>
<rect x="200.49" y="767.78" width="2.30" height="2.30" fill="#DD7320" stroke="none" stroke-width="1" rx="0.7"/>
<rect x="200.79" y="755.05" width="2.30" height="2.30" fill="#DD7320" stroke="none" stroke-width="1" rx="0.7"/>
<rect x="204.69" y="743.97" width="2.30" height="2.30" fill="#DD7320" stroke="none" stroke-width="1" rx="0.7"/>
<rect x="195.96" y="721.59" width="2.30" height="2.30" fill="#DD7320" stroke="none" stroke-width="1" rx="0.7"/>
<rect x="190.65" y="777.26" width="2.30" height="2.30" fill="#DD7320" stroke="none" stroke-width="1" rx="0.7"/>
<rect x="189.36" y="738.59" width="2.30" height="2.30" fill="#DD7320" stroke="none" stroke-width="1" rx="0.7"/>
<rect x="188.63" y="735.99" width="2.30" height="2.30" fill="#DD7320" stroke="none" stroke-width="1" rx="0.7"/>
<rect x="188.55" y="761.04" width="2.30" height="2.30" fill="#DD7320" stroke="none" stroke-width="1" rx="0.7"/>
<rect x="200.94" y="776.86" width="2.30" height="2.30" fill="#DD7320" stroke="none" stroke-width="1" rx="0.7"/>
<rect x="196.54" y="720.89" width="2.30" height="2.30" fill="#DD7320" stroke="none" stroke-width="1" rx="0.7"/>
<rect x="203.39" y="755.79" width="2.30" height="2.30" fill="#DD7320" stroke="none" stroke-width="1" rx="0.7"/>
<rect x="207.58" y="745.49" width="2.30" height="2.30" fill="#DD7320" stroke="none" stroke-width="1" rx="0.7"/>
<rect x="205.31" y="758.38" width="2.30" height="2.30" fill="#DD7320" stroke="none" stroke-width="1" rx="0.7"/>
<rect x="195.35" y="737.98" width="2.30" height="2.30" fill="#DD7320" stroke="none" stroke-width="1" rx="0.7"/>
<rect x="204.15" y="738.43" width="2.30" height="2.30" fill="#DD7320" stroke="none" stroke-width="1" rx="0.7"/>
<rect x="189.99" y="753.95" width="2.30" height="2.30" fill="#DD7320" stroke="none" stroke-width="1" rx="0.7"/>
<rect x="193.88" y="764.81" width="2.30" height="2.30" fill="#DD7320" stroke="none" stroke-width="1" rx="0.7"/>
<rect x="189.20" y="735.25" width="2.30" height="2.30" fill="#DD7320" stroke="none" stroke-width="1" rx="0.7"/>
<rect x="189.78" y="757.81" width="2.30" height="2.30" fill="#DD7320" stroke="none" stroke-width="1" rx="0.7"/>
<rect x="186.94" y="737.74" width="2.30" height="2.30" fill="#DD7320" stroke="none" stroke-width="1" rx="0.7"/>
<rect x="201.01" y="773.58" width="2.30" height="2.30" fill="#DD7320" stroke="none" stroke-width="1" rx="0.7"/>
<rect x="208.54" y="721.14" width="2.30" height="2.30" fill="#DD7320" stroke="none" stroke-width="1" rx="0.7"/>
<rect x="203.90" y="731.96" width="2.30" height="2.30" fill="#DD7320" stroke="none" stroke-width="1" rx="0.7"/>
<rect x="202.82" y="776.79" width="2.30" height="2.30" fill="#DD7320" stroke="none" stroke-width="1" rx="0.7"/>
<rect x="192.84" y="764.50" width="2.30" height="2.30" fill="#DD7320" stroke="none" stroke-width="1" rx="0.7"/>
<rect x="187.00" y="741.54" width="2.30" height="2.30" fill="#DD7320" stroke="none" stroke-width="1" rx="0.7"/>
<rect x="200.22" y="757.34" width="2.30" height="2.30" fill="#DD7320" stroke="none" stroke-width="1" rx="0.7"/>
<rect x="203.86" y="764.65" width="2.30" height="2.30" fill="#DD7320" stroke="none" stroke-width="1" rx="0.7"/>
<rect x="193.01" y="716.42" width="2.30" height="2.30" fill="#DD7320" stroke="none" stroke-width="1" rx="0.7"/>
<rect x="191.96" y="688.09" width="2.30" height="2.30" fill="#DD7320" stroke="none" stroke-width="1" rx="0.7"/>
<rect x="197.87" y="692.49" width="2.30" height="2.30" fill="#DD7320" stroke="none" stroke-width="1" rx="0.7"/>
<rect x="206.63" y="695.19" width="2.30" height="2.30" fill="#DD7320" stroke="none" stroke-width="1" rx="0.7"/>
<rect x="194.88" y="683.61" width="2.30" height="2.30" fill="#DD7320" stroke="none" stroke-width="1" rx="0.7"/>
<rect x="188.36" y="704.95" width="2.30" height="2.30" fill="#DD7320" stroke="none" stroke-width="1" rx="0.7"/>
<rect x="207.03" y="694.59" width="2.30" height="2.30" fill="#DD7320" stroke="none" stroke-width="1" rx="0.7"/>
<rect x="194.70" y="689.00" width="2.30" height="2.30" fill="#DD7320" stroke="none" stroke-width="1" rx="0.7"/>
<rect x="204.08" y="693.00" width="2.30" height="2.30" fill="#DD7320" stroke="none" stroke-width="1" rx="0.7"/>
<rect x="192.68" y="694.67" width="2.30" height="2.30" fill="#DD7320" stroke="none" stroke-width="1" rx="0.7"/>
<rect x="201.72" y="688.51" width="2.30" height="2.30" fill="#DD7320" stroke="none" stroke-width="1" rx="0.7"/>
<rect x="198.40" y="685.07" width="2.30" height="2.30" fill="#DD7320" stroke="none" stroke-width="1" rx="0.7"/>
<rect x="203.21" y="712.78" width="2.30" height="2.30" fill="#DD7320" stroke="none" stroke-width="1" rx="0.7"/>
<rect x="199.92" y="713.29" width="2.30" height="2.30" fill="#DD7320" stroke="none" stroke-width="1" rx="0.7"/>
<rect x="200.82" y="708.31" width="2.30" height="2.30" fill="#DD7320" stroke="none" stroke-width="1" rx="0.7"/>
<rect x="209.65" y="707.67" width="2.30" height="2.30" fill="#DD7320" stroke="none" stroke-width="1" rx="0.7"/>
<rect x="204.82" y="688.67" width="2.30" height="2.30" fill="#DD7320" stroke="none" stroke-width="1" rx="0.7"/>
<rect x="195.16" y="698.17" width="2.30" height="2.30" fill="#DD7320" stroke="none" stroke-width="1" rx="0.7"/>
<rect x="191.90" y="706.40" width="2.30" height="2.30" fill="#DD7320" stroke="none" stroke-width="1" rx="0.7"/>
<rect x="196.69" y="693.46" width="2.30" height="2.30" fill="#DD7320" stroke="none" stroke-width="1" rx="0.7"/>
<rect x="198.29" y="714.66" width="2.30" height="2.30" fill="#DD7320" stroke="none" stroke-width="1" rx="0.7"/>
<rect x="201.56" y="700.98" width="2.30" height="2.30" fill="#DD7320" stroke="none" stroke-width="1" rx="0.7"/>
<rect x="198.68" y="703.70" width="2.30" height="2.30" fill="#DD7320" stroke="none" stroke-width="1" rx="0.7"/>
<rect x="206.61" y="695.66" width="2.30" height="2.30" fill="#DD7320" stroke="none" stroke-width="1" rx="0.7"/>
<rect x="201.85" y="701.55" width="2.30" height="2.30" fill="#DD7320" stroke="none" stroke-width="1" rx="0.7"/>
<rect x="195.82" y="704.41" width="2.30" height="2.30" fill="#DD7320" stroke="none" stroke-width="1" rx="0.7"/>
<rect x="202.25" y="703.99" width="2.30" height="2.30" fill="#DD7320" stroke="none" stroke-width="1" rx="0.7"/>
<rect x="188.11" y="712.35" width="2.30" height="2.30" fill="#DD7320" stroke="none" stroke-width="1" rx="0.7"/>
<rect x="187.74" y="718.96" width="2.30" height="2.30" fill="#DD7320" stroke="none" stroke-width="1" rx="0.7"/>
<rect x="194.83" y="706.30" width="2.30" height="2.30" fill="#DD7320" stroke="none" stroke-width="1" rx="0.7"/>
<rect x="197.09" y="713.11" width="2.30" height="2.30" fill="#DD7320" stroke="none" stroke-width="1" rx="0.7"/>
<rect x="191.91" y="703.64" width="2.30" height="2.30" fill="#DD7320" stroke="none" stroke-width="1" rx="0.7"/>
<rect x="193.24" y="710.81" width="2.30" height="2.30" fill="#DD7320" stroke="none" stroke-width="1" rx="0.7"/>
<rect x="197.91" y="691.45" width="2.30" height="2.30" fill="#DD7320" stroke="none" stroke-width="1" rx="0.7"/>
<rect x="187.91" y="720.33" width="2.30" height="2.30" fill="#DD7320" stroke="none" stroke-width="1" rx="0.7"/>
<rect x="196.89" y="686.42" width="2.30" height="2.30" fill="#DD7320" stroke="none" stroke-width="1" rx="0.7"/>
<rect x="201.16" y="706.80" width="2.30" height="2.30" fill="#DD7320" stroke="none" stroke-width="1" rx="0.7"/>
<rect x="209.07" y="694.72" width="2.30" height="2.30" fill="#DD7320" stroke="none" stroke-width="1" rx="0.7"/>
<rect x="205.65" y="688.42" width="2.30" height="2.30" fill="#DD7320" stroke="none" stroke-width="1" rx="0.7"/>
<rect x="187.40" y="713.35" width="2.30" height="2.30" fill="#DD7320" stroke="none" stroke-width="1" rx="0.7"/>
<rect x="204.85" y="680.20" width="2.30" height="2.30" fill="#DD7320" stroke="none" stroke-width="1" rx="0.7"/>
<rect x="207.39" y="681.96" width="2.30" height="2.30" fill="#DD7320" stroke="none" stroke-width="1" rx="0.7"/>
<rect x="208.26" y="678.94" width="2.30" height="2.30" fill="#DD7320" stroke="none" stroke-width="1" rx="0.7"/>
<rect x="196.05" y="677.79" width="2.30" height="2.30" fill="#DD7320" stroke="none" stroke-width="1" rx="0.7"/>
<rect x="198.92" y="679.82" width="2.30" height="2.30" fill="#DD7320" stroke="none" stroke-width="1" rx="0.7"/>
<rect x="190.78" y="678.04" width="2.30" height="2.30" fill="#DD7320" stroke="none" stroke-width="1" rx="0.7"/>
<rect x="189.89" y="680.70" width="2.30" height="2.30" fill="#DD7320" stroke="none" stroke-width="1" rx="0.7"/>
<rect x="188.54" y="682.26" width="2.30" height="2.30" fill="#DD7320" stroke="none" stroke-width="1" rx="0.7"/>
<rect x="193.39" y="682.11" width="2.30" height="2.30" fill="#DD7320" stroke="none" stroke-width="1" rx="0.7"/>
<rect x="197.39" y="680.44" width="2.30" height="2.30" fill="#DD7320" stroke="none" stroke-width="1" rx="0.7"/>
<rect x="186.92" y="679.80" width="2.30" height="2.30" fill="#DD7320" stroke="none" stroke-width="1" rx="0.7"/>
<rect x="193.14" y="681.08" width="2.30" height="2.30" fill="#DD7320" stroke="none" stroke-width="1" rx="0.7"/>
<rect x="199.05" y="680.52" width="2.30" height="2.30" fill="#DD7320" stroke="none" stroke-width="1" rx="0.7"/>
<rect x="187.76" y="677.23" width="2.30" height="2.30" fill="#DD7320" stroke="none" stroke-width="1" rx="0.7"/>
<rect x="209.04" y="681.05" width="2.30" height="2.30" fill="#DD7320" stroke="none" stroke-width="1" rx="0.7"/>
<rect x="201.80" y="679.13" width="2.30" height="2.30" fill="#DD7320" stroke="none" stroke-width="1" rx="0.7"/>
<rect x="192.27" y="679.39" width="2.30" height="2.30" fill="#DD7320" stroke="none" stroke-width="1" rx="0.7"/>
<rect x="192.66" y="680.84" width="2.30" height="2.30" fill="#DD7320" stroke="none" stroke-width="1" rx="0.7"/>
<rect x="197.02" y="682.10" width="2.30" height="2.30" fill="#DD7320" stroke="none" stroke-width="1" rx="0.7"/>
<rect x="191.84" y="676.94" width="2.30" height="2.30" fill="#DD7320" stroke="none" stroke-width="1" rx="0.7"/>
<rect x="204.37" y="680.53" width="2.30" height="2.30" fill="#DD7320" stroke="none" stroke-width="1" rx="0.7"/>
<rect x="209.62" y="680.54" width="2.30" height="2.30" fill="#DD7320" stroke="none" stroke-width="1" rx="0.7"/>
<rect x="206.25" y="680.58" width="2.30" height="2.30" fill="#DD7320" stroke="none" stroke-width="1" rx="0.7"/>
<rect x="207.24" y="679.86" width="2.30" height="2.30" fill="#DD7320" stroke="none" stroke-width="1" rx="0.7"/>
<rect x="206.73" y="681.60" width="2.30" height="2.30" fill="#DD7320" stroke="none" stroke-width="1" rx="0.7"/>
<rect x="225.90" y="780.86" width="2.30" height="2.30" fill="#F1B87E" stroke="none" stroke-width="1" rx="0.7"/>
<rect x="234.89" y="775.13" width="2.30" height="2.30" fill="#F1B87E" stroke="none" stroke-width="1" rx="0.7"/>
<rect x="219.90" y="780.14" width="2.30" height="2.30" fill="#F1B87E" stroke="none" stroke-width="1" rx="0.7"/>
<rect x="220.75" y="783.93" width="2.30" height="2.30" fill="#F1B87E" stroke="none" stroke-width="1" rx="0.7"/>
<rect x="219.77" y="783.84" width="2.30" height="2.30" fill="#F1B87E" stroke="none" stroke-width="1" rx="0.7"/>
<rect x="223.75" y="779.91" width="2.30" height="2.30" fill="#F1B87E" stroke="none" stroke-width="1" rx="0.7"/>
<rect x="237.74" y="777.48" width="2.30" height="2.30" fill="#F1B87E" stroke="none" stroke-width="1" rx="0.7"/>
<rect x="234.40" y="781.01" width="2.30" height="2.30" fill="#F1B87E" stroke="none" stroke-width="1" rx="0.7"/>
<rect x="224.21" y="751.90" width="2.30" height="2.30" fill="#F1B87E" stroke="none" stroke-width="1" rx="0.7"/>
<rect x="222.15" y="772.60" width="2.30" height="2.30" fill="#F1B87E" stroke="none" stroke-width="1" rx="0.7"/>
<rect x="223.14" y="724.63" width="2.30" height="2.30" fill="#F1B87E" stroke="none" stroke-width="1" rx="0.7"/>
<rect x="217.93" y="747.04" width="2.30" height="2.30" fill="#F1B87E" stroke="none" stroke-width="1" rx="0.7"/>
<rect x="222.13" y="733.39" width="2.30" height="2.30" fill="#F1B87E" stroke="none" stroke-width="1" rx="0.7"/>
<rect x="217.63" y="746.71" width="2.30" height="2.30" fill="#F1B87E" stroke="none" stroke-width="1" rx="0.7"/>
<rect x="233.57" y="749.24" width="2.30" height="2.30" fill="#F1B87E" stroke="none" stroke-width="1" rx="0.7"/>
<rect x="220.08" y="726.72" width="2.30" height="2.30" fill="#F1B87E" stroke="none" stroke-width="1" rx="0.7"/>
<rect x="217.19" y="724.72" width="2.30" height="2.30" fill="#F1B87E" stroke="none" stroke-width="1" rx="0.7"/>
<rect x="235.73" y="726.98" width="2.30" height="2.30" fill="#F1B87E" stroke="none" stroke-width="1" rx="0.7"/>
<rect x="236.83" y="754.13" width="2.30" height="2.30" fill="#F1B87E" stroke="none" stroke-width="1" rx="0.7"/>
<rect x="231.28" y="748.83" width="2.30" height="2.30" fill="#F1B87E" stroke="none" stroke-width="1" rx="0.7"/>
<rect x="230.32" y="753.59" width="2.30" height="2.30" fill="#F1B87E" stroke="none" stroke-width="1" rx="0.7"/>
<rect x="236.58" y="757.40" width="2.30" height="2.30" fill="#F1B87E" stroke="none" stroke-width="1" rx="0.7"/>
<rect x="229.77" y="718.23" width="2.30" height="2.30" fill="#F1B87E" stroke="none" stroke-width="1" rx="0.7"/>
<rect x="218.11" y="686.78" width="2.30" height="2.30" fill="#F1B87E" stroke="none" stroke-width="1" rx="0.7"/>
<rect x="225.02" y="706.43" width="2.30" height="2.30" fill="#F1B87E" stroke="none" stroke-width="1" rx="0.7"/>
<rect x="239.62" y="693.04" width="2.30" height="2.30" fill="#F1B87E" stroke="none" stroke-width="1" rx="0.7"/>
<rect x="220.36" y="699.95" width="2.30" height="2.30" fill="#F1B87E" stroke="none" stroke-width="1" rx="0.7"/>
<rect x="227.96" y="697.58" width="2.30" height="2.30" fill="#F1B87E" stroke="none" stroke-width="1" rx="0.7"/>
<rect x="223.08" y="710.24" width="2.30" height="2.30" fill="#F1B87E" stroke="none" stroke-width="1" rx="0.7"/>
<rect x="238.67" y="697.90" width="2.30" height="2.30" fill="#F1B87E" stroke="none" stroke-width="1" rx="0.7"/>
<rect x="229.53" y="694.22" width="2.30" height="2.30" fill="#F1B87E" stroke="none" stroke-width="1" rx="0.7"/>
<rect x="234.20" y="713.96" width="2.30" height="2.30" fill="#F1B87E" stroke="none" stroke-width="1" rx="0.7"/>
<rect x="234.91" y="702.26" width="2.30" height="2.30" fill="#F1B87E" stroke="none" stroke-width="1" rx="0.7"/>
<rect x="220.24" y="708.67" width="2.30" height="2.30" fill="#F1B87E" stroke="none" stroke-width="1" rx="0.7"/>
<rect x="239.74" y="688.32" width="2.30" height="2.30" fill="#F1B87E" stroke="none" stroke-width="1" rx="0.7"/>
<rect x="237.71" y="701.58" width="2.30" height="2.30" fill="#F1B87E" stroke="none" stroke-width="1" rx="0.7"/>
<rect x="231.51" y="705.59" width="2.30" height="2.30" fill="#F1B87E" stroke="none" stroke-width="1" rx="0.7"/>
<rect x="233.80" y="700.23" width="2.30" height="2.30" fill="#F1B87E" stroke="none" stroke-width="1" rx="0.7"/>
<rect x="225.05" y="683.22" width="2.30" height="2.30" fill="#F1B87E" stroke="none" stroke-width="1" rx="0.7"/>
<rect x="228.37" y="719.30" width="2.30" height="2.30" fill="#F1B87E" stroke="none" stroke-width="1" rx="0.7"/>
<rect x="235.64" y="717.16" width="2.30" height="2.30" fill="#F1B87E" stroke="none" stroke-width="1" rx="0.7"/>
<rect x="223.25" y="703.41" width="2.30" height="2.30" fill="#F1B87E" stroke="none" stroke-width="1" rx="0.7"/>
<rect x="221.66" y="703.55" width="2.30" height="2.30" fill="#F1B87E" stroke="none" stroke-width="1" rx="0.7"/>
<rect x="226.95" y="700.44" width="2.30" height="2.30" fill="#F1B87E" stroke="none" stroke-width="1" rx="0.7"/>
<rect x="231.88" y="694.46" width="2.30" height="2.30" fill="#F1B87E" stroke="none" stroke-width="1" rx="0.7"/>
<rect x="217.92" y="711.72" width="2.30" height="2.30" fill="#F1B87E" stroke="none" stroke-width="1" rx="0.7"/>
<rect x="219.46" y="708.03" width="2.30" height="2.30" fill="#F1B87E" stroke="none" stroke-width="1" rx="0.7"/>
<rect x="227.35" y="677.67" width="2.30" height="2.30" fill="#F1B87E" stroke="none" stroke-width="1" rx="0.7"/>
<rect x="217.08" y="677.89" width="2.30" height="2.30" fill="#F1B87E" stroke="none" stroke-width="1" rx="0.7"/>
<rect x="220.36" y="678.28" width="2.30" height="2.30" fill="#F1B87E" stroke="none" stroke-width="1" rx="0.7"/>
<rect x="236.43" y="676.93" width="2.30" height="2.30" fill="#F1B87E" stroke="none" stroke-width="1" rx="0.7"/>
<rect x="230.10" y="682.05" width="2.30" height="2.30" fill="#F1B87E" stroke="none" stroke-width="1" rx="0.7"/>
<rect x="223.42" y="679.95" width="2.30" height="2.30" fill="#F1B87E" stroke="none" stroke-width="1" rx="0.7"/>
<rect x="232.40" y="677.02" width="2.30" height="2.30" fill="#F1B87E" stroke="none" stroke-width="1" rx="0.7"/>
<rect x="237.08" y="682.00" width="2.30" height="2.30" fill="#F1B87E" stroke="none" stroke-width="1" rx="0.7"/>
<rect x="219.74" y="678.77" width="2.30" height="2.30" fill="#F1B87E" stroke="none" stroke-width="1" rx="0.7"/>
<rect x="221.56" y="679.14" width="2.30" height="2.30" fill="#F1B87E" stroke="none" stroke-width="1" rx="0.7"/>
<rect x="258.81" y="784.05" width="2.30" height="2.30" fill="#E8545A" stroke="none" stroke-width="1" rx="0.7"/>
<rect x="255.10" y="769.35" width="2.30" height="2.30" fill="#E8545A" stroke="none" stroke-width="1" rx="0.7"/>
<rect x="253.81" y="710.92" width="2.30" height="2.30" fill="#E8545A" stroke="none" stroke-width="1" rx="0.7"/>
<rect x="250.75" y="712.88" width="2.30" height="2.30" fill="#E8545A" stroke="none" stroke-width="1" rx="0.7"/>
<rect x="250.08" y="703.27" width="2.30" height="2.30" fill="#E8545A" stroke="none" stroke-width="1" rx="0.7"/>
<rect x="247.48" y="714.18" width="2.30" height="2.30" fill="#E8545A" stroke="none" stroke-width="1" rx="0.7"/>
<rect x="265.74" y="697.42" width="2.30" height="2.30" fill="#E8545A" stroke="none" stroke-width="1" rx="0.7"/>
<rect x="254.88" y="700.65" width="2.30" height="2.30" fill="#E8545A" stroke="none" stroke-width="1" rx="0.7"/>
<rect x="265.79" y="686.47" width="2.30" height="2.30" fill="#E8545A" stroke="none" stroke-width="1" rx="0.7"/>
<rect x="261.41" y="685.90" width="2.30" height="2.30" fill="#E8545A" stroke="none" stroke-width="1" rx="0.7"/>
<rect x="254.41" y="688.23" width="2.30" height="2.30" fill="#E8545A" stroke="none" stroke-width="1" rx="0.7"/>
<rect x="252.95" y="688.78" width="2.30" height="2.30" fill="#E8545A" stroke="none" stroke-width="1" rx="0.7"/>
<rect x="168.59" y="680.77" width="1.30" height="1.30" fill="#FFFFFF" stroke="none" stroke-width="1" rx="0.7"/>
<rect x="162.78" y="682.52" width="1.30" height="1.30" fill="#FFFFFF" stroke="none" stroke-width="1" rx="0.7"/>
<rect x="159.79" y="682.03" width="1.30" height="1.30" fill="#FFFFFF" stroke="none" stroke-width="1" rx="0.7"/>
<rect x="162.16" y="680.46" width="1.30" height="1.30" fill="#FFFFFF" stroke="none" stroke-width="1" rx="0.7"/>
<rect x="173.96" y="680.79" width="1.30" height="1.30" fill="#FFFFFF" stroke="none" stroke-width="1" rx="0.7"/>
<rect x="170.94" y="681.23" width="1.30" height="1.30" fill="#FFFFFF" stroke="none" stroke-width="1" rx="0.7"/>
<rect x="160.69" y="679.97" width="1.30" height="1.30" fill="#FFFFFF" stroke="none" stroke-width="1" rx="0.7"/>
<rect x="173.13" y="682.28" width="1.30" height="1.30" fill="#FFFFFF" stroke="none" stroke-width="1" rx="0.7"/>
<rect x="164.94" y="680.22" width="1.30" height="1.30" fill="#FFFFFF" stroke="none" stroke-width="1" rx="0.7"/>
<rect x="172.05" y="682.22" width="1.30" height="1.30" fill="#FFFFFF" stroke="none" stroke-width="1" rx="0.7"/>
<rect x="257.07" y="681.37" width="1.30" height="1.30" fill="#FFFFFF" stroke="none" stroke-width="1" rx="0.7"/>
<rect x="259.92" y="679.69" width="1.30" height="1.30" fill="#FFFFFF" stroke="none" stroke-width="1" rx="0.7"/>
<rect x="252.74" y="681.40" width="1.30" height="1.30" fill="#FFFFFF" stroke="none" stroke-width="1" rx="0.7"/>
<rect x="266.71" y="682.17" width="1.30" height="1.30" fill="#FFFFFF" stroke="none" stroke-width="1" rx="0.7"/>
<rect x="253.28" y="679.82" width="1.30" height="1.30" fill="#FFFFFF" stroke="none" stroke-width="1" rx="0.7"/>
<rect x="261.33" y="681.02" width="1.30" height="1.30" fill="#FFFFFF" stroke="none" stroke-width="1" rx="0.7"/>
<rect x="258.35" y="682.61" width="1.30" height="1.30" fill="#FFFFFF" stroke="none" stroke-width="1" rx="0.7"/>
<rect x="261.64" y="681.83" width="1.30" height="1.30" fill="#FFFFFF" stroke="none" stroke-width="1" rx="0.7"/>
<rect x="258.04" y="679.27" width="1.30" height="1.30" fill="#FFFFFF" stroke="none" stroke-width="1" rx="0.7"/>
<rect x="259.03" y="681.33" width="1.30" height="1.30" fill="#FFFFFF" stroke="none" stroke-width="1" rx="0.7"/>
<line x1="59.70" y1="695.75" x2="278.10" y2="695.75" stroke="#000" stroke-width="2.5" stroke-dasharray="8.2 8.2"/>
<path d="M60.75 626.25 V805 H277.5" fill="none" stroke="#000" stroke-width="2.4"/>
<text x="55.00" y="791.79" font-size="10.6" font-weight="bold" fill="#000" text-anchor="end" textLength="14.00" lengthAdjust="spacingAndGlyphs" >0.0</text>
<text x="55.00" y="736.79" font-size="10.6" font-weight="bold" fill="#000" text-anchor="end" textLength="14.00" lengthAdjust="spacingAndGlyphs" >0.5</text>
<text x="55.00" y="681.79" font-size="10.6" font-weight="bold" fill="#000" text-anchor="end" textLength="14.00" lengthAdjust="spacingAndGlyphs" >1.0</text>
<text x="36.30" y="723.75" font-size="11.3" font-weight="bold" fill="#000" text-anchor="middle" transform="rotate(-90 36.30 723.75)" textLength="97.50" lengthAdjust="spacingAndGlyphs" >Methylation Score</text>
<path d="M78.5 676.1 V672.5 H108.75 V676.1" fill="none" stroke="#000" stroke-width="2.0"/>
<text x="94.50" y="675.80" font-size="11" font-weight="bold" fill="#000" text-anchor="middle" >*</text>
<path d="M78.5 668.6 V665 H138.75 V668.6" fill="none" stroke="#000" stroke-width="2.0"/>
<text x="113.00" y="668.30" font-size="11" font-weight="bold" fill="#000" text-anchor="middle" >***</text>
<path d="M78.5 661.1 V657.5 H169.5 V661.1" fill="none" stroke="#000" stroke-width="2.0"/>
<text x="128.25" y="660.80" font-size="11" font-weight="bold" fill="#000" text-anchor="middle" >***</text>
<path d="M78.5 653.6 V650 H199.25 V653.6" fill="none" stroke="#000" stroke-width="2.0"/>
<text x="143.25" y="653.30" font-size="11" font-weight="bold" fill="#000" text-anchor="middle" >***</text>
<path d="M78.5 646.1 V642.5 H229.5 V646.1" fill="none" stroke="#000" stroke-width="2.0"/>
<text x="158.00" y="645.80" font-size="11" font-weight="bold" fill="#000" text-anchor="middle" >***</text>
<path d="M78.5 638.1 V634.5 H260 V638.1" fill="none" stroke="#000" stroke-width="2.0"/>
<text x="173.25" y="637.80" font-size="11" font-weight="bold" fill="#000" text-anchor="middle" >***</text>
<line x1="78.50" y1="672.50" x2="78.50" y2="678.00" stroke="#000" stroke-width="2.0" />
<text x="83.75" y="801.94" font-size="8.9" font-weight="bold" fill="#222" text-anchor="middle" >n=113</text>
<text x="113.25" y="801.94" font-size="8.9" font-weight="bold" fill="#222" text-anchor="middle" >n=79</text>
<text x="144.25" y="801.94" font-size="8.9" font-weight="bold" fill="#222" text-anchor="middle" >n=230</text>
<text x="174.00" y="801.94" font-size="8.9" font-weight="bold" fill="#222" text-anchor="middle" >n=101</text>
<text x="204.50" y="801.94" font-size="8.9" font-weight="bold" fill="#222" text-anchor="middle" >n=186</text>
<text x="233.75" y="801.94" font-size="8.9" font-weight="bold" fill="#222" text-anchor="middle" >n=85</text>
<text x="263.75" y="801.94" font-size="8.9" font-weight="bold" fill="#222" text-anchor="middle" >n=53</text>
<text transform="translate(75.5,833.5) rotate(45)" x="0" y="4.3" font-size="12" font-weight="bold" text-anchor="middle">N</text>
<text transform="translate(105.5,833.5) rotate(45)" x="0" y="4.3" font-size="12" font-weight="bold" text-anchor="middle">CP</text>
<text transform="translate(135,833.5) rotate(45)" x="0" y="4.3" font-size="12" font-weight="bold" text-anchor="middle">AA</text>
<text transform="translate(165,833.5) rotate(45)" x="0" y="4.3" font-size="12" font-weight="bold" text-anchor="middle">CRC−0−II</text>
<text transform="translate(196,833.5) rotate(45)" x="0" y="4.3" font-size="12" font-weight="bold" text-anchor="middle">low−preGC</text>
<text transform="translate(226,833.5) rotate(45)" x="0" y="4.3" font-size="12" font-weight="bold" text-anchor="middle">high−preGC</text>
<text transform="translate(256,833.5) rotate(45)" x="0" y="4.3" font-size="12" font-weight="bold" text-anchor="middle">GC−0−II</text>
</g>
<g id="pH">
<text x="274.90" y="603.30" font-size="26.3" font-weight="normal" fill="#000" text-anchor="start" stroke="#000" stroke-width="0.35">H</text>
<rect x="350.60" y="715.75" width="25.80" height="104.55" fill="#72C6A0" stroke="#3FA678" stroke-width="1.4" />
<line x1="363.50" y1="704.50" x2="363.50" y2="728.25" stroke="#3FA678" stroke-width="1.5" />
<line x1="360.90" y1="704.50" x2="366.10" y2="704.50" stroke="#3FA678" stroke-width="1.5" />
<line x1="360.90" y1="728.25" x2="366.10" y2="728.25" stroke="#3FA678" stroke-width="1.5" />
<rect x="401.85" y="667.00" width="25.80" height="153.30" fill="#8DBAF7" stroke="#5B9BE8" stroke-width="1.4" />
<line x1="414.75" y1="653.75" x2="414.75" y2="680.75" stroke="#5B9BE8" stroke-width="1.5" />
<line x1="412.15" y1="653.75" x2="417.35" y2="653.75" stroke="#5B9BE8" stroke-width="1.5" />
<line x1="412.15" y1="680.75" x2="417.35" y2="680.75" stroke="#5B9BE8" stroke-width="1.5" />
<rect x="453.10" y="705.00" width="25.55" height="115.30" fill="#F7C795" stroke="#EBB072" stroke-width="1.4" />
<line x1="465.88" y1="686.25" x2="465.88" y2="725.00" stroke="#EBB072" stroke-width="1.5" />
<line x1="463.27" y1="686.25" x2="468.48" y2="686.25" stroke="#EBB072" stroke-width="1.5" />
<line x1="463.27" y1="725.00" x2="468.48" y2="725.00" stroke="#EBB072" stroke-width="1.5" />
<rect x="504.35" y="667.50" width="25.55" height="152.80" fill="#FF8080" stroke="#E85050" stroke-width="1.4" />
<line x1="517.12" y1="648.75" x2="517.12" y2="687.00" stroke="#E85050" stroke-width="1.5" />
<line x1="514.52" y1="648.75" x2="519.73" y2="648.75" stroke="#E85050" stroke-width="1.5" />
<line x1="514.52" y1="687.00" x2="519.73" y2="687.00" stroke="#E85050" stroke-width="1.5" />
<path d="M333 628 V828.3 H546" fill="none" stroke="#000" stroke-width="2.5"/>
<text x="329.50" y="823.84" font-size="11" font-weight="bold" fill="#000" text-anchor="end" >0.00</text>
<text x="329.50" y="778.21" font-size="11" font-weight="bold" fill="#000" text-anchor="end" >0.25</text>
<text x="329.50" y="732.59" font-size="11" font-weight="bold" fill="#000" text-anchor="end" >0.50</text>
<text x="329.50" y="686.96" font-size="11" font-weight="bold" fill="#000" text-anchor="end" >0.75</text>
<text x="329.50" y="641.34" font-size="11" font-weight="bold" fill="#000" text-anchor="end" >1.00</text>
<text x="305.00" y="720.40" font-size="11" font-weight="bold" fill="#000" text-anchor="middle" transform="rotate(-90 305.00 720.40)" textLength="54.00" lengthAdjust="spacingAndGlyphs" >sensitivity</text>
<text x="362.30" y="840.54" font-size="11" font-weight="bold" fill="#000" text-anchor="middle" >AA</text>
<text x="404.00" y="840.54" font-size="11" font-weight="bold" fill="#000" text-anchor="middle" textLength="50.30" lengthAdjust="spacingAndGlyphs" >CRC_0−II</text>
<text x="465.20" y="840.54" font-size="11" font-weight="bold" fill="#000" text-anchor="middle" textLength="64.50" lengthAdjust="spacingAndGlyphs" >High−preGC</text>
<text x="519.10" y="840.54" font-size="11" font-weight="bold" fill="#000" text-anchor="middle" textLength="43.40" lengthAdjust="spacingAndGlyphs" >GC_0−II</text>
</g>
<g id="pI">
<text x="546.90" y="603.30" font-size="26.3" font-weight="normal" fill="#000" text-anchor="start" stroke="#000" stroke-width="0.35">I</text>
<line x1="593.75" y1="818.00" x2="790.75" y2="635.50" stroke="#A6A6A6" stroke-width="2.9" stroke-linecap="round" stroke-dasharray="0.1 9.2"/>
<polyline points="594.6,817.9 594.6,816.5 597.2,816.5 597.2,811.8 601.2,811.8 601.2,808.3 604.1,808.3 604.1,734.0 604.1,734.0 604.1,733.2 608.6,733.2 608.6,731.2 611.8,731.2 611.8,729.5 614.5,729.5 614.5,728.6 617.1,728.6 617.1,726.6 623.3,726.6 623.3,724.8 628.8,724.8 628.8,722.6 631.2,722.6 631.2,718.0 636.3,718.0 636.3,714.6 640.0,714.6 640.0,714.4 643.0,714.4 643.0,714.1 648.5,714.1 648.5,713.6 656.3,713.6 656.3,711.9 662.1,711.9 662.1,710.6 666.5,710.6 666.5,710.2 670.3,710.2 670.3,709.7 674.8,709.7 674.8,709.4 678.3,709.4 678.3,708.5 686.9,708.5 686.9,706.9 696.4,706.9 696.4,706.5 699.1,706.5 699.1,706.5 735.7,706.5 735.7,703.4 739.8,703.4 739.8,701.2 748.0,701.2 748.0,699.7 753.4,699.7 753.4,698.3 758.2,698.3 758.2,697.3 761.5,697.3 761.5,695.3 768.3,695.3 768.3,692.3 775.5,692.3 775.5,690.2 780.6,690.2 780.6,689.0 786.3,689.0 786.3,688.1 790.7,688.1 790.7,635.6 790.7,635.6" fill="none" stroke="#7D7ABC" stroke-width="2.9" stroke-linejoin="miter"/>
<polyline points="594.6,817.9 594.6,813.2 594.8,813.2 594.8,808.9 595.1,808.9 595.1,804.1 595.3,804.1 595.3,795.4 595.8,795.4 595.8,791.2 596.0,791.2 596.0,788.0 596.2,788.0 596.2,778.9 598.5,778.9 598.5,775.9 599.2,775.9 599.2,770.6 600.6,770.6 600.6,767.6 601.3,767.6 601.3,744.2 601.3,744.2 601.3,742.7 602.7,742.7 602.7,739.9 602.9,739.9 602.9,734.0 603.1,734.0 603.1,726.7 603.5,726.7 603.5,726.2 607.0,726.2 607.0,725.8 609.4,725.8 609.4,722.2 610.1,722.2 610.1,721.4 613.6,721.4 613.6,720.7 616.8,720.7 616.8,714.8 620.4,714.8 620.4,714.3 624.6,714.3 624.6,714.0 627.4,714.0 627.4,713.6 630.7,713.6 630.7,713.2 633.7,713.2 633.7,712.0 636.2,712.0 636.2,710.5 639.2,710.5 639.2,708.1 644.1,708.1 644.1,705.8 653.4,705.8 653.4,704.4 658.7,704.4 658.7,702.4 664.0,702.4 664.0,701.4 666.5,701.4 666.5,700.2 669.7,700.2 669.7,697.7 676.3,697.7 676.3,696.3 680.0,696.3 680.0,695.3 682.8,695.3 682.8,694.7 692.6,694.7 692.6,694.5 695.7,694.5 695.7,694.3 699.1,694.3 699.1,692.2 707.2,692.2 707.2,692.1 711.0,692.1 711.0,692.1 715.8,692.1 715.8,691.8 725.9,691.8 725.9,691.6 736.1,691.6 736.1,691.6 739.7,691.6 739.7,691.4 747.7,691.4 747.7,691.2 758.2,691.2 758.2,690.9 762.6,690.9 762.6,690.4 769.9,690.4 769.9,690.2 772.4,690.2 772.4,686.1 774.4,686.1 774.4,685.1 779.5,685.1 779.5,679.7 780.0,679.7 780.0,671.9 780.6,671.9 780.6,669.8 785.7,669.8 785.7,661.3 786.0,661.3 786.0,658.0 786.2,658.0 786.2,652.7 786.4,652.7 786.4,647.4 786.7,647.4 786.7,645.4 789.7,645.4 789.7,638.3 790.5,638.3 790.5,635.6 790.7,635.6" fill="none" stroke="#6DAE3C" stroke-width="2.9" stroke-linejoin="miter"/>
<polyline points="594.6,817.9 594.6,813.3 595.9,813.3 595.9,810.0 596.8,810.0 596.8,810.0 599.8,810.0 599.8,747.2 599.8,747.2 599.8,746.7 605.6,746.7 605.6,746.5 607.9,746.5 607.9,746.2 611.5,746.2 611.5,743.5 614.8,743.5 614.8,741.1 617.6,741.1 617.6,733.0 617.6,733.0 617.6,732.3 621.1,732.3 621.1,731.4 626.1,731.4 626.1,730.9 628.8,730.9 628.8,726.9 628.8,726.9 628.8,725.9 631.4,725.9 631.4,723.8 637.2,723.8 637.2,722.8 640.0,722.8 640.0,718.3 645.6,718.3 645.6,716.8 647.5,716.8 647.5,714.6 650.2,714.6 650.2,706.5 652.2,706.5 652.2,705.5 656.3,705.5 656.3,694.3 656.3,694.3 656.3,693.0 661.5,693.0 661.5,692.2 664.4,692.2 664.4,691.0 668.1,691.0 668.1,690.2 670.6,690.2 670.6,689.9 675.5,689.9 675.5,689.6 679.1,689.6 679.1,689.2 686.9,689.2 686.9,688.0 691.5,688.0 691.5,686.9 695.9,686.9 695.9,686.1 699.1,686.1 699.1,685.7 703.6,685.7 703.6,685.0 710.0,685.0 710.0,684.7 713.3,684.7 713.3,684.1 719.4,684.1 719.4,682.3 722.9,682.3 722.9,681.2 725.2,681.2 725.2,680.0 727.6,680.0 727.6,678.0 730.3,678.0 730.3,673.9 735.7,673.9 735.7,671.8 743.9,671.8 743.9,670.8 748.0,670.8 748.0,670.5 750.3,670.5 750.3,670.0 752.9,670.0 752.9,669.4 756.4,669.4 756.4,668.8 760.2,668.8 760.2,663.7 762.2,663.7 762.2,662.7 770.4,662.7 770.4,658.4 771.6,658.4 771.6,655.6 772.4,655.6 772.4,654.8 778.1,654.8 778.1,654.5 781.2,654.5 781.2,654.1 784.0,654.1 784.0,653.5 788.7,653.5 788.7,647.0 789.5,647.0 789.5,644.3 789.8,644.3 789.8,639.3 790.3,639.3 790.3,635.6 790.7,635.6" fill="none" stroke="#E9B224" stroke-width="2.9" stroke-linejoin="miter"/>
<polyline points="594.6,817.9 594.6,817.9 597.6,817.9 597.6,813.4 597.7,813.4 597.7,810.4 597.7,810.4 597.7,805.5 597.7,805.5 597.7,803.3 597.7,803.3 597.7,799.0 597.8,799.0 597.8,794.5 597.8,794.5 597.8,789.5 597.8,789.5 597.8,786.1 597.9,786.1 597.9,784.3 597.9,784.3 597.9,782.7 597.9,782.7 597.9,779.1 597.9,779.1 597.9,777.0 597.9,777.0 597.9,773.0 598.0,773.0 598.0,771.2 598.0,771.2 598.0,766.7 598.0,766.7 598.0,764.3 598.0,764.3 598.0,762.9 598.0,762.9 598.0,760.7 598.1,760.7 598.1,757.4 598.1,757.4 598.1,753.8 598.1,753.8 598.1,750.8 598.1,750.8 598.1,748.6 598.1,748.6 598.1,745.3 598.2,745.3 598.2,740.0 598.2,740.0 598.2,736.2 598.2,736.2 598.2,736.0 609.4,736.0 609.4,733.3 613.9,733.3 613.9,732.4 615.2,732.4 615.2,730.9 617.6,730.9 617.6,729.2 622.3,729.2 622.3,728.0 625.7,728.0 625.7,726.9 628.8,726.9 628.8,725.6 632.2,725.6 632.2,723.9 636.9,723.9 636.9,723.3 638.5,723.3 638.5,722.8 640.0,722.8 640.0,721.9 643.5,721.9 643.5,721.3 646.1,721.3 646.1,720.2 650.3,720.2 650.3,719.7 652.2,719.7 652.2,719.0 653.9,719.0 653.9,717.4 657.8,717.4 657.8,716.1 660.8,716.1 660.8,714.6 664.4,714.6 664.4,713.4 668.2,713.4 668.2,712.8 669.8,712.8 669.8,711.6 673.4,711.6 673.4,710.6 676.7,710.6 676.7,708.7 681.3,708.7 681.3,707.8 683.5,707.8 683.5,706.5 686.9,706.5 686.9,705.9 691.2,705.9 691.2,705.5 695.0,705.5 695.0,700.6 695.7,700.6 695.7,698.3 696.0,698.3 696.0,697.6 699.8,697.6 699.8,697.0 703.6,697.0 703.6,696.3 707.2,696.3 707.2,693.4 708.2,693.4 708.2,691.8 708.7,691.8 708.7,690.2 709.3,690.2 709.3,689.4 713.1,689.4 713.1,689.0 715.2,689.0 715.2,688.7 716.8,688.7 716.8,688.1 719.4,688.1 719.4,686.2 722.1,686.2 722.1,684.0 725.0,684.0 725.0,683.1 726.2,683.1 726.2,682.0 727.6,682.0 727.6,680.4 729.8,680.4 729.8,677.6 733.5,677.6 733.5,676.7 734.7,676.7 734.7,675.9 735.7,675.9 735.7,673.5 738.7,673.5 738.7,670.8 741.9,670.8 741.9,670.2 747.2,670.2 747.2,669.6 751.9,669.6 751.9,669.3 753.8,669.3 753.8,669.0 756.6,669.0 756.6,668.8 758.2,668.8 758.2,665.2 761.0,665.2 761.0,663.7 762.2,663.7 762.2,663.6 764.5,663.6 764.5,663.5 766.4,663.5 766.4,663.4 768.3,663.4 768.3,663.1 773.5,663.1 773.5,662.8 778.9,662.8 778.9,662.7 780.6,662.7 780.6,659.7 783.8,659.7 783.8,657.5 786.3,657.5 786.3,655.2 788.9,655.2 788.9,653.5 790.7,653.5 790.7,635.6 790.7,635.6" fill="none" stroke="#E0852B" stroke-width="2.9" stroke-linejoin="miter"/>
<polyline points="594.6,817.9 594.6,816.5 599.8,816.5 599.8,739.9 599.8,739.9 599.8,739.1 605.0,739.1 605.0,730.9 605.0,730.9 605.0,730.3 608.6,730.3 608.6,722.2 615.4,722.2 615.4,721.4 620.4,721.4 620.4,715.4 620.9,715.4 620.9,710.4 621.3,710.4 621.3,709.5 632.9,709.5 632.9,700.4 632.9,700.4 632.9,699.4 639.0,699.4 639.0,692.2 639.0,692.2 639.0,691.2 646.1,691.2 646.1,687.1 646.1,687.1 646.1,686.4 654.1,686.4 654.1,686.1 657.3,686.1 657.3,684.1 657.3,684.1 657.3,683.9 661.1,683.9 661.1,683.7 665.8,683.7 665.8,683.2 677.4,683.2 677.4,683.1 680.7,683.1 680.7,680.0 680.7,680.0 680.7,680.0 686.9,680.0 686.9,673.9 686.9,673.9 686.9,673.5 693.0,673.5 693.0,672.9 701.1,672.9 701.1,668.8 701.1,668.8 701.1,668.4 710.8,668.4 710.8,668.2 716.6,668.2 716.6,668.0 720.7,668.0 720.7,667.8 727.6,667.8 727.6,663.7 727.6,663.7 727.6,662.7 731.7,662.7 731.7,658.6 731.7,658.6 731.7,658.6 760.2,658.6 760.2,653.5 760.2,653.5 760.2,653.1 766.8,653.1 766.8,652.5 776.5,652.5 776.5,644.4 788.7,644.4 788.7,635.6 790.7,635.6" fill="none" stroke="#66788A" stroke-width="2.9" stroke-linejoin="miter"/>
<polyline points="594.6,817.9 594.6,808.3 597.2,808.3 597.2,806.3 607.8,806.3 607.8,756.8 607.8,756.8 607.8,756.2 613.7,756.2 613.7,745.8 613.7,745.8 613.7,745.0 618.2,745.0 618.2,734.0 619.0,734.0 619.0,727.3 623.3,727.3 623.3,713.2 624.1,713.2 624.1,712.9 628.6,712.9 628.6,712.6 633.7,712.6 633.7,702.4 633.7,702.4 633.7,700.4 638.0,700.4 638.0,690.2 638.0,690.2 638.0,689.2 642.0,689.2 642.0,686.1 646.1,686.1 646.1,685.6 652.2,685.6 652.2,685.1 657.3,685.1 657.3,676.9 658.3,676.9 658.3,676.7 665.4,676.7 665.4,676.2 677.4,676.2 677.4,675.9 682.8,675.9 682.8,672.9 682.8,672.9 682.8,672.5 688.5,672.5 688.5,672.1 694.8,672.1 694.8,671.9 699.1,671.9 699.1,667.8 701.1,667.8 701.1,663.7 707.2,663.7 707.2,662.7 717.4,662.7 717.4,656.6 717.4,656.6 717.4,656.0 725.4,656.0 725.4,655.6 731.7,655.6 731.7,654.5 731.7,654.5 731.7,654.3 739.3,654.3 739.3,654.1 746.1,654.1 746.1,654.0 751.4,654.0 751.4,653.7 760.5,653.7 760.5,653.5 768.3,653.5 768.3,649.4 778.5,649.4 778.5,641.3 788.7,641.3 788.7,635.6 790.7,635.6" fill="none" stroke="#3FA58F" stroke-width="2.9" stroke-linejoin="miter"/>
<polyline points="594.6,817.9 594.6,814.8 594.6,814.8 594.6,808.6 594.7,808.6 594.7,804.3 594.7,804.3 594.7,799.2 594.8,799.2 594.8,793.2 594.9,793.2 594.9,786.2 595.0,786.2 595.0,778.4 595.1,778.4 595.1,771.6 595.1,771.6 595.1,767.6 595.2,767.6 595.2,762.0 595.5,762.0 595.5,757.6 595.7,757.6 595.7,755.3 595.9,755.3 595.9,749.6 596.2,749.6 596.2,744.4 596.5,744.4 596.5,736.7 596.9,736.7 596.9,730.9 597.2,730.9 597.2,723.6 598.3,723.6 598.3,718.1 599.1,718.1 599.1,715.3 599.6,715.3 599.6,710.6 600.3,710.6 600.3,706.7 601.6,706.7 601.6,701.4 603.3,701.4 603.3,698.9 604.2,698.9 604.2,695.3 605.4,695.3 605.4,695.3 609.4,695.3 609.4,693.2 611.5,693.2 611.5,692.4 619.4,692.4 619.4,692.2 621.7,692.2 621.7,689.6 623.4,689.6 623.4,686.1 625.7,686.1 625.7,685.5 628.5,685.5 628.5,684.0 635.8,684.0 635.8,683.1 640.0,683.1 640.0,679.9 645.4,679.9 645.4,677.5 649.5,677.5 649.5,675.9 652.2,675.9 652.2,675.7 657.6,675.7 657.6,675.5 660.7,675.5 660.7,675.2 667.3,675.2 667.3,674.9 672.6,674.9 672.6,673.8 676.4,673.8 676.4,672.7 680.5,672.7 680.5,670.8 686.9,670.8 686.9,670.3 690.2,670.3 690.2,669.3 696.2,669.3 696.2,668.8 699.1,668.8 699.1,668.8 735.7,668.8 735.7,664.7 739.8,664.7 739.8,664.7 760.2,664.7 760.2,663.3 762.0,663.3 762.0,661.7 764.3,661.7 764.3,661.7 780.6,661.7 780.6,659.3 780.8,659.3 780.8,654.1 781.3,654.1 781.3,651.5 781.6,651.5 781.6,649.4 788.7,649.4 788.7,641.6 789.9,641.6 789.9,635.6 790.7,635.6" fill="none" stroke="#DB3E8A" stroke-width="2.9" stroke-linejoin="miter"/>
<polyline points="594.6,817.9 594.6,815.5 594.6,815.5 594.6,813.6 594.7,813.6 594.7,810.6 594.7,810.6 594.7,806.7 594.8,806.7 594.8,804.5 594.8,804.5 594.8,801.9 594.9,801.9 594.9,797.7 595.0,797.7 595.0,795.1 595.0,795.1 595.0,791.5 595.1,791.5 595.1,788.1 595.2,788.1 595.2,783.3 595.3,783.3 595.3,781.8 595.3,781.8 595.3,779.8 595.3,779.8 595.3,775.5 595.4,775.5 595.4,771.6 595.5,771.6 595.5,769.9 595.5,769.9 595.5,767.6 595.6,767.6 595.6,765.5 595.7,765.5 595.7,762.1 595.9,762.1 595.9,757.4 596.2,757.4 596.2,755.2 596.3,755.2 596.3,753.1 596.5,753.1 596.5,749.2 596.7,749.2 596.7,747.2 596.8,747.2 596.8,742.7 597.4,742.7 597.4,737.7 598.0,737.7 598.0,732.8 598.5,732.8 598.5,728.8 599.0,728.8 599.0,726.9 599.3,726.9 599.3,725.3 599.5,725.3 599.5,721.0 600.1,721.0 600.1,718.1 600.6,718.1 600.6,715.1 601.0,715.1 601.0,711.4 601.6,711.4 601.6,706.5 602.3,706.5 602.3,703.1 602.9,703.1 602.9,698.4 603.7,698.4 603.7,693.5 604.6,693.5 604.6,691.8 604.9,691.8 604.9,689.2 605.4,689.2 605.4,689.2 619.6,689.2 619.6,687.3 623.9,687.3 623.9,685.7 627.8,685.7 627.8,683.7 632.4,683.7 632.4,683.1 633.9,683.1 633.9,681.8 637.0,681.8 637.0,679.9 641.4,679.9 641.4,678.6 644.6,678.6 644.6,678.0 646.1,678.0 646.1,676.4 650.9,676.4 650.9,675.7 652.8,675.7 652.8,675.3 654.2,675.3 654.2,673.9 658.3,673.9 658.3,672.9 661.7,672.9 661.7,672.3 663.7,672.3 663.7,671.1 668.0,671.1 668.0,670.5 670.4,670.5 670.4,669.8 672.6,669.8 672.6,669.1 675.0,669.1 675.0,668.7 676.4,668.7 676.4,667.9 679.2,667.9 679.2,666.8 683.3,666.8 683.3,665.7 686.9,665.7 686.9,664.2 691.6,664.2 691.6,663.7 693.0,663.7 693.0,663.1 694.9,663.1 694.9,662.5 696.7,662.5 696.7,661.7 699.1,661.7 699.1,661.2 701.1,661.2 701.1,660.2 704.8,660.2 704.8,659.4 708.1,659.4 708.1,658.6 711.3,658.6 711.3,657.8 715.7,657.8 715.7,657.0 720.0,657.0 720.0,656.1 724.7,656.1 724.7,655.6 727.6,655.6 727.6,655.1 730.3,655.1 730.3,654.4 735.2,654.4 735.2,654.0 738.0,654.0 738.0,653.6 740.4,653.6 740.4,653.2 743.6,653.2 743.6,652.9 745.6,652.9 745.6,652.5 748.0,652.5 748.0,652.3 751.7,652.3 751.7,652.2 753.4,652.2 753.4,652.0 758.4,652.0 758.4,651.8 761.7,651.8 761.7,651.7 764.0,651.7 764.0,651.5 768.3,651.5 768.3,651.0 773.2,651.0 773.2,650.7 775.9,650.7 775.9,650.6 777.3,650.6 777.3,650.5 778.5,650.5 778.5,649.0 779.1,649.0 779.1,645.4 780.6,645.4 780.6,644.0 782.7,644.0 782.7,641.6 786.5,641.6 786.5,640.3 788.7,640.3 788.7,639.0 789.3,639.0 789.3,635.6 790.7,635.6" fill="none" stroke="#A9853E" stroke-width="2.9" stroke-linejoin="miter"/>
<polyline points="594.6,817.9 594.6,726.9 594.6,726.9 594.6,725.5 595.1,725.5 595.1,722.8 596.2,722.8 596.2,721.0 596.4,721.0 596.4,719.3 596.6,719.3 596.6,716.2 597.0,716.2 597.0,712.2 597.4,712.2 597.4,710.6 597.6,710.6 597.6,707.9 599.2,707.9 599.2,706.1 600.3,706.1 600.3,704.4 601.3,704.4 601.3,701.6 601.4,701.6 601.4,700.4 601.5,700.4 601.5,696.9 601.7,696.9 601.7,695.2 601.8,695.2 601.8,693.9 601.8,693.9 601.8,692.7 601.9,692.7 601.9,689.0 602.1,689.0 602.1,685.6 602.2,685.6 602.2,684.1 602.3,684.1 602.3,681.2 602.7,681.2 602.7,677.9 603.1,677.9 603.1,675.9 603.3,675.9 603.3,673.1 605.0,673.1 605.0,670.8 606.4,670.8 606.4,667.3 608.5,667.3 608.5,665.7 609.4,665.7 609.4,662.9 609.9,662.9 609.9,660.2 610.2,660.2 610.2,658.6 610.5,658.6 610.5,656.7 611.7,656.7 611.7,655.6 612.5,655.6 612.5,655.1 616.4,655.1 616.4,654.9 618.6,654.9 618.6,654.5 621.7,654.5 621.7,652.8 625.2,652.8 625.2,652.2 626.3,652.2 626.3,650.4 630.0,650.4 630.0,649.4 631.9,649.4 631.9,648.8 634.3,648.8 634.3,648.3 636.3,648.3 636.3,647.5 639.8,647.5 639.8,646.8 642.5,646.8 642.5,646.4 644.1,646.4 644.1,646.1 645.5,646.1 645.5,645.3 649.3,645.3 649.3,644.6 652.9,644.6 652.9,644.4 654.3,644.4 654.3,644.2 656.1,644.2 656.1,644.0 658.0,644.0 658.0,643.7 660.5,643.7 660.5,643.6 661.8,643.6 661.8,643.3 664.4,643.3 664.4,642.5 666.7,642.5 666.7,641.1 670.5,641.1 670.5,640.3 672.6,640.3 672.6,638.6 675.2,638.6 675.2,637.6 676.7,637.6 676.7,637.5 679.8,637.5 679.8,637.4 682.2,637.4 682.2,637.3 683.4,637.3 683.4,637.2 685.9,637.2 685.9,637.1 688.3,637.1 688.3,636.9 692.3,636.9 692.3,636.7 696.5,636.7 696.5,636.5 700.6,636.5 700.6,636.3 704.8,636.3 704.8,636.2 707.2,636.2 707.2,636.2 708.4,636.2 708.4,636.1 710.5,636.1 710.5,636.1 711.6,636.1 711.6,636.0 713.1,636.0 713.1,635.9 716.0,635.9 716.0,635.9 717.8,635.9 717.8,635.8 720.8,635.8 720.8,635.7 723.1,635.7 723.1,635.6 725.1,635.6 725.1,635.5 729.3,635.5 729.3,635.4 731.0,635.4 731.0,635.3 734.9,635.3 734.9,635.2 737.8,635.2 737.8,635.1 741.0,635.1 741.0,635.0 742.5,635.0 742.5,634.8 746.0,634.8 746.0,634.7 749.9,634.7 749.9,634.6 751.6,634.6 751.6,634.5 754.2,634.5 754.2,634.4 757.4,634.4 757.4,634.3 760.0,634.3 760.0,634.2 762.2,634.2 762.2,634.2 788.7,634.2 788.7,635.6 790.7,635.6" fill="none" stroke="#B3272D" stroke-width="2.9" stroke-linejoin="miter"/>
<text x="623.75" y="740.40" font-size="10.2" font-weight="normal" fill="#3FA58F" text-anchor="start" textLength="168.75" lengthAdjust="spacingAndGlyphs" fill-opacity="0.85">AFP AUC = 0.738 95% CI: 0.656−0.821</text>
<text x="622.50" y="749.75" font-size="10.2" font-weight="normal" fill="#E0852B" text-anchor="start" textLength="170.00" lengthAdjust="spacingAndGlyphs" fill-opacity="0.85">CEA AUC = 0.648 95% CI: 0.582−0.714</text>
<text x="615.00" y="758.65" font-size="10.2" font-weight="normal" fill="#7D7ABC" text-anchor="start" textLength="181.25" lengthAdjust="spacingAndGlyphs" fill-opacity="0.85">CA19.9 AUC = 0.569 95% CI: 0.492−0.646</text>
<text x="622.50" y="767.65" font-size="10.2" font-weight="normal" fill="#DB3E8A" text-anchor="start" textLength="173.75" lengthAdjust="spacingAndGlyphs" fill-opacity="0.85">CA125 AUC = 0.782 95% CI: 0.72−0.844</text>
<text x="618.75" y="777.05" font-size="10.2" font-weight="normal" fill="#6DAE3C" text-anchor="start" textLength="176.25" lengthAdjust="spacingAndGlyphs" fill-opacity="0.85">CA72.4 AUC = 0.626 95% CI: 0.55−0.703</text>
<text x="617.50" y="786.15" font-size="10.2" font-weight="normal" fill="#E9B224" text-anchor="start" textLength="168.75" lengthAdjust="spacingAndGlyphs" fill-opacity="0.85">CK19 AUC = 0.66 95% CI: 0.575−0.744</text>
<text x="618.75" y="795.05" font-size="10.2" font-weight="normal" fill="#A9853E" text-anchor="start" textLength="176.25" lengthAdjust="spacingAndGlyphs" fill-opacity="0.85">CA15.3 AUC = 0.818 95% CI: 0.755−0.88</text>
<text x="622.50" y="804.15" font-size="10.2" font-weight="normal" fill="#66788A" text-anchor="start" textLength="166.25" lengthAdjust="spacingAndGlyphs" fill-opacity="0.85">nse AUC = 0.744 95% CI: 0.664−0.824</text>
<text x="618.75" y="812.65" font-size="10.2" font-weight="normal" fill="#B3272D" text-anchor="start" textLength="176.25" lengthAdjust="spacingAndGlyphs" fill-opacity="0.85">model AUC = 0.944 95% CI: 0.922−0.965</text>
<rect x="585.00" y="625.75" width="215.30" height="200.85" fill="none" stroke="#000" stroke-width="2.9" />
<text x="582.00" y="822.81" font-size="12.6" font-weight="normal" fill="#4D4D4D" text-anchor="end" stroke="#4D4D4D" stroke-width="0.45">0.0</text>
<text x="594.25" y="840.76" font-size="12.6" font-weight="normal" fill="#4D4D4D" text-anchor="middle" stroke="#4D4D4D" stroke-width="0.45">0.0</text>
<text x="582.00" y="786.31" font-size="12.6" font-weight="normal" fill="#4D4D4D" text-anchor="end" stroke="#4D4D4D" stroke-width="0.45">0.2</text>
<text x="633.80" y="840.76" font-size="12.6" font-weight="normal" fill="#4D4D4D" text-anchor="middle" stroke="#4D4D4D" stroke-width="0.45">0.2</text>
<text x="582.00" y="749.81" font-size="12.6" font-weight="normal" fill="#4D4D4D" text-anchor="end" stroke="#4D4D4D" stroke-width="0.45">0.4</text>
<text x="673.35" y="840.76" font-size="12.6" font-weight="normal" fill="#4D4D4D" text-anchor="middle" stroke="#4D4D4D" stroke-width="0.45">0.4</text>
<text x="582.00" y="713.31" font-size="12.6" font-weight="normal" fill="#4D4D4D" text-anchor="end" stroke="#4D4D4D" stroke-width="0.45">0.6</text>
<text x="712.90" y="840.76" font-size="12.6" font-weight="normal" fill="#4D4D4D" text-anchor="middle" stroke="#4D4D4D" stroke-width="0.45">0.6</text>
<text x="582.00" y="676.81" font-size="12.6" font-weight="normal" fill="#4D4D4D" text-anchor="end" stroke="#4D4D4D" stroke-width="0.45">0.8</text>
<text x="752.45" y="840.76" font-size="12.6" font-weight="normal" fill="#4D4D4D" text-anchor="middle" stroke="#4D4D4D" stroke-width="0.45">0.8</text>
<text x="582.00" y="640.31" font-size="12.6" font-weight="normal" fill="#4D4D4D" text-anchor="end" stroke="#4D4D4D" stroke-width="0.45">1.0</text>
<text x="792.00" y="840.76" font-size="12.6" font-weight="normal" fill="#4D4D4D" text-anchor="middle" stroke="#4D4D4D" stroke-width="0.45">1.0</text>
<text x="560.00" y="726.50" font-size="13" font-weight="bold" fill="#000" text-anchor="middle" transform="rotate(-90 560.00 726.50)" textLength="63.00" lengthAdjust="spacingAndGlyphs" >sensitivity</text>
<text x="585.75" y="618.75" font-size="13" font-weight="bold" fill="#000" text-anchor="start" textLength="28.30" lengthAdjust="spacingAndGlyphs" >ROC</text>
<text x="691.25" y="854.15" font-size="13" font-weight="bold" fill="#000" text-anchor="middle" textLength="78.50" lengthAdjust="spacingAndGlyphs" >1−specificity</text>
</g>
<g id="pJ">
<text x="810.40" y="603.30" font-size="26.3" font-weight="normal" fill="#000" text-anchor="start" stroke="#000" stroke-width="0.35">J</text>
<line x1="850.75" y1="621.00" x2="850.75" y2="823.50" stroke="#E7E7E7" stroke-width="2.2" />
<line x1="893.75" y1="621.00" x2="893.75" y2="823.50" stroke="#E7E7E7" stroke-width="2.2" />
<line x1="935.75" y1="621.00" x2="935.75" y2="823.50" stroke="#E7E7E7" stroke-width="2.2" />
<line x1="978.00" y1="621.00" x2="978.00" y2="823.50" stroke="#E7E7E7" stroke-width="2.2" />
<line x1="1020.75" y1="621.00" x2="1020.75" y2="823.50" stroke="#E7E7E7" stroke-width="2.2" />
<line x1="1062.50" y1="621.00" x2="1062.50" y2="823.50" stroke="#E7E7E7" stroke-width="2.2" />
<line x1="843.50" y1="626.25" x2="1072.00" y2="626.25" stroke="#E7E7E7" stroke-width="2.2" />
<line x1="843.50" y1="662.50" x2="1072.00" y2="662.50" stroke="#E7E7E7" stroke-width="2.2" />
<line x1="843.50" y1="699.25" x2="1072.00" y2="699.25" stroke="#E7E7E7" stroke-width="2.2" />
<line x1="843.50" y1="735.75" x2="1072.00" y2="735.75" stroke="#E7E7E7" stroke-width="2.2" />
<line x1="843.50" y1="772.50" x2="1072.00" y2="772.50" stroke="#E7E7E7" stroke-width="2.2" />
<line x1="843.50" y1="808.75" x2="1072.00" y2="808.75" stroke="#E7E7E7" stroke-width="2.2" />
<clipPath id="cJ"><rect x="846" y="615" width="230" height="240"/></clipPath><g clip-path="url(#cJ)">
<polyline points="850.8,672.0 852.4,672.5 854.7,673.2 857.3,673.9 860.3,674.8 863.4,675.8 866.6,676.8 869.7,677.8 872.5,678.8 875.2,679.7 877.8,680.8 880.5,681.8 883.2,682.9 885.8,684.0 888.4,685.2 891.1,686.3 893.8,687.5 896.4,688.7 899.1,689.9 901.7,691.0 904.4,692.3 907.1,693.5 909.7,694.8 912.4,696.1 915.0,697.5 917.6,698.9 920.2,700.4 922.8,701.8 925.3,703.4 927.9,704.9 930.5,706.6 933.1,708.2 935.8,710.0 938.4,711.8 941.1,713.7 943.9,715.6 946.6,717.6 949.4,719.6 952.1,721.7 954.8,724.0 957.5,726.2 960.2,728.7 962.9,731.3 965.7,734.0 968.4,736.8 971.0,739.6 973.5,742.3 975.9,745.0 978.0,747.5 979.9,749.9 981.7,752.1 983.4,754.3 984.9,756.4 986.3,758.5 987.6,760.6 988.8,762.8 990.0,765.0 991.1,767.4 992.1,770.0 993.0,772.8 993.9,775.5 994.6,778.0 995.3,780.4 995.8,782.3 996.2,783.8 1001.2,787.5 1004.5,798.8 1007.5,765.0 1010.0,748.0 1012.0,765.0 1013.8,807.5 1015.0,830.0" fill="none" stroke="#707070" stroke-width="2.9" stroke-linejoin="round" stroke-linecap="round"/>
<polyline points="850.8,663.5 852.4,663.9 854.7,664.4 857.3,665.0 860.3,665.6 863.4,666.3 866.6,667.0 869.7,667.8 872.5,668.5 875.2,669.2 877.8,669.9 880.5,670.7 883.2,671.4 885.8,672.2 888.4,673.0 891.1,673.9 893.8,674.8 896.4,675.7 899.1,676.6 901.7,677.6 904.4,678.6 907.1,679.7 909.7,680.8 912.4,681.9 915.0,683.0 917.6,684.1 920.2,685.3 922.8,686.5 925.3,687.7 927.9,689.0 930.5,690.2 933.1,691.6 935.8,693.0 938.4,694.5 941.1,695.9 943.9,697.5 946.6,699.0 949.4,700.7 952.1,702.4 954.8,704.1 957.5,706.0 960.2,708.0 962.9,710.1 965.7,712.3 968.4,714.6 971.0,716.9 973.5,719.2 975.9,721.4 978.0,723.5 979.9,725.5 981.6,727.4 983.2,729.2 984.7,731.0 986.0,732.8 987.3,734.6 988.7,736.5 990.0,738.5 991.4,740.6 992.7,742.8 994.0,745.0 995.3,747.2 996.5,749.5 997.7,751.7 998.9,753.9 1000.0,756.0 1001.1,758.0 1002.1,759.9 1003.2,761.7 1004.1,763.5 1005.1,765.3 1005.9,767.1 1006.8,769.0 1007.5,771.0 1008.2,773.0 1008.7,775.1 1009.3,777.2 1009.7,779.4 1010.2,781.6 1010.5,783.8 1010.9,786.1 1011.2,788.5 1011.6,791.1 1011.9,794.0 1012.1,797.1 1012.4,800.2 1012.6,803.2 1012.7,805.8 1012.9,808.1 1013.0,809.8 1015.0,830.0 1019.5,822.5 1022.5,842.5" fill="none" stroke="#A8A8A8" stroke-width="2.9" stroke-linejoin="round" stroke-linecap="round"/>
<polyline points="850.8,664.6 853.1,665.0 856.4,666.9 860.3,666.8 864.5,669.0 868.7,669.8 872.5,670.4 876.1,672.3 879.6,672.4 883.2,674.2 886.7,674.6 890.2,675.8 893.8,677.8 897.3,680.2 900.9,680.5 904.4,682.5 908.0,685.1 911.5,687.7 915.0,688.9 918.5,690.5 921.9,693.6 925.3,693.7 928.8,697.5 932.2,698.5 935.8,700.5 939.4,703.0 943.3,706.1 947.1,710.0 950.9,711.6 954.4,715.1 957.5,717.8 960.1,719.6 962.4,722.1 964.3,723.3 966.2,725.3 968.0,727.5 970.0,730.4 972.1,731.7 974.3,733.1 976.4,735.3 978.5,736.7 980.6,738.0 982.5,740.6 984.3,742.3 986.1,743.5 987.8,746.2 989.4,748.0 991.0,750.1 992.5,750.5 993.9,749.3 995.2,749.8 996.4,746.6 997.6,745.5 998.8,744.5 1000.0,741.8 1001.3,741.3 1002.6,739.2 1003.9,739.2 1005.2,738.2 1006.4,736.5 1007.5,735.8 1008.5,732.9 1009.4,731.7 1010.3,729.5 1011.1,727.6 1011.8,725.8 1012.5,725.7 1013.0,725.9 1013.5,725.6 1013.8,727.1 1014.2,727.0 1014.5,729.1 1015.0,729.0 1015.6,728.9 1016.2,726.9 1016.8,723.9 1017.5,722.2 1018.1,721.2 1018.8,719.0 1019.4,719.8 1020.0,719.5 1020.5,720.0 1021.2,720.8 1021.8,723.2 1022.5,723.0 1023.3,724.4 1024.1,725.9 1024.9,728.3 1025.8,728.3 1026.7,730.7 1027.5,732.6 1028.4,735.1 1029.3,736.9 1030.2,739.1 1031.0,740.1 1031.8,742.6 1032.5,744.7 1033.0,748.1 1033.4,750.5 1033.8,751.3 1034.1,753.9 1034.5,756.6 1035.0,759.5 1035.7,763.0 1036.5,766.3 1037.3,768.9 1038.2,771.8 1039.1,776.2 1040.0,779.7 1040.9,784.3 1041.8,789.7 1042.7,793.9 1043.6,798.1 1044.3,802.2 1045.0,805.4 1045.5,806.0 1046.0,808.8 1046.3,809.0 1046.6,809.3 1046.8,809.2 1047.0,808.5" fill="none" stroke="#A9853E" stroke-width="2.9" stroke-linejoin="round" stroke-linecap="round"/>
<polyline points="850.8,661.5 852.4,661.9 854.7,662.4 857.3,663.0 860.3,663.6 863.4,664.3 866.6,665.0 869.7,665.8 872.5,666.5 875.2,667.2 877.8,667.9 880.5,668.7 883.2,669.4 885.8,670.2 888.4,671.0 891.1,671.9 893.8,672.8 896.4,673.7 899.1,674.6 901.7,675.6 904.4,676.6 907.1,677.7 909.7,678.8 912.4,679.9 915.0,681.0 917.6,682.1 920.2,683.3 922.8,684.5 925.3,685.7 927.9,687.0 930.5,688.2 933.1,689.6 935.8,691.0 938.4,692.5 941.1,693.9 943.9,695.5 946.6,697.0 949.4,698.7 952.1,700.4 954.8,702.1 957.5,704.0 960.2,706.0 962.9,708.1 965.7,710.3 968.4,712.6 971.0,714.9 973.5,717.2 975.9,719.4 978.0,721.5 979.9,723.5 981.6,725.4 983.2,727.2 984.7,729.0 986.0,730.8 987.3,732.6 988.7,734.5 990.0,736.5 991.4,738.6 992.7,740.8 994.0,743.0 995.3,745.2 996.5,747.5 997.7,749.7 998.9,751.9 1000.0,754.0 1001.1,756.0 1002.1,757.9 1003.2,759.7 1004.1,761.5 1005.1,763.3 1005.9,765.1 1006.8,767.0 1007.5,769.0 1008.2,771.0 1008.7,773.1 1009.3,775.2 1009.7,777.4 1010.2,779.6 1010.5,781.8 1010.9,784.1 1011.2,786.5 1011.6,789.1 1011.9,792.0 1012.1,795.1 1012.4,798.2 1012.6,801.2 1012.7,803.8 1012.9,806.1 1013.0,807.8 1013.8,808.8 1017.5,780.0 1022.5,770.0 1026.2,767.5 1030.0,772.5 1035.0,782.5 1045.0,790.0 1055.0,795.0 1060.8,800.0" fill="none" stroke="#7D7ABC" stroke-width="2.8" stroke-linejoin="round" stroke-linecap="round"/>
<polyline points="850.8,660.5 852.4,660.9 854.7,661.4 857.3,662.0 860.3,662.6 863.4,663.3 866.6,664.0 869.7,664.8 872.5,665.5 875.2,666.2 877.8,666.9 880.5,667.7 883.2,668.4 885.8,669.2 888.4,670.0 891.1,670.9 893.8,671.8 896.4,672.7 899.1,673.6 901.7,674.6 904.4,675.6 907.1,676.7 909.7,677.8 912.4,678.9 915.0,680.0 917.6,681.1 920.2,682.3 922.8,683.5 925.3,684.7 927.9,686.0 930.5,687.2 933.1,688.6 935.8,690.0 938.4,691.5 941.1,692.9 943.9,694.5 946.6,696.0 949.4,697.7 952.1,699.4 954.8,701.1 957.5,703.0 960.2,705.0 962.9,707.1 965.7,709.3 968.4,711.6 971.0,713.9 973.5,716.2 975.9,718.4 978.0,720.5 979.9,722.5 981.6,724.4 983.2,726.2 984.7,728.0 986.0,729.8 987.3,731.6 988.7,733.5 990.0,735.5 991.4,737.6 992.7,739.8 994.0,742.0 995.3,744.2 996.5,746.5 997.7,748.7 998.9,750.9 1000.0,753.0 1001.1,755.0 1002.1,756.9 1003.2,758.7 1004.1,760.5 1005.1,762.3 1005.9,764.1 1006.8,766.0 1007.5,768.0 1008.2,770.0 1008.7,772.1 1009.3,774.2 1009.7,776.4 1010.2,778.6 1010.5,780.8 1010.9,783.1 1011.2,785.5 1011.6,788.1 1011.9,791.0 1012.1,794.1 1012.4,797.2 1012.6,800.2 1012.7,802.8 1012.9,805.1 1013.0,806.8 1013.8,808.5 1013.9,801.3 1014.2,793.2 1014.5,781.3 1014.9,771.4 1015.5,764.3 1016.2,759.6 1017.1,757.1 1018.0,754.5 1019.0,752.9 1020.0,751.6 1021.0,749.5 1022.0,748.3 1023.0,745.8 1024.0,746.6 1025.0,745.3 1026.0,744.1 1027.0,745.0 1028.0,746.1 1029.0,747.3 1030.0,747.8 1031.0,750.7 1031.9,752.1 1032.8,752.0 1033.8,753.4 1035.0,754.0 1036.3,755.8 1037.8,758.3 1039.4,760.2 1041.0,763.8 1042.5,764.2 1043.9,765.8 1045.3,770.0 1046.8,770.9 1048.3,772.0 1050.0,775.1 1052.1,776.4 1054.6,780.5 1057.1,784.5 1059.2,786.7 1060.8,788.0" fill="none" stroke="#E0852B" stroke-width="3.0" stroke-linejoin="round" stroke-linecap="round"/>
<polyline points="850.8,662.5 852.4,662.9 854.7,663.4 857.3,664.0 860.3,664.6 863.4,665.3 866.6,666.0 869.7,666.8 872.5,667.5 875.2,668.2 877.8,668.9 880.5,669.7 883.2,670.4 885.8,671.2 888.4,672.0 891.1,672.9 893.8,673.8 896.4,674.7 899.1,675.6 901.7,676.6 904.4,677.6 907.1,678.7 909.7,679.8 912.4,680.9 915.0,682.0 917.6,683.1 920.2,684.3 922.8,685.5 925.3,686.7 927.9,688.0 930.5,689.2 933.1,690.6 935.8,692.0 938.4,693.5 941.1,694.9 943.9,696.5 946.6,698.0 949.4,699.7 952.1,701.4 954.8,703.1 957.5,705.0 960.2,707.0 962.9,709.1 965.7,711.3 968.4,713.6 971.0,715.9 973.5,718.2 975.9,720.4 978.0,722.5 979.9,724.5 981.6,726.4 983.2,728.2 984.7,730.0 986.0,731.8 987.3,733.6 988.7,735.5 990.0,737.5 991.4,739.6 992.7,741.8 994.0,744.0 995.3,746.2 996.5,748.5 997.7,750.7 998.9,752.9 1000.0,755.0 1001.1,757.0 1002.1,758.9 1003.2,760.7 1004.1,762.5 1005.1,764.3 1005.9,766.1 1006.8,768.0 1007.5,770.0 1008.2,772.0 1008.7,774.1 1009.3,776.2 1009.7,778.4 1010.2,780.6 1010.5,782.8 1010.9,785.1 1011.2,787.5 1011.6,790.1 1011.9,793.0 1012.1,796.1 1012.4,799.2 1012.6,802.2 1012.7,804.8 1012.9,807.1 1013.0,808.8 1013.8,808.8 1018.8,802.5 1021.2,807.5 1027.5,807.0 1060.8,807.0" fill="none" stroke="#DB3E8A" stroke-width="2.8" stroke-linejoin="round" stroke-linecap="round"/>
<polyline points="850.8,657.2 852.4,657.6 854.7,658.1 857.3,658.7 860.3,659.4 863.4,660.1 866.6,660.8 869.7,661.5 872.5,662.2 875.2,663.0 877.8,663.7 880.5,664.4 883.2,665.2 885.8,666.0 888.4,666.8 891.1,667.6 893.8,668.5 896.4,669.4 899.1,670.4 901.7,671.4 904.4,672.4 907.1,673.4 909.7,674.5 912.4,675.6 915.0,676.8 917.6,677.9 920.2,679.1 922.8,680.2 925.3,681.5 927.9,682.7 930.5,684.0 933.1,685.3 935.8,686.8 938.4,688.2 941.1,689.7 943.9,691.2 946.6,692.8 949.4,694.4 952.1,696.1 954.8,697.9 957.5,699.8 960.2,701.7 962.9,703.9 965.7,706.1 968.4,708.4 971.0,710.7 973.5,712.9 975.9,715.2 978.0,717.2 979.9,719.2 981.6,721.1 983.2,722.9 984.7,724.8 986.0,726.6 987.3,728.4 988.7,730.3 990.0,732.2 991.4,734.3 992.7,736.5 994.0,738.7 995.3,741.0 996.5,743.3 997.7,745.5 998.9,747.7 1000.0,749.8 1001.1,751.7 1002.1,753.6 1003.2,755.4 1004.1,757.2 1005.1,759.1 1005.9,760.9 1006.8,762.8 1007.5,764.8 1008.2,766.8 1008.7,768.9 1009.3,771.0 1009.7,773.1 1010.2,775.3 1010.5,777.6 1010.9,779.9 1011.2,782.2 1011.6,784.9 1011.9,787.8 1012.1,790.9 1012.4,794.0 1012.6,796.9 1012.7,799.6 1012.9,801.8 1013.0,803.5 1013.0,810.0 1013.8,750.0 1017.5,755.0 1021.2,765.0 1025.0,762.5 1028.8,760.0 1032.5,770.0 1040.0,790.0 1045.0,802.5 1050.0,807.5 1053.8,837.5 1056.2,842.5 1058.8,807.5" fill="none" stroke="#E9B224" stroke-width="3.8" stroke-linejoin="round" stroke-linecap="round"/>
<polyline points="850.8,665.2 852.4,665.6 854.7,666.1 857.3,666.7 860.3,667.4 863.4,668.1 866.6,668.8 869.7,669.5 872.5,670.2 875.2,671.0 877.8,671.7 880.5,672.4 883.2,673.2 885.8,674.0 888.4,674.8 891.1,675.6 893.8,676.5 896.4,677.4 899.1,678.4 901.7,679.4 904.4,680.4 907.1,681.4 909.7,682.5 912.4,683.6 915.0,684.8 917.6,685.9 920.2,687.1 922.8,688.2 925.3,689.5 927.9,690.7 930.5,692.0 933.1,693.3 935.8,694.8 938.4,696.2 941.1,697.7 943.9,699.2 946.6,700.8 949.4,702.4 952.1,704.1 954.8,705.9 957.5,707.8 960.2,709.7 962.9,711.9 965.7,714.1 968.4,716.4 971.0,718.7 973.5,720.9 975.9,723.2 978.0,725.2 979.9,727.2 981.6,729.1 983.2,730.9 984.7,732.8 986.0,734.6 987.3,736.4 988.7,738.3 990.0,740.2 991.4,742.3 992.7,744.5 994.0,746.7 995.3,749.0 996.5,751.3 997.7,753.5 998.9,755.7 1000.0,757.8 1001.1,759.7 1002.1,761.6 1003.2,763.4 1004.1,765.2 1005.1,767.1 1005.9,768.9 1006.8,770.8 1007.5,772.8 1008.2,774.8 1008.7,776.9 1009.3,779.0 1009.7,781.1 1010.2,783.3 1010.5,785.6 1010.9,787.9 1011.2,790.2 1011.6,792.9 1011.9,795.8 1012.1,798.9 1012.4,802.0 1012.6,804.9 1012.7,807.6 1012.9,809.8 1013.0,811.5 1013.0,808.8 1015.0,835.0 1017.5,842.5" fill="none" stroke="#3FA58F" stroke-width="3.0" stroke-linejoin="round" stroke-linecap="round"/>
<polyline points="850.8,662.8 852.4,663.1 854.7,663.6 857.3,664.2 860.3,664.9 863.4,665.6 866.6,666.3 869.7,667.0 872.5,667.8 875.2,668.5 877.8,669.2 880.5,669.9 883.2,670.7 885.8,671.5 888.4,672.3 891.1,673.1 893.8,674.0 896.4,674.9 899.1,675.9 901.7,676.9 904.4,677.9 907.1,678.9 909.7,680.0 912.4,681.1 915.0,682.2 917.6,683.4 920.2,684.6 922.8,685.7 925.3,687.0 927.9,688.2 930.5,689.5 933.1,690.8 935.8,692.2 938.4,693.7 941.1,695.2 943.9,696.7 946.6,698.3 949.4,699.9 952.1,701.6 954.8,703.4 957.5,705.2 960.2,707.2 962.9,709.4 965.7,711.6 968.4,713.9 971.0,716.2 973.5,718.4 975.9,720.7 978.0,722.8 979.9,724.7 981.6,726.6 983.2,728.4 984.7,730.2 986.0,732.1 987.3,733.9 988.7,735.8 990.0,737.8 991.4,739.8 992.7,742.0 994.0,744.2 995.3,746.5 996.5,748.8 997.7,751.0 998.9,753.2 1000.0,755.2 1001.1,757.2 1002.1,759.1 1003.2,760.9 1004.1,762.8 1005.1,764.6 1005.9,766.4 1006.8,768.3 1007.5,770.2 1008.2,772.3 1008.7,774.4 1009.3,776.5 1009.7,778.6 1010.2,780.8 1010.5,783.1 1010.9,785.4 1011.2,787.8 1011.6,790.4 1011.9,793.3 1012.1,796.4 1012.4,799.5 1012.6,802.4 1012.7,805.1 1012.9,807.3 1013.0,809.0 1013.8,830.0 1016.2,835.0 1018.0,776.2 1021.2,787.5 1025.0,797.5 1030.0,806.2 1037.5,807.5 1045.0,813.8 1047.5,805.5 1060.8,805.5" fill="none" stroke="#6DAE3C" stroke-width="4.6" stroke-linejoin="round" stroke-linecap="round"/>
<polyline points="850.8,644.5 852.4,644.7 854.7,644.9 857.3,645.2 860.3,645.6 863.4,645.9 866.6,646.3 869.7,646.6 872.5,647.0 875.2,647.3 877.8,647.7 880.5,648.0 883.2,648.4 885.8,648.7 888.4,649.1 891.1,649.5 893.8,650.0 896.4,650.5 899.1,651.0 901.7,651.5 904.4,652.1 907.1,652.7 909.7,653.3 912.4,653.9 915.0,654.5 917.6,655.1 920.2,655.8 922.8,656.4 925.3,657.1 927.9,657.7 930.5,658.5 933.1,659.2 935.8,660.0 938.4,660.8 941.1,661.7 943.9,662.6 946.6,663.5 949.4,664.5 952.1,665.5 954.8,666.5 957.5,667.5 960.3,668.6 963.2,669.8 966.2,671.1 969.1,672.3 971.9,673.6 974.3,674.6 976.4,675.6 978.0,676.2 992.5,683.8 995.0,681.2 997.5,684.5 1010.0,695.0 1020.8,707.5 1030.0,720.0 1037.5,730.0 1042.5,740.0 1046.2,742.5 1048.8,755.0 1051.2,741.2 1053.8,750.0 1056.2,785.0 1057.5,808.0 1060.8,808.0" fill="none" stroke="#B3272D" stroke-width="3.0" stroke-linejoin="round" stroke-linecap="round"/>
</g>
<line x1="850.00" y1="808.75" x2="1061.25" y2="808.75" stroke="#000" stroke-width="2.3" />
<line x1="842.30" y1="625.00" x2="842.30" y2="810.00" stroke="#000" stroke-width="2.6" />
<line x1="837.30" y1="626.25" x2="842.30" y2="626.25" stroke="#000" stroke-width="2.6" />
<line x1="837.30" y1="662.50" x2="842.30" y2="662.50" stroke="#000" stroke-width="2.6" />
<line x1="837.30" y1="699.25" x2="842.30" y2="699.25" stroke="#000" stroke-width="2.6" />
<line x1="837.30" y1="735.75" x2="842.30" y2="735.75" stroke="#000" stroke-width="2.6" />
<line x1="837.30" y1="772.50" x2="842.30" y2="772.50" stroke="#000" stroke-width="2.6" />
<line x1="837.30" y1="808.75" x2="842.30" y2="808.75" stroke="#000" stroke-width="2.6" />
<line x1="850.75" y1="825.40" x2="1062.50" y2="825.40" stroke="#000" stroke-width="2.6" />
<line x1="850.75" y1="825.00" x2="850.75" y2="830.00" stroke="#000" stroke-width="2.2" />
<line x1="893.75" y1="825.00" x2="893.75" y2="830.00" stroke="#000" stroke-width="2.2" />
<line x1="935.75" y1="825.00" x2="935.75" y2="830.00" stroke="#000" stroke-width="2.2" />
<line x1="978.00" y1="825.00" x2="978.00" y2="830.00" stroke="#000" stroke-width="2.2" />
<line x1="1020.75" y1="825.00" x2="1020.75" y2="830.00" stroke="#000" stroke-width="2.2" />
<line x1="1062.50" y1="825.00" x2="1062.50" y2="830.00" stroke="#000" stroke-width="2.2" />
<text x="833.20" y="620.60" font-size="13" font-weight="bold" fill="#000" text-anchor="middle" transform="rotate(-90 833.20 620.60)" >1.0</text>
<text x="833.20" y="657.50" font-size="13" font-weight="bold" fill="#000" text-anchor="middle" transform="rotate(-90 833.20 657.50)" >0.8</text>
<text x="833.20" y="694.40" font-size="13" font-weight="bold" fill="#000" text-anchor="middle" transform="rotate(-90 833.20 694.40)" >0.6</text>
<text x="833.20" y="731.00" font-size="13" font-weight="bold" fill="#000" text-anchor="middle" transform="rotate(-90 833.20 731.00)" >0.4</text>
<text x="833.20" y="767.75" font-size="13" font-weight="bold" fill="#000" text-anchor="middle" transform="rotate(-90 833.20 767.75)" >0.2</text>
<text x="833.20" y="804.40" font-size="13" font-weight="bold" fill="#000" text-anchor="middle" transform="rotate(-90 833.20 804.40)" >0.0</text>
<text x="855.60" y="839.85" font-size="13" font-weight="bold" fill="#000" text-anchor="middle" >0.0</text>
<text x="897.90" y="839.85" font-size="13" font-weight="bold" fill="#000" text-anchor="middle" >0.2</text>
<text x="940.00" y="839.85" font-size="13" font-weight="bold" fill="#000" text-anchor="middle" >0.4</text>
<text x="981.90" y="839.85" font-size="13" font-weight="bold" fill="#000" text-anchor="middle" >0.6</text>
<text x="1024.40" y="839.85" font-size="13" font-weight="bold" fill="#000" text-anchor="middle" >0.8</text>
<text x="1067.60" y="839.85" font-size="13" font-weight="bold" fill="#000" text-anchor="middle" >1.0</text>
<text x="822.00" y="706.60" font-size="14" font-weight="bold" fill="#000" text-anchor="middle" transform="rotate(-90 822.00 706.60)" textLength="74.00" lengthAdjust="spacingAndGlyphs" >Net Benefit</text>
<rect x="1021.25" y="621.25" width="53.75" height="94.50" fill="#fff" stroke="#000" stroke-width="2.6" />
<line x1="1023.50" y1="628.75" x2="1037.00" y2="628.75" stroke="#3FA58F" stroke-width="2.7" />
<text transform="translate(1038,632.45) scale(0.87,1)" font-size="10.6" fill="#3A3A3A">AFP</text>
<line x1="1023.50" y1="636.68" x2="1037.00" y2="636.68" stroke="#E0852B" stroke-width="2.7" />
<text transform="translate(1038,640.38) scale(0.87,1)" font-size="10.6" fill="#3A3A3A">CEA</text>
<line x1="1023.50" y1="644.61" x2="1037.00" y2="644.61" stroke="#7D7ABC" stroke-width="2.7" />
<text transform="translate(1038,648.31) scale(0.87,1)" font-size="10.6" fill="#3A3A3A">CA19.9</text>
<line x1="1023.50" y1="652.54" x2="1037.00" y2="652.54" stroke="#DB3E8A" stroke-width="2.7" />
<text transform="translate(1038,656.24) scale(0.87,1)" font-size="10.6" fill="#3A3A3A">CA125</text>
<line x1="1023.50" y1="660.47" x2="1037.00" y2="660.47" stroke="#6DAE3C" stroke-width="2.7" />
<text transform="translate(1038,664.17) scale(0.87,1)" font-size="10.6" fill="#3A3A3A">CA72.4</text>
<line x1="1023.50" y1="668.40" x2="1037.00" y2="668.40" stroke="#E9B224" stroke-width="2.7" />
<text transform="translate(1038,672.10) scale(0.87,1)" font-size="10.6" fill="#3A3A3A">CK19</text>
<line x1="1023.50" y1="676.33" x2="1037.00" y2="676.33" stroke="#A9853E" stroke-width="2.7" />
<text transform="translate(1038,680.03) scale(0.87,1)" font-size="10.6" fill="#3A3A3A">CA15.3</text>
<line x1="1023.50" y1="684.26" x2="1037.00" y2="684.26" stroke="#707070" stroke-width="2.7" />
<text transform="translate(1038,687.96) scale(0.87,1)" font-size="10.6" fill="#3A3A3A">nse</text>
<line x1="1023.50" y1="692.19" x2="1037.00" y2="692.19" stroke="#B3272D" stroke-width="2.7" />
<text transform="translate(1038,695.89) scale(0.87,1)" font-size="10.6" fill="#3A3A3A">model</text>
<line x1="1023.50" y1="700.12" x2="1037.00" y2="700.12" stroke="#A8A8A8" stroke-width="2.7" />
<text transform="translate(1038,703.82) scale(0.87,1)" font-size="10.6" fill="#3A3A3A">All</text>
<line x1="1023.50" y1="708.05" x2="1037.00" y2="708.05" stroke="#000" stroke-width="2.7" />
<text transform="translate(1038,711.75) scale(0.87,1)" font-size="10.6" fill="#3A3A3A">None</text>
</g>
</svg></body></html>
